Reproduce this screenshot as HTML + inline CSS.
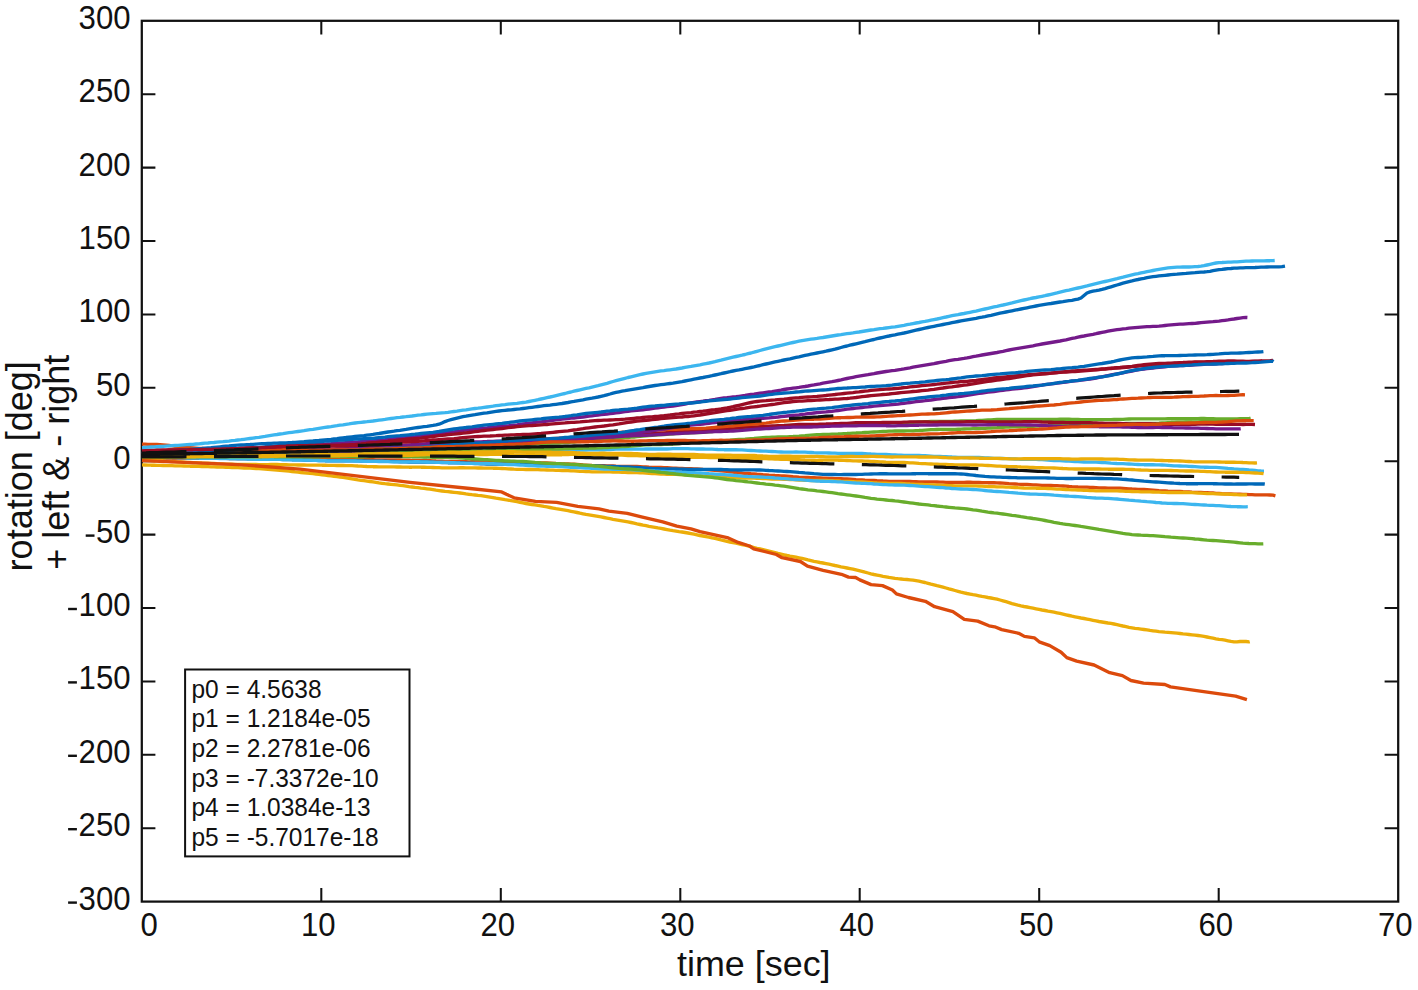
<!DOCTYPE html>
<html><head><meta charset="utf-8"><title>rotation vs time</title>
<style>
html,body{margin:0;padding:0;background:#fff;}
body{width:1418px;height:990px;overflow:hidden;font-family:"Liberation Sans",sans-serif;}
svg{display:block;}
svg text{font-family:"Liberation Sans",sans-serif;fill:#111;}
</style></head>
<body>
<svg width="1418" height="990" viewBox="0 0 1418 990">
<rect width="1418" height="990" fill="#ffffff"/>
<g fill="none" stroke="#111" stroke-width="2.05"><path d="M321.3 901.6 v-13.6 M321.3 20.8 v13.6"/><path d="M500.8 901.6 v-13.6 M500.8 20.8 v13.6"/><path d="M680.3 901.6 v-13.6 M680.3 20.8 v13.6"/><path d="M859.7 901.6 v-13.6 M859.7 20.8 v13.6"/><path d="M1039.2 901.6 v-13.6 M1039.2 20.8 v13.6"/><path d="M1218.7 901.6 v-13.6 M1218.7 20.8 v13.6"/><path d="M141.8 94.2 h13.6 M1398.2 94.2 h-13.6"/><path d="M141.8 167.6 h13.6 M1398.2 167.6 h-13.6"/><path d="M141.8 241.0 h13.6 M1398.2 241.0 h-13.6"/><path d="M141.8 314.4 h13.6 M1398.2 314.4 h-13.6"/><path d="M141.8 387.8 h13.6 M1398.2 387.8 h-13.6"/><path d="M141.8 461.2 h13.6 M1398.2 461.2 h-13.6"/><path d="M141.8 534.6 h13.6 M1398.2 534.6 h-13.6"/><path d="M141.8 608.0 h13.6 M1398.2 608.0 h-13.6"/><path d="M141.8 681.4 h13.6 M1398.2 681.4 h-13.6"/><path d="M141.8 754.8 h13.6 M1398.2 754.8 h-13.6"/><path d="M141.8 828.2 h13.6 M1398.2 828.2 h-13.6"/></g>
<rect x="141.8" y="20.8" width="1256.4" height="880.8" fill="none" stroke="#111" stroke-width="2.25"/>
<g fill="none" stroke-width="3.35" stroke-linejoin="round" stroke-linecap="butt">
<path d="M142.0 454.0 L145.0 453.8 L148.0 453.7 L151.0 453.5 L154.0 453.4 L157.0 453.2 L160.0 453.1 L163.0 453.0 L166.0 452.8 L169.0 452.7 L172.0 452.5 L175.0 452.4 L178.0 452.2 L181.0 452.1 L184.0 451.9 L187.0 451.8 L190.0 451.7 L193.0 451.6 L196.0 451.4 L199.0 451.3 L202.0 451.1 L205.0 451.0 L208.0 450.8 L211.0 450.7 L214.0 450.5 L217.0 450.4 L220.0 450.3 L223.0 450.2 L226.0 450.0 L229.0 449.9 L232.0 449.7 L235.0 449.6 L238.0 449.4 L241.0 449.3 L244.0 449.1 L247.0 449.0 L250.0 448.9 L253.0 448.8 L256.0 448.7 L259.0 448.6 L262.0 448.4 L265.0 448.2 L268.0 448.0 L271.0 447.8 L274.0 447.6 L277.0 447.5 L280.0 447.3 L283.0 447.1 L286.0 447.0 L289.0 446.8 L292.0 446.5 L295.0 446.3 L298.0 446.0 L301.0 445.7 L304.0 445.5 L307.0 445.2 L310.0 445.0 L313.0 444.9 L316.0 444.7 L319.0 444.5 L322.0 444.3 L325.0 444.1 L328.0 443.9 L331.0 443.7 L334.0 443.4 L337.0 443.2 L340.0 443.0 L343.0 442.9 L346.0 442.7 L349.0 442.6 L352.0 442.4 L355.0 442.2 L358.0 442.0 L361.0 441.7 L364.0 441.4 L367.0 441.1 L370.0 440.8 L373.0 440.5 L376.0 440.3 L379.0 440.1 L382.0 439.8 L385.0 439.6 L388.0 439.3 L391.0 439.0 L394.0 438.6 L397.0 438.3 L400.0 437.9 L403.0 437.6 L406.0 437.4 L409.0 437.2 L412.0 436.9 L415.0 436.7 L418.0 436.4 L421.0 436.1 L424.0 435.7 L427.0 435.3 L430.0 434.9 L433.0 434.5 L436.0 434.1 L439.0 433.7 L442.0 433.3 L445.0 433.0 L448.0 432.6 L451.0 432.2 L454.0 431.8 L457.0 431.3 L460.0 430.9 L463.0 430.4 L466.0 430.0 L469.0 429.6 L472.0 429.3 L475.0 429.0 L478.0 428.8 L481.0 428.5 L484.0 428.2 L487.0 427.9 L490.0 427.5 L493.0 427.2 L496.0 426.8 L499.0 426.5 L502.0 426.2 L505.0 426.0 L508.0 425.8 L511.0 425.5 L514.0 425.2 L517.0 424.9 L520.0 424.5 L523.0 424.0 L526.0 423.6 L529.0 423.2 L532.0 422.8 L535.0 422.4 L538.0 422.1 L541.0 421.8 L544.0 421.5 L547.0 421.1 L550.0 420.7 L553.0 420.3 L556.0 419.9 L559.0 419.5 L562.0 419.1 L565.0 418.8 L568.0 418.5 L571.0 418.2 L574.0 418.0 L577.0 417.7 L580.0 417.4 L583.0 417.0 L586.0 416.6 L589.0 416.2 L592.0 415.8 L595.0 415.4 L598.0 415.0 L601.0 414.7 L604.0 414.4 L607.0 414.1 L610.0 413.7 L613.0 413.3 L616.0 412.9 L619.0 412.5 L622.0 412.0 L625.0 411.6 L628.0 411.3 L631.0 410.9 L634.0 410.6 L637.0 410.4 L640.0 410.1 L643.0 409.8 L646.0 409.4 L649.0 409.0 L652.0 408.6 L655.0 408.2 L658.0 407.8 L661.0 407.4 L664.0 407.1 L667.0 406.7 L670.0 406.4 L673.0 406.0 L676.0 405.5 L679.0 405.0 L682.0 404.5 L685.0 404.0 L688.0 403.4 L691.0 402.9 L694.0 402.4 L697.0 402.0 L700.0 401.6 L703.0 401.2 L706.0 400.7 L709.0 400.3 L712.0 399.8 L715.0 399.4 L718.0 398.9 L721.0 398.4 L724.0 398.0 L727.0 397.7 L730.0 397.3 L733.0 397.0 L736.0 396.7 L739.0 396.3 L742.0 395.9 L745.0 395.5 L748.0 395.0 L751.0 394.5 L754.0 394.1 L757.0 393.6 L760.0 393.2 L763.0 392.8 L766.0 392.4 L769.0 392.0 L772.0 391.6 L775.0 391.1 L778.0 390.6 L781.0 390.1 L784.0 389.5 L787.0 389.0 L790.0 388.6 L793.0 388.2 L796.0 387.8 L799.0 387.4 L802.0 386.9 L805.0 386.5 L808.0 386.0 L811.0 385.4 L814.0 384.9 L817.0 384.3 L820.0 383.8 L823.0 383.2 L826.0 382.7 L829.0 382.2 L832.0 381.7 L835.0 381.1 L838.0 380.5 L841.0 379.9 L844.0 379.2 L847.0 378.5 L850.0 377.9 L853.0 377.3 L856.0 376.7 L859.0 376.2 L862.0 375.7 L865.0 375.2 L868.0 374.7 L871.0 374.1 L874.0 373.6 L877.0 373.0 L880.0 372.5 L883.0 372.0 L886.0 371.5 L889.0 371.1 L892.0 370.7 L895.0 370.3 L898.0 369.8 L901.0 369.4 L904.0 368.9 L907.0 368.3 L910.0 367.8 L913.0 367.2 L916.0 366.6 L919.0 366.1 L922.0 365.6 L925.0 365.1 L928.0 364.6 L931.0 364.1 L934.0 363.6 L937.0 363.0 L940.0 362.4 L943.0 361.8 L946.0 361.3 L949.0 360.7 L952.0 360.2 L955.0 359.7 L958.0 359.3 L961.0 358.8 L964.0 358.4 L967.0 357.9 L970.0 357.3 L973.0 356.7 L976.0 356.2 L979.0 355.6 L982.0 355.0 L985.0 354.5 L988.0 354.0 L991.0 353.5 L994.0 353.0 L997.0 352.5 L1000.0 351.9 L1003.0 351.3 L1006.0 350.6 L1009.0 350.0 L1012.0 349.4 L1015.0 348.8 L1018.0 348.3 L1021.0 347.8 L1024.0 347.3 L1027.0 346.8 L1030.0 346.3 L1033.0 345.8 L1036.0 345.2 L1039.0 344.6 L1042.0 344.0 L1045.0 343.5 L1048.0 343.0 L1051.0 342.5 L1054.0 342.0 L1057.0 341.5 L1060.0 341.0 L1063.0 340.4 L1066.0 339.8 L1069.0 339.1 L1072.0 338.4 L1075.0 337.8 L1078.0 337.1 L1081.0 336.5 L1084.0 336.0 L1087.0 335.4 L1090.0 334.8 L1093.0 334.3 L1096.0 333.7 L1099.0 333.0 L1102.0 332.4 L1105.0 331.8 L1108.0 331.2 L1111.0 330.6 L1114.0 330.1 L1117.0 329.7 L1120.0 329.3 L1123.0 328.9 L1126.0 328.6 L1129.0 328.2 L1132.0 327.9 L1135.0 327.6 L1138.0 327.3 L1141.0 327.1 L1144.0 326.9 L1147.0 326.7 L1150.0 326.6 L1153.0 326.4 L1156.0 326.3 L1159.0 326.1 L1162.0 325.8 L1165.0 325.5 L1168.0 325.2 L1171.0 324.9 L1174.0 324.6 L1177.0 324.4 L1180.0 324.2 L1183.0 324.1 L1186.0 323.9 L1189.0 323.7 L1192.0 323.5 L1195.0 323.3 L1198.0 323.0 L1201.0 322.7 L1204.0 322.4 L1207.0 322.1 L1210.0 321.8 L1213.0 321.6 L1216.0 321.3 L1219.0 321.1 L1222.0 320.7 L1225.0 320.3 L1228.0 319.9 L1231.0 319.4 L1234.0 319.0 L1237.0 318.5 L1240.0 318.1 L1243.0 317.7 L1246.0 317.4 L1247.4 317.5" stroke="#741A8A"/>
<path d="M142.0 458.0 L145.0 458.0 L148.0 458.0 L151.0 458.1 L154.0 458.1 L157.0 458.1 L160.0 458.1 L163.0 458.2 L166.0 458.2 L169.0 458.2 L172.0 458.2 L175.0 458.2 L178.0 458.3 L181.0 458.3 L184.0 458.3 L187.0 458.3 L190.0 458.3 L193.0 458.3 L196.0 458.3 L199.0 458.3 L202.0 458.3 L205.0 458.3 L208.0 458.3 L211.0 458.3 L214.0 458.3 L217.0 458.3 L220.0 458.4 L223.0 458.4 L226.0 458.4 L229.0 458.5 L232.0 458.5 L235.0 458.5 L238.0 458.5 L241.0 458.5 L244.0 458.5 L247.0 458.6 L250.0 458.6 L253.0 458.6 L256.0 458.7 L259.0 458.7 L262.0 458.7 L265.0 458.7 L268.0 458.7 L271.0 458.7 L274.0 458.7 L277.0 458.7 L280.0 458.8 L283.0 458.9 L286.0 458.9 L289.0 459.0 L292.0 459.1 L295.0 459.1 L298.0 459.1 L301.0 459.1 L304.0 459.2 L307.0 459.3 L310.0 459.3 L313.0 459.4 L316.0 459.5 L319.0 459.5 L322.0 459.5 L325.0 459.5 L328.0 459.4 L331.0 459.4 L334.0 459.3 L337.0 459.3 L340.0 459.3 L343.0 459.4 L346.0 459.4 L349.0 459.4 L352.0 459.4 L355.0 459.4 L358.0 459.4 L361.0 459.4 L364.0 459.4 L367.0 459.5 L370.0 459.6 L373.0 459.7 L376.0 459.8 L379.0 459.9 L382.0 459.9 L385.0 459.9 L388.0 459.9 L391.0 459.9 L394.0 459.9 L397.0 459.9 L400.0 460.0 L403.0 460.1 L406.0 460.2 L409.0 460.2 L412.0 460.3 L415.0 460.3 L418.0 460.3 L421.0 460.3 L424.0 460.3 L427.0 460.5 L430.0 460.6 L433.0 460.8 L436.0 461.0 L439.0 461.1 L442.0 461.2 L445.0 461.3 L448.0 461.3 L451.0 461.3 L454.0 461.4 L457.0 461.5 L460.0 461.5 L463.0 461.6 L466.0 461.7 L469.0 461.8 L472.0 461.7 L475.0 461.7 L478.0 461.6 L481.0 461.6 L484.0 461.5 L487.0 461.5 L490.0 461.6 L493.0 461.7 L496.0 461.8 L499.0 461.9 L502.0 462.0 L505.0 462.0 L508.0 462.0 L511.0 462.0 L514.0 462.1 L517.0 462.2 L520.0 462.4 L523.0 462.5 L526.0 462.7 L529.0 462.8 L532.0 462.9 L535.0 462.9 L538.0 462.9 L541.0 462.9 L544.0 462.9 L547.0 463.0 L550.0 463.1 L553.0 463.3 L556.0 463.5 L559.0 463.6 L562.0 463.8 L565.0 463.9 L568.0 464.0 L571.0 464.1 L574.0 464.2 L577.0 464.4 L580.0 464.6 L583.0 464.9 L586.0 465.1 L589.0 465.3 L592.0 465.5 L595.0 465.6 L598.0 465.6 L601.0 465.7 L604.0 465.7 L607.0 465.8 L610.0 465.9 L613.0 466.0 L616.0 466.2 L619.0 466.3 L622.0 466.3 L625.0 466.3 L628.0 466.3 L631.0 466.3 L634.0 466.4 L637.0 466.5 L640.0 466.6 L643.0 466.8 L646.0 467.0 L649.0 467.2 L652.0 467.3 L655.0 467.4 L658.0 467.5 L661.0 467.5 L664.0 467.6 L667.0 467.7 L670.0 467.9 L673.0 468.1 L676.0 468.2 L679.0 468.4 L682.0 468.5 L685.0 468.6 L688.0 468.6 L691.0 468.7 L694.0 468.8 L697.0 468.9 L700.0 469.1 L703.0 469.4 L706.0 469.6 L709.0 469.9 L712.0 470.2 L715.0 470.4 L718.0 470.6 L721.0 470.9 L724.0 471.1 L727.0 471.4 L730.0 471.8 L733.0 472.1 L736.0 472.5 L739.0 472.8 L742.0 473.1 L745.0 473.3 L748.0 473.5 L751.0 473.7 L754.0 473.8 L757.0 474.1 L760.0 474.3 L763.0 474.6 L766.0 474.8 L769.0 475.1 L772.0 475.3 L775.0 475.5 L778.0 475.6 L781.0 475.8 L784.0 476.0 L787.0 476.2 L790.0 476.4 L793.0 476.7 L796.0 476.9 L799.0 477.2 L802.0 477.3 L805.0 477.5 L808.0 477.5 L811.0 477.6 L814.0 477.7 L817.0 477.8 L820.0 477.9 L823.0 478.1 L826.0 478.2 L829.0 478.4 L832.0 478.5 L835.0 478.6 L838.0 478.6 L841.0 478.7 L844.0 478.8 L847.0 478.9 L850.0 479.1 L853.0 479.3 L856.0 479.6 L859.0 479.8 L862.0 480.0 L865.0 480.2 L868.0 480.3 L871.0 480.4 L874.0 480.5 L877.0 480.7 L880.0 480.8 L883.0 481.0 L886.0 481.1 L889.0 481.3 L892.0 481.4 L895.0 481.4 L898.0 481.4 L901.0 481.4 L904.0 481.4 L907.0 481.4 L910.0 481.5 L913.0 481.6 L916.0 481.7 L919.0 481.8 L922.0 481.9 L925.0 481.9 L928.0 481.9 L931.0 481.9 L934.0 481.9 L937.0 482.0 L940.0 482.1 L943.0 482.2 L946.0 482.3 L949.0 482.4 L952.0 482.4 L955.0 482.4 L958.0 482.4 L961.0 482.3 L964.0 482.3 L967.0 482.2 L970.0 482.2 L973.0 482.3 L976.0 482.4 L979.0 482.5 L982.0 482.6 L985.0 482.6 L988.0 482.7 L991.0 482.7 L994.0 482.7 L997.0 482.8 L1000.0 483.0 L1003.0 483.2 L1006.0 483.4 L1009.0 483.7 L1012.0 483.9 L1015.0 484.0 L1018.0 484.2 L1021.0 484.3 L1024.0 484.3 L1027.0 484.4 L1030.0 484.6 L1033.0 484.8 L1036.0 484.9 L1039.0 485.1 L1042.0 485.3 L1045.0 485.4 L1048.0 485.4 L1051.0 485.5 L1054.0 485.6 L1057.0 485.7 L1060.0 485.8 L1063.0 486.0 L1066.0 486.2 L1069.0 486.5 L1072.0 486.7 L1075.0 486.8 L1078.0 487.0 L1081.0 487.1 L1084.0 487.1 L1087.0 487.2 L1090.0 487.4 L1093.0 487.5 L1096.0 487.7 L1099.0 487.9 L1102.0 488.0 L1105.0 488.0 L1108.0 488.1 L1111.0 488.1 L1114.0 488.1 L1117.0 488.1 L1120.0 488.2 L1123.0 488.4 L1126.0 488.6 L1129.0 488.8 L1132.0 489.0 L1135.0 489.1 L1138.0 489.3 L1141.0 489.4 L1144.0 489.5 L1147.0 489.7 L1150.0 489.9 L1153.0 490.1 L1156.0 490.4 L1159.0 490.7 L1162.0 490.9 L1165.0 491.0 L1168.0 491.2 L1171.0 491.3 L1174.0 491.3 L1177.0 491.4 L1180.0 491.5 L1183.0 491.7 L1186.0 491.8 L1189.0 492.0 L1192.0 492.2 L1195.0 492.3 L1198.0 492.4 L1201.0 492.5 L1204.0 492.6 L1207.0 492.7 L1210.0 492.8 L1213.0 493.0 L1216.0 493.3 L1219.0 493.5 L1222.0 493.7 L1225.0 493.8 L1228.0 493.9 L1231.0 494.0 L1234.0 494.1 L1237.0 494.1 L1240.0 494.2 L1243.0 494.3 L1246.0 494.4 L1249.0 494.6 L1252.0 494.7 L1255.0 494.8 L1258.0 494.8 L1261.0 494.8 L1264.0 494.9 L1267.0 494.9 L1270.0 495.0 L1273.0 495.2 L1275.4 495.8" stroke="#DC4A0C"/>
<path d="M142.0 460.0 L145.0 460.1 L148.0 460.3 L151.0 460.4 L154.0 460.6 L157.0 460.7 L160.0 460.9 L163.0 461.0 L166.0 461.2 L169.0 461.3 L172.0 461.5 L175.0 461.6 L178.0 461.8 L181.0 461.9 L184.0 462.1 L187.0 462.3 L190.0 462.4 L193.0 462.6 L196.0 462.7 L199.0 462.8 L202.0 463.0 L205.0 463.1 L208.0 463.2 L211.0 463.4 L214.0 463.5 L217.0 463.7 L220.0 463.8 L223.0 463.9 L226.0 464.1 L229.0 464.1 L232.0 464.2 L235.0 464.3 L238.0 464.3 L241.0 464.3 L244.0 464.4 L247.0 464.4 L250.0 464.5 L253.0 464.5 L256.0 464.5 L259.0 464.6 L262.0 464.6 L265.0 464.6 L268.0 464.6 L271.0 464.5 L274.0 464.5 L277.0 464.5 L280.0 464.6 L283.0 464.6 L286.0 464.7 L289.0 464.8 L292.0 464.8 L295.0 464.9 L298.0 465.0 L301.0 465.0 L304.0 465.0 L307.0 465.1 L310.0 465.1 L313.0 465.1 L316.0 465.1 L319.0 465.1 L322.0 465.2 L325.0 465.2 L328.0 465.3 L331.0 465.4 L334.0 465.4 L337.0 465.5 L340.0 465.5 L343.0 465.5 L346.0 465.6 L349.0 465.6 L352.0 465.7 L355.0 465.8 L358.0 466.0 L361.0 466.1 L364.0 466.3 L367.0 466.5 L370.0 466.6 L373.0 466.7 L376.0 466.7 L379.0 466.8 L382.0 466.8 L385.0 466.8 L388.0 466.8 L391.0 466.8 L394.0 466.9 L397.0 467.0 L400.0 467.0 L403.0 467.1 L406.0 467.1 L409.0 467.2 L412.0 467.2 L415.0 467.1 L418.0 467.1 L421.0 467.2 L424.0 467.2 L427.0 467.3 L430.0 467.4 L433.0 467.5 L436.0 467.6 L439.0 467.7 L442.0 467.8 L445.0 467.9 L448.0 467.9 L451.0 467.9 L454.0 467.8 L457.0 467.8 L460.0 467.7 L463.0 467.7 L466.0 467.8 L469.0 467.8 L472.0 467.9 L475.0 467.9 L478.0 468.0 L481.0 468.0 L484.0 468.1 L487.0 468.1 L490.0 468.1 L493.0 468.2 L496.0 468.2 L499.0 468.4 L502.0 468.5 L505.0 468.7 L508.0 468.9 L511.0 469.0 L514.0 469.2 L517.0 469.3 L520.0 469.4 L523.0 469.4 L526.0 469.5 L529.0 469.5 L532.0 469.5 L535.0 469.6 L538.0 469.6 L541.0 469.8 L544.0 469.9 L547.0 470.0 L550.0 470.1 L553.0 470.2 L556.0 470.3 L559.0 470.4 L562.0 470.5 L565.0 470.5 L568.0 470.6 L571.0 470.8 L574.0 470.9 L577.0 471.1 L580.0 471.3 L583.0 471.4 L586.0 471.6 L589.0 471.7 L592.0 471.8 L595.0 471.8 L598.0 471.8 L601.0 471.8 L604.0 471.8 L607.0 471.8 L610.0 471.9 L613.0 472.0 L616.0 472.1 L619.0 472.2 L622.0 472.3 L625.0 472.4 L628.0 472.5 L631.0 472.5 L634.0 472.6 L637.0 472.7 L640.0 472.8 L643.0 472.9 L646.0 473.1 L649.0 473.3 L652.0 473.5 L655.0 473.7 L658.0 473.9 L661.0 474.1 L664.0 474.2 L667.0 474.3 L670.0 474.3 L673.0 474.4 L676.0 474.4 L679.0 474.5 L682.0 474.6 L685.0 474.8 L688.0 474.9 L691.0 475.1 L694.0 475.3 L697.0 475.5 L700.0 475.6 L703.0 475.8 L706.0 475.9 L709.0 476.0 L712.0 476.2 L715.0 476.4 L718.0 476.6 L721.0 476.8 L724.0 477.0 L727.0 477.2 L730.0 477.5 L733.0 477.6 L736.0 477.8 L739.0 477.9 L742.0 477.9 L745.0 478.0 L748.0 478.0 L751.0 478.1 L754.0 478.1 L757.0 478.3 L760.0 478.4 L763.0 478.5 L766.0 478.7 L769.0 478.8 L772.0 479.0 L775.0 479.1 L778.0 479.1 L781.0 479.2 L784.0 479.3 L787.0 479.4 L790.0 479.6 L793.0 479.7 L796.0 479.9 L799.0 480.1 L802.0 480.2 L805.0 480.3 L808.0 480.4 L811.0 480.5 L814.0 480.5 L817.0 480.5 L820.0 480.5 L823.0 480.5 L826.0 480.5 L829.0 480.6 L832.0 480.7 L835.0 480.9 L838.0 481.0 L841.0 481.2 L844.0 481.3 L847.0 481.4 L850.0 481.5 L853.0 481.6 L856.0 481.8 L859.0 481.9 L862.0 482.0 L865.0 482.2 L868.0 482.4 L871.0 482.6 L874.0 482.8 L877.0 483.0 L880.0 483.1 L883.0 483.2 L886.0 483.2 L889.0 483.3 L892.0 483.3 L895.0 483.3 L898.0 483.4 L901.0 483.5 L904.0 483.6 L907.0 483.8 L910.0 484.0 L913.0 484.1 L916.0 484.3 L919.0 484.4 L922.0 484.5 L925.0 484.6 L928.0 484.7 L931.0 484.8 L934.0 484.9 L937.0 485.1 L940.0 485.2 L943.0 485.4 L946.0 485.5 L949.0 485.6 L952.0 485.7 L955.0 485.8 L958.0 485.8 L961.0 485.8 L964.0 485.8 L967.0 485.8 L970.0 485.8 L973.0 485.8 L976.0 485.9 L979.0 486.1 L982.0 486.2 L985.0 486.3 L988.0 486.5 L991.0 486.6 L994.0 486.7 L997.0 486.8 L1000.0 486.9 L1003.0 486.9 L1006.0 487.1 L1009.0 487.2 L1012.0 487.4 L1015.0 487.5 L1018.0 487.7 L1021.0 487.8 L1024.0 488.0 L1027.0 488.1 L1030.0 488.1 L1033.0 488.1 L1036.0 488.2 L1039.0 488.2 L1042.0 488.3 L1045.0 488.4 L1048.0 488.5 L1051.0 488.7 L1054.0 488.9 L1057.0 489.1 L1060.0 489.2 L1063.0 489.4 L1066.0 489.5 L1069.0 489.7 L1072.0 489.8 L1075.0 489.9 L1078.0 490.0 L1081.0 490.1 L1084.0 490.3 L1087.0 490.4 L1090.0 490.6 L1093.0 490.7 L1096.0 490.8 L1099.0 490.9 L1102.0 490.9 L1105.0 490.9 L1108.0 490.9 L1111.0 490.9 L1114.0 490.9 L1117.0 490.9 L1120.0 491.0 L1123.0 491.1 L1126.0 491.3 L1129.0 491.4 L1132.0 491.5 L1135.0 491.6 L1138.0 491.7 L1141.0 491.8 L1144.0 491.8 L1147.0 491.9 L1150.0 491.9 L1153.0 492.0 L1156.0 492.1 L1159.0 492.2 L1162.0 492.3 L1165.0 492.4 L1168.0 492.5 L1171.0 492.5 L1174.0 492.5 L1177.0 492.5 L1180.0 492.5 L1183.0 492.5 L1186.0 492.5 L1189.0 492.6 L1192.0 492.7 L1195.0 492.8 L1198.0 493.0 L1201.0 493.1 L1204.0 493.3 L1207.0 493.5 L1210.0 493.6 L1213.0 493.7 L1216.0 493.8 L1219.0 493.9 L1222.0 494.0 L1225.0 494.1 L1228.0 494.2 L1231.0 494.4 L1234.0 494.5 L1237.0 494.7 L1240.0 494.8 L1243.0 494.9 L1246.0 494.9 L1247.0 494.7" stroke="#ECAD08"/>
<path d="M142.0 464.9 L145.0 465.0 L148.0 465.1 L151.0 465.2 L154.0 465.2 L157.0 465.3 L160.0 465.4 L163.0 465.5 L166.0 465.6 L169.0 465.6 L172.0 465.7 L175.0 465.8 L178.0 465.9 L181.0 465.9 L184.0 466.0 L187.0 466.1 L190.0 466.2 L193.0 466.2 L196.0 466.3 L199.0 466.4 L202.0 466.5 L205.0 466.6 L208.0 466.7 L211.0 466.8 L214.0 466.9 L217.0 467.0 L220.0 467.1 L223.0 467.2 L226.0 467.3 L229.0 467.4 L232.0 467.5 L235.0 467.6 L238.0 467.7 L241.0 467.9 L244.0 468.0 L247.0 468.1 L250.0 468.2 L253.0 468.3 L256.0 468.5 L259.0 468.7 L262.0 468.9 L265.0 469.1 L268.0 469.4 L271.0 469.6 L274.0 469.9 L277.0 470.1 L280.0 470.3 L283.0 470.6 L286.0 470.9 L289.0 471.2 L292.0 471.5 L295.0 471.9 L298.0 472.2 L301.0 472.5 L304.0 472.8 L307.0 473.1 L310.0 473.3 L313.0 473.6 L316.0 474.0 L319.0 474.4 L322.0 474.8 L325.0 475.2 L328.0 475.5 L331.0 475.9 L334.0 476.3 L337.0 476.6 L340.0 477.0 L343.0 477.4 L346.0 477.9 L349.0 478.4 L352.0 478.9 L355.0 479.4 L358.0 479.9 L361.0 480.3 L364.0 480.7 L367.0 481.1 L370.0 481.5 L373.0 481.9 L376.0 482.4 L379.0 482.9 L382.0 483.3 L385.0 483.7 L388.0 484.0 L391.0 484.3 L394.0 484.6 L397.0 484.9 L400.0 485.3 L403.0 485.7 L406.0 486.1 L409.0 486.6 L412.0 487.0 L415.0 487.4 L418.0 487.7 L421.0 488.1 L424.0 488.4 L427.0 488.8 L430.0 489.2 L433.0 489.7 L436.0 490.2 L439.0 490.6 L442.0 491.0 L445.0 491.4 L448.0 491.7 L451.0 492.0 L454.0 492.3 L457.0 492.6 L460.0 493.0 L463.0 493.4 L466.0 493.9 L469.0 494.3 L472.0 494.7 L475.0 495.0 L478.0 495.4 L481.0 495.7 L484.0 496.1 L487.0 496.6 L490.0 497.1 L493.0 497.6 L496.0 498.2 L499.0 498.7 L502.0 499.2 L505.0 499.7 L508.0 500.1 L511.0 500.6 L514.0 501.1 L517.0 501.7 L520.0 502.3 L523.0 502.9 L526.0 503.5 L529.0 504.0 L532.0 504.5 L535.0 504.9 L538.0 505.4 L541.0 505.8 L544.0 506.4 L547.0 506.9 L550.0 507.5 L553.0 508.1 L556.0 508.7 L559.0 509.2 L562.0 509.7 L565.0 510.2 L568.0 510.7 L571.0 511.3 L574.0 511.9 L577.0 512.5 L580.0 513.2 L583.0 513.8 L586.0 514.4 L589.0 514.9 L592.0 515.4 L595.0 515.9 L598.0 516.4 L601.0 516.9 L604.0 517.5 L607.0 518.1 L610.0 518.7 L613.0 519.3 L616.0 519.8 L619.0 520.3 L622.0 520.8 L625.0 521.3 L628.0 521.9 L631.0 522.5 L634.0 523.2 L637.0 523.9 L640.0 524.5 L643.0 525.2 L646.0 525.7 L649.0 526.3 L652.0 526.8 L655.0 527.3 L658.0 527.9 L661.0 528.4 L664.0 529.0 L667.0 529.6 L670.0 530.2 L673.0 530.7 L676.0 531.1 L679.0 531.6 L682.0 532.0 L685.0 532.5 L688.0 533.0 L691.0 533.6 L694.0 534.2 L697.0 534.8 L700.0 535.5 L703.0 536.0 L706.0 536.6 L709.0 537.2 L712.0 537.8 L715.0 538.4 L718.0 539.1 L721.0 539.9 L724.0 540.6 L727.0 541.3 L730.0 542.0 L733.0 542.6 L736.0 543.2 L739.0 543.8 L742.0 544.5 L745.0 545.2 L748.0 545.9 L751.0 546.7 L754.0 547.5 L757.0 548.3 L760.0 549.0 L763.0 549.7 L766.0 550.4 L769.0 551.1 L772.0 551.8 L775.0 552.6 L778.0 553.4 L781.0 554.1 L784.0 554.8 L787.0 555.5 L790.0 556.1 L793.0 556.6 L796.0 557.2 L799.0 557.8 L802.0 558.4 L805.0 559.1 L808.0 559.9 L811.0 560.6 L814.0 561.3 L817.0 561.9 L820.0 562.5 L823.0 563.0 L826.0 563.6 L829.0 564.2 L832.0 564.8 L835.0 565.5 L838.0 566.1 L841.0 566.8 L844.0 567.4 L847.0 568.0 L850.0 568.6 L853.0 569.2 L856.0 569.9 L859.0 570.6 L862.0 571.3 L865.0 572.2 L868.0 573.0 L871.0 573.8 L874.0 574.5 L877.0 575.1 L880.0 575.7 L883.0 576.3 L886.0 576.8 L889.0 577.4 L892.0 577.8 L895.0 578.3 L898.0 578.7 L901.0 579.0 L904.0 579.3 L907.0 579.5 L910.0 579.8 L913.0 580.1 L916.0 580.6 L919.0 581.1 L922.0 581.8 L925.0 582.5 L928.0 583.3 L931.0 584.1 L934.0 584.8 L937.0 585.6 L940.0 586.3 L943.0 587.1 L946.0 588.0 L949.0 588.9 L952.0 589.7 L955.0 590.5 L958.0 591.3 L961.0 592.1 L964.0 592.8 L967.0 593.5 L970.0 594.1 L973.0 594.7 L976.0 595.2 L979.0 595.8 L982.0 596.4 L985.0 596.9 L988.0 597.5 L991.0 598.0 L994.0 598.6 L997.0 599.2 L1000.0 600.0 L1003.0 600.8 L1006.0 601.7 L1009.0 602.6 L1012.0 603.6 L1015.0 604.4 L1018.0 605.2 L1021.0 605.9 L1024.0 606.5 L1027.0 607.0 L1030.0 607.6 L1033.0 608.2 L1036.0 608.8 L1039.0 609.4 L1042.0 610.0 L1045.0 610.5 L1048.0 611.1 L1051.0 611.6 L1054.0 612.2 L1057.0 612.8 L1060.0 613.4 L1063.0 614.1 L1066.0 614.8 L1069.0 615.5 L1072.0 616.2 L1075.0 616.8 L1078.0 617.4 L1081.0 618.0 L1084.0 618.5 L1087.0 619.1 L1090.0 619.7 L1093.0 620.3 L1096.0 620.9 L1099.0 621.5 L1102.0 622.0 L1105.0 622.5 L1108.0 623.0 L1111.0 623.4 L1114.0 624.0 L1117.0 624.6 L1120.0 625.3 L1123.0 626.0 L1126.0 626.6 L1129.0 627.3 L1132.0 627.8 L1135.0 628.3 L1138.0 628.7 L1141.0 629.1 L1144.0 629.5 L1147.0 629.9 L1150.0 630.4 L1153.0 630.8 L1156.0 631.2 L1159.0 631.6 L1162.0 631.8 L1165.0 632.1 L1168.0 632.3 L1171.0 632.6 L1174.0 632.9 L1177.0 633.2 L1180.0 633.5 L1183.0 633.9 L1186.0 634.2 L1189.0 634.5 L1192.0 634.8 L1195.0 635.1 L1198.0 635.5 L1201.0 635.9 L1204.0 636.4 L1207.0 637.0 L1210.0 637.6 L1213.0 638.2 L1216.0 638.8 L1219.0 639.3 L1222.0 639.7 L1225.0 640.2 L1228.0 640.8 L1231.0 641.4 L1234.0 641.8 L1237.0 641.8 L1240.0 641.5 L1243.0 641.3 L1246.0 641.5 L1249.0 641.8 L1249.7 641.6" stroke="#ECAD08"/>
<path d="M142.0 460.7 L238.0 464.6 L300.0 469.2 L410.0 482.4 L470.0 488.5 L501.7 491.9 L506.4 494.3 L514.1 497.8 L535.4 501.3 L556.6 502.3 L577.8 506.3 L599.0 508.8 L608.9 511.2 L627.3 513.4 L641.4 516.9 L662.7 521.8 L676.8 526.1 L691.0 528.9 L700.0 531.7 L728.3 537.9 L738.2 542.4 L749.5 546.0 L753.7 548.8 L776.4 554.5 L782.0 557.7 L800.4 561.5 L807.5 566.2 L823.1 570.4 L841.4 574.3 L848.5 577.1 L855.6 577.5 L859.8 579.9 L871.1 584.6 L882.5 585.6 L892.4 590.0 L896.4 593.9 L908.4 597.5 L925.4 601.3 L934.6 606.7 L952.9 611.6 L964.3 619.4 L977.7 621.1 L989.0 625.8 L994.7 626.8 L1001.7 629.6 L1018.7 633.3 L1024.4 636.4 L1034.3 637.8 L1039.2 641.8 L1049.8 645.6 L1061.1 652.2 L1066.8 657.6 L1076.7 661.1 L1094.1 665.0 L1109.7 672.7 L1122.4 675.6 L1130.9 680.5 L1143.6 683.1 L1164.9 684.5 L1170.5 686.9 L1200.2 691.1 L1235.6 696.1 L1246.9 699.6" stroke="#DC4A0C"/>
<path d="M142.0 456.5 L145.0 456.6 L148.0 456.6 L151.0 456.7 L154.0 456.8 L157.0 456.8 L160.0 456.9 L163.0 457.0 L166.0 457.0 L169.0 457.1 L172.0 457.1 L175.0 457.2 L178.0 457.2 L181.0 457.3 L184.0 457.4 L187.0 457.4 L190.0 457.5 L193.0 457.5 L196.0 457.6 L199.0 457.7 L202.0 457.7 L205.0 457.8 L208.0 457.8 L211.0 457.9 L214.0 457.9 L217.0 458.0 L220.0 458.0 L223.0 458.1 L226.0 458.2 L229.0 458.3 L232.0 458.3 L235.0 458.4 L238.0 458.5 L241.0 458.6 L244.0 458.6 L247.0 458.7 L250.0 458.7 L253.0 458.8 L256.0 458.8 L259.0 458.8 L262.0 458.9 L265.0 458.9 L268.0 459.0 L271.0 459.1 L274.0 459.2 L277.0 459.3 L280.0 459.4 L283.0 459.5 L286.0 459.5 L289.0 459.6 L292.0 459.7 L295.0 459.7 L298.0 459.8 L301.0 459.9 L304.0 460.0 L307.0 460.1 L310.0 460.2 L313.0 460.3 L316.0 460.4 L319.0 460.5 L322.0 460.6 L325.0 460.7 L328.0 460.7 L331.0 460.7 L334.0 460.7 L337.0 460.7 L340.0 460.7 L343.0 460.7 L346.0 460.7 L349.0 460.8 L352.0 460.8 L355.0 460.9 L358.0 460.9 L361.0 461.0 L364.0 461.0 L367.0 461.1 L370.0 461.1 L373.0 461.1 L376.0 461.1 L379.0 461.1 L382.0 461.1 L385.0 461.2 L388.0 461.3 L391.0 461.4 L394.0 461.5 L397.0 461.7 L400.0 461.8 L403.0 461.9 L406.0 461.9 L409.0 462.0 L412.0 462.0 L415.0 462.0 L418.0 462.0 L421.0 462.0 L424.0 462.0 L427.0 462.1 L430.0 462.1 L433.0 462.2 L436.0 462.3 L439.0 462.4 L442.0 462.5 L445.0 462.6 L448.0 462.7 L451.0 462.7 L454.0 462.8 L457.0 462.8 L460.0 462.9 L463.0 463.0 L466.0 463.1 L469.0 463.2 L472.0 463.3 L475.0 463.5 L478.0 463.6 L481.0 463.8 L484.0 463.9 L487.0 464.0 L490.0 464.1 L493.0 464.1 L496.0 464.2 L499.0 464.1 L502.0 464.1 L505.0 464.1 L508.0 464.1 L511.0 464.2 L514.0 464.2 L517.0 464.3 L520.0 464.3 L523.0 464.4 L526.0 464.5 L529.0 464.5 L532.0 464.5 L535.0 464.5 L538.0 464.5 L541.0 464.6 L544.0 464.6 L547.0 464.6 L550.0 464.7 L553.0 464.8 L556.0 464.9 L559.0 465.1 L562.0 465.2 L565.0 465.3 L568.0 465.5 L571.0 465.5 L574.0 465.6 L577.0 465.7 L580.0 465.7 L583.0 465.7 L586.0 465.7 L589.0 465.8 L592.0 465.8 L595.0 465.9 L598.0 466.0 L601.0 466.1 L604.0 466.2 L607.0 466.3 L610.0 466.4 L613.0 466.5 L616.0 466.6 L619.0 466.7 L622.0 466.8 L625.0 466.9 L628.0 467.0 L631.0 467.1 L634.0 467.3 L637.0 467.5 L640.0 467.7 L643.0 467.9 L646.0 468.1 L649.0 468.3 L652.0 468.5 L655.0 468.6 L658.0 468.7 L661.0 468.8 L664.0 468.8 L667.0 468.8 L670.0 468.9 L673.0 468.9 L676.0 469.0 L679.0 469.1 L682.0 469.2 L685.0 469.2 L688.0 469.3 L691.0 469.4 L694.0 469.4 L697.0 469.4 L700.0 469.4 L703.0 469.4 L706.0 469.4 L709.0 469.3 L712.0 469.4 L715.0 469.4 L718.0 469.5 L721.0 469.5 L724.0 469.6 L727.0 469.7 L730.0 469.8 L733.0 469.9 L736.0 469.9 L739.0 470.0 L742.0 470.0 L745.0 469.9 L748.0 469.9 L751.0 469.9 L754.0 469.9 L757.0 470.0 L760.0 470.0 L763.0 470.1 L766.0 470.3 L769.0 470.5 L772.0 470.6 L775.0 470.8 L778.0 471.0 L781.0 471.2 L784.0 471.4 L787.0 471.5 L790.0 471.7 L793.0 471.9 L796.0 472.1 L799.0 472.4 L802.0 472.6 L805.0 472.9 L808.0 473.1 L811.0 473.4 L814.0 473.7 L817.0 473.9 L820.0 474.1 L823.0 474.3 L826.0 474.4 L829.0 474.5 L832.0 474.5 L835.0 474.5 L838.0 474.6 L841.0 474.6 L844.0 474.5 L847.0 474.5 L850.0 474.5 L853.0 474.5 L856.0 474.5 L859.0 474.4 L862.0 474.3 L865.0 474.2 L868.0 474.1 L871.0 474.0 L874.0 473.9 L877.0 473.8 L880.0 473.7 L883.0 473.7 L886.0 473.7 L889.0 473.8 L892.0 473.8 L895.0 473.8 L898.0 473.9 L901.0 473.9 L904.0 473.9 L907.0 473.8 L910.0 473.8 L913.0 473.7 L916.0 473.7 L919.0 473.6 L922.0 473.6 L925.0 473.6 L928.0 473.7 L931.0 473.7 L934.0 473.7 L937.0 473.7 L940.0 473.7 L943.0 473.7 L946.0 473.7 L949.0 473.7 L952.0 473.7 L955.0 473.7 L958.0 473.8 L961.0 474.0 L964.0 474.2 L967.0 474.5 L970.0 474.8 L973.0 475.1 L976.0 475.5 L979.0 475.8 L982.0 476.1 L985.0 476.4 L988.0 476.6 L991.0 476.8 L994.0 476.9 L997.0 477.1 L1000.0 477.2 L1003.0 477.3 L1006.0 477.4 L1009.0 477.5 L1012.0 477.6 L1015.0 477.7 L1018.0 477.8 L1021.0 477.9 L1024.0 477.9 L1027.0 477.9 L1030.0 477.9 L1033.0 477.9 L1036.0 477.9 L1039.0 477.9 L1042.0 477.9 L1045.0 477.9 L1048.0 478.0 L1051.0 478.1 L1054.0 478.2 L1057.0 478.3 L1060.0 478.4 L1063.0 478.4 L1066.0 478.5 L1069.0 478.5 L1072.0 478.5 L1075.0 478.4 L1078.0 478.4 L1081.0 478.3 L1084.0 478.3 L1087.0 478.3 L1090.0 478.3 L1093.0 478.4 L1096.0 478.4 L1099.0 478.5 L1102.0 478.5 L1105.0 478.6 L1108.0 478.6 L1111.0 478.7 L1114.0 478.8 L1117.0 478.9 L1120.0 479.1 L1123.0 479.3 L1126.0 479.5 L1129.0 479.8 L1132.0 480.0 L1135.0 480.3 L1138.0 480.6 L1141.0 480.9 L1144.0 481.2 L1147.0 481.4 L1150.0 481.6 L1153.0 481.8 L1156.0 482.0 L1159.0 482.2 L1162.0 482.4 L1165.0 482.6 L1168.0 482.8 L1171.0 483.0 L1174.0 483.2 L1177.0 483.3 L1180.0 483.5 L1183.0 483.6 L1186.0 483.7 L1189.0 483.7 L1192.0 483.7 L1195.0 483.7 L1198.0 483.7 L1201.0 483.6 L1204.0 483.6 L1207.0 483.6 L1210.0 483.6 L1213.0 483.7 L1216.0 483.7 L1219.0 483.8 L1222.0 483.9 L1225.0 484.0 L1228.0 484.0 L1231.0 484.0 L1234.0 484.1 L1237.0 484.0 L1240.0 484.0 L1243.0 484.0 L1246.0 484.0 L1249.0 483.9 L1252.0 483.9 L1255.0 484.0 L1258.0 484.0 L1261.0 484.0 L1264.0 484.0 L1264.8 484.1" stroke="#0068B8"/>
<path d="M142.0 456.0 L145.0 456.0 L148.0 455.9 L151.0 455.9 L154.0 455.9 L157.0 455.8 L160.0 455.8 L163.0 455.8 L166.0 455.7 L169.0 455.7 L172.0 455.7 L175.0 455.6 L178.0 455.6 L181.0 455.6 L184.0 455.5 L187.0 455.5 L190.0 455.5 L193.0 455.4 L196.0 455.3 L199.0 455.3 L202.0 455.2 L205.0 455.2 L208.0 455.1 L211.0 455.1 L214.0 455.1 L217.0 455.1 L220.0 455.0 L223.0 455.0 L226.0 454.9 L229.0 454.9 L232.0 454.8 L235.0 454.8 L238.0 454.8 L241.0 454.8 L244.0 454.7 L247.0 454.7 L250.0 454.6 L253.0 454.5 L256.0 454.4 L259.0 454.3 L262.0 454.3 L265.0 454.2 L268.0 454.2 L271.0 454.2 L274.0 454.2 L277.0 454.2 L280.0 454.2 L283.0 454.2 L286.0 454.1 L289.0 454.1 L292.0 454.1 L295.0 454.1 L298.0 454.1 L301.0 454.1 L304.0 454.0 L307.0 454.0 L310.0 453.9 L313.0 453.8 L316.0 453.7 L319.0 453.6 L322.0 453.6 L325.0 453.6 L328.0 453.6 L331.0 453.6 L334.0 453.7 L337.0 453.7 L340.0 453.7 L343.0 453.6 L346.0 453.6 L349.0 453.5 L352.0 453.5 L355.0 453.5 L358.0 453.5 L361.0 453.5 L364.0 453.4 L367.0 453.4 L370.0 453.3 L373.0 453.1 L376.0 452.9 L379.0 452.8 L382.0 452.7 L385.0 452.6 L388.0 452.6 L391.0 452.7 L394.0 452.7 L397.0 452.7 L400.0 452.6 L403.0 452.5 L406.0 452.5 L409.0 452.4 L412.0 452.3 L415.0 452.3 L418.0 452.2 L421.0 452.2 L424.0 452.2 L427.0 452.1 L430.0 451.9 L433.0 451.8 L436.0 451.6 L439.0 451.4 L442.0 451.4 L445.0 451.3 L448.0 451.3 L451.0 451.4 L454.0 451.4 L457.0 451.4 L460.0 451.4 L463.0 451.4 L466.0 451.3 L469.0 451.3 L472.0 451.2 L475.0 451.3 L478.0 451.3 L481.0 451.3 L484.0 451.3 L487.0 451.2 L490.0 451.1 L493.0 451.0 L496.0 450.9 L499.0 450.8 L502.0 450.7 L505.0 450.7 L508.0 450.8 L511.0 450.9 L514.0 450.9 L517.0 450.9 L520.0 450.9 L523.0 450.9 L526.0 450.9 L529.0 450.8 L532.0 450.8 L535.0 450.8 L538.0 450.8 L541.0 450.8 L544.0 450.8 L547.0 450.7 L550.0 450.6 L553.0 450.5 L556.0 450.3 L559.0 450.2 L562.0 450.1 L565.0 450.1 L568.0 450.1 L571.0 450.2 L574.0 450.2 L577.0 450.2 L580.0 450.1 L583.0 450.1 L586.0 450.0 L589.0 449.9 L592.0 449.9 L595.0 449.9 L598.0 449.9 L601.0 449.9 L604.0 449.8 L607.0 449.7 L610.0 449.6 L613.0 449.4 L616.0 449.2 L619.0 449.1 L622.0 449.0 L625.0 449.0 L628.0 449.1 L631.0 449.1 L634.0 449.1 L637.0 449.1 L640.0 449.1 L643.0 449.1 L646.0 449.0 L649.0 449.0 L652.0 449.0 L655.0 449.0 L658.0 449.0 L661.0 449.0 L664.0 449.0 L667.0 449.0 L670.0 448.9 L673.0 448.7 L676.0 448.6 L679.0 448.6 L682.0 448.6 L685.0 448.6 L688.0 448.7 L691.0 448.8 L694.0 448.9 L697.0 449.0 L700.0 449.0 L703.0 449.0 L706.0 449.1 L709.0 449.1 L712.0 449.2 L715.0 449.3 L718.0 449.5 L721.0 449.6 L724.0 449.7 L727.0 449.7 L730.0 449.7 L733.0 449.7 L736.0 449.7 L739.0 449.8 L742.0 449.9 L745.0 450.1 L748.0 450.3 L751.0 450.5 L754.0 450.7 L757.0 450.9 L760.0 451.0 L763.0 451.1 L766.0 451.2 L769.0 451.4 L772.0 451.5 L775.0 451.7 L778.0 451.9 L781.0 452.0 L784.0 452.1 L787.0 452.1 L790.0 452.1 L793.0 452.1 L796.0 452.0 L799.0 452.1 L802.0 452.1 L805.0 452.2 L808.0 452.4 L811.0 452.5 L814.0 452.7 L817.0 452.8 L820.0 452.8 L823.0 452.9 L826.0 452.9 L829.0 453.0 L832.0 453.1 L835.0 453.2 L838.0 453.3 L841.0 453.4 L844.0 453.4 L847.0 453.4 L850.0 453.4 L853.0 453.4 L856.0 453.4 L859.0 453.4 L862.0 453.5 L865.0 453.6 L868.0 453.8 L871.0 454.0 L874.0 454.1 L877.0 454.3 L880.0 454.3 L883.0 454.4 L886.0 454.5 L889.0 454.6 L892.0 454.8 L895.0 454.9 L898.0 455.1 L901.0 455.2 L904.0 455.3 L907.0 455.4 L910.0 455.4 L913.0 455.4 L916.0 455.4 L919.0 455.4 L922.0 455.6 L925.0 455.7 L928.0 455.9 L931.0 456.1 L934.0 456.3 L937.0 456.4 L940.0 456.5 L943.0 456.6 L946.0 456.7 L949.0 456.8 L952.0 457.0 L955.0 457.1 L958.0 457.3 L961.0 457.4 L964.0 457.5 L967.0 457.5 L970.0 457.5 L973.0 457.4 L976.0 457.4 L979.0 457.5 L982.0 457.6 L985.0 457.8 L988.0 457.9 L991.0 458.1 L994.0 458.3 L997.0 458.4 L1000.0 458.4 L1003.0 458.5 L1006.0 458.6 L1009.0 458.7 L1012.0 458.9 L1015.0 459.0 L1018.0 459.2 L1021.0 459.3 L1024.0 459.4 L1027.0 459.4 L1030.0 459.4 L1033.0 459.4 L1036.0 459.4 L1039.0 459.5 L1042.0 459.7 L1045.0 459.8 L1048.0 460.1 L1051.0 460.3 L1054.0 460.5 L1057.0 460.6 L1060.0 460.7 L1063.0 460.9 L1066.0 461.0 L1069.0 461.2 L1072.0 461.3 L1075.0 461.6 L1078.0 461.7 L1081.0 461.9 L1084.0 462.0 L1087.0 462.1 L1090.0 462.1 L1093.0 462.1 L1096.0 462.2 L1099.0 462.3 L1102.0 462.5 L1105.0 462.7 L1108.0 462.9 L1111.0 463.2 L1114.0 463.3 L1117.0 463.5 L1120.0 463.6 L1123.0 463.7 L1126.0 463.8 L1129.0 464.0 L1132.0 464.2 L1135.0 464.4 L1138.0 464.5 L1141.0 464.6 L1144.0 464.7 L1147.0 464.7 L1150.0 464.7 L1153.0 464.7 L1156.0 464.8 L1159.0 464.9 L1162.0 465.0 L1165.0 465.2 L1168.0 465.4 L1171.0 465.6 L1174.0 465.8 L1177.0 465.9 L1180.0 466.0 L1183.0 466.1 L1186.0 466.2 L1189.0 466.4 L1192.0 466.5 L1195.0 466.7 L1198.0 466.9 L1201.0 467.1 L1204.0 467.2 L1207.0 467.2 L1210.0 467.3 L1213.0 467.3 L1216.0 467.4 L1219.0 467.6 L1222.0 467.8 L1225.0 468.1 L1228.0 468.4 L1231.0 468.6 L1234.0 468.9 L1237.0 469.1 L1240.0 469.3 L1243.0 469.5 L1246.0 469.7 L1249.0 470.0 L1252.0 470.2 L1255.0 470.5 L1258.0 470.8 L1261.0 471.0 L1264.0 471.1" stroke="#3CB6EF"/>
<path d="M142.0 457.0 L145.0 457.1 L148.0 457.1 L151.0 457.2 L154.0 457.2 L157.0 457.3 L160.0 457.4 L163.0 457.4 L166.0 457.5 L169.0 457.6 L172.0 457.6 L175.0 457.7 L178.0 457.8 L181.0 457.8 L184.0 457.9 L187.0 458.0 L190.0 458.0 L193.0 458.1 L196.0 458.1 L199.0 458.2 L202.0 458.2 L205.0 458.2 L208.0 458.3 L211.0 458.3 L214.0 458.4 L217.0 458.4 L220.0 458.5 L223.0 458.6 L226.0 458.6 L229.0 458.7 L232.0 458.7 L235.0 458.8 L238.0 458.8 L241.0 458.9 L244.0 458.9 L247.0 459.0 L250.0 459.1 L253.0 459.2 L256.0 459.2 L259.0 459.3 L262.0 459.3 L265.0 459.3 L268.0 459.3 L271.0 459.3 L274.0 459.4 L277.0 459.4 L280.0 459.4 L283.0 459.5 L286.0 459.6 L289.0 459.7 L292.0 459.8 L295.0 459.9 L298.0 459.9 L301.0 460.0 L304.0 460.1 L307.0 460.1 L310.0 460.2 L313.0 460.3 L316.0 460.4 L319.0 460.5 L322.0 460.6 L325.0 460.7 L328.0 460.8 L331.0 460.9 L334.0 460.9 L337.0 460.9 L340.0 460.9 L343.0 460.8 L346.0 460.8 L349.0 460.9 L352.0 460.9 L355.0 461.0 L358.0 461.1 L361.0 461.2 L364.0 461.3 L367.0 461.4 L370.0 461.4 L373.0 461.4 L376.0 461.4 L379.0 461.5 L382.0 461.5 L385.0 461.6 L388.0 461.7 L391.0 461.8 L394.0 461.9 L397.0 461.9 L400.0 461.9 L403.0 461.9 L406.0 461.9 L409.0 461.8 L412.0 461.8 L415.0 461.7 L418.0 461.7 L421.0 461.8 L424.0 461.9 L427.0 462.0 L430.0 462.1 L433.0 462.2 L436.0 462.3 L439.0 462.3 L442.0 462.4 L445.0 462.4 L448.0 462.5 L451.0 462.6 L454.0 462.7 L457.0 462.8 L460.0 463.0 L463.0 463.1 L466.0 463.3 L469.0 463.3 L472.0 463.4 L475.0 463.4 L478.0 463.4 L481.0 463.4 L484.0 463.4 L487.0 463.5 L490.0 463.6 L493.0 463.7 L496.0 463.9 L499.0 464.0 L502.0 464.2 L505.0 464.4 L508.0 464.5 L511.0 464.6 L514.0 464.7 L517.0 464.8 L520.0 465.0 L523.0 465.1 L526.0 465.3 L529.0 465.5 L532.0 465.7 L535.0 465.9 L538.0 466.0 L541.0 466.1 L544.0 466.2 L547.0 466.3 L550.0 466.3 L553.0 466.3 L556.0 466.4 L559.0 466.5 L562.0 466.7 L565.0 466.9 L568.0 467.1 L571.0 467.3 L574.0 467.4 L577.0 467.6 L580.0 467.7 L583.0 467.8 L586.0 468.0 L589.0 468.1 L592.0 468.3 L595.0 468.4 L598.0 468.6 L601.0 468.8 L604.0 469.0 L607.0 469.1 L610.0 469.2 L613.0 469.3 L616.0 469.3 L619.0 469.3 L622.0 469.3 L625.0 469.4 L628.0 469.5 L631.0 469.7 L634.0 469.8 L637.0 470.0 L640.0 470.2 L643.0 470.4 L646.0 470.6 L649.0 470.7 L652.0 470.8 L655.0 471.0 L658.0 471.1 L661.0 471.3 L664.0 471.5 L667.0 471.7 L670.0 471.9 L673.0 472.1 L676.0 472.3 L679.0 472.4 L682.0 472.5 L685.0 472.5 L688.0 472.6 L691.0 472.6 L694.0 472.7 L697.0 472.9 L700.0 473.0 L703.0 473.2 L706.0 473.4 L709.0 473.7 L712.0 473.9 L715.0 474.1 L718.0 474.3 L721.0 474.5 L724.0 474.6 L727.0 474.8 L730.0 475.0 L733.0 475.3 L736.0 475.5 L739.0 475.8 L742.0 476.1 L745.0 476.3 L748.0 476.5 L751.0 476.6 L754.0 476.8 L757.0 476.9 L760.0 477.0 L763.0 477.1 L766.0 477.3 L769.0 477.5 L772.0 477.7 L775.0 478.0 L778.0 478.2 L781.0 478.5 L784.0 478.7 L787.0 478.9 L790.0 479.1 L793.0 479.3 L796.0 479.5 L799.0 479.7 L802.0 479.9 L805.0 480.2 L808.0 480.4 L811.0 480.6 L814.0 480.9 L817.0 481.0 L820.0 481.2 L823.0 481.2 L826.0 481.3 L829.0 481.4 L832.0 481.5 L835.0 481.6 L838.0 481.8 L841.0 481.9 L844.0 482.2 L847.0 482.4 L850.0 482.6 L853.0 482.8 L856.0 483.0 L859.0 483.1 L862.0 483.3 L865.0 483.4 L868.0 483.6 L871.0 483.7 L874.0 484.0 L877.0 484.2 L880.0 484.4 L883.0 484.6 L886.0 484.7 L889.0 484.8 L892.0 484.9 L895.0 485.0 L898.0 485.0 L901.0 485.1 L904.0 485.2 L907.0 485.3 L910.0 485.5 L913.0 485.7 L916.0 485.9 L919.0 486.2 L922.0 486.4 L925.0 486.6 L928.0 486.7 L931.0 486.9 L934.0 487.1 L937.0 487.3 L940.0 487.5 L943.0 487.7 L946.0 488.0 L949.0 488.2 L952.0 488.5 L955.0 488.7 L958.0 488.9 L961.0 489.0 L964.0 489.1 L967.0 489.2 L970.0 489.4 L973.0 489.5 L976.0 489.7 L979.0 489.9 L982.0 490.2 L985.0 490.5 L988.0 490.8 L991.0 491.0 L994.0 491.3 L997.0 491.5 L1000.0 491.7 L1003.0 491.9 L1006.0 492.1 L1009.0 492.4 L1012.0 492.6 L1015.0 492.9 L1018.0 493.2 L1021.0 493.4 L1024.0 493.6 L1027.0 493.8 L1030.0 494.0 L1033.0 494.1 L1036.0 494.2 L1039.0 494.3 L1042.0 494.4 L1045.0 494.5 L1048.0 494.7 L1051.0 494.9 L1054.0 495.2 L1057.0 495.4 L1060.0 495.6 L1063.0 495.8 L1066.0 496.0 L1069.0 496.2 L1072.0 496.3 L1075.0 496.5 L1078.0 496.7 L1081.0 496.9 L1084.0 497.1 L1087.0 497.4 L1090.0 497.6 L1093.0 497.8 L1096.0 498.0 L1099.0 498.1 L1102.0 498.2 L1105.0 498.3 L1108.0 498.4 L1111.0 498.6 L1114.0 498.8 L1117.0 499.0 L1120.0 499.3 L1123.0 499.6 L1126.0 499.9 L1129.0 500.2 L1132.0 500.4 L1135.0 500.7 L1138.0 500.9 L1141.0 501.2 L1144.0 501.4 L1147.0 501.7 L1150.0 501.9 L1153.0 502.2 L1156.0 502.5 L1159.0 502.7 L1162.0 503.0 L1165.0 503.1 L1168.0 503.3 L1171.0 503.4 L1174.0 503.5 L1177.0 503.5 L1180.0 503.6 L1183.0 503.7 L1186.0 503.9 L1189.0 504.1 L1192.0 504.3 L1195.0 504.5 L1198.0 504.7 L1201.0 504.9 L1204.0 505.0 L1207.0 505.2 L1210.0 505.3 L1213.0 505.4 L1216.0 505.6 L1219.0 505.7 L1222.0 505.9 L1225.0 506.1 L1228.0 506.3 L1231.0 506.5 L1234.0 506.6 L1237.0 506.7 L1240.0 506.7 L1243.0 506.8 L1246.0 506.8 L1247.8 506.7" stroke="#3CB6EF"/>
<path d="M142.0 455.0 L145.0 455.0 L148.0 454.9 L151.0 454.9 L154.0 454.9 L157.0 454.8 L160.0 454.8 L163.0 454.8 L166.0 454.7 L169.0 454.7 L172.0 454.7 L175.0 454.7 L178.0 454.6 L181.0 454.6 L184.0 454.6 L187.0 454.6 L190.0 454.6 L193.0 454.6 L196.0 454.5 L199.0 454.5 L202.0 454.4 L205.0 454.4 L208.0 454.4 L211.0 454.3 L214.0 454.3 L217.0 454.3 L220.0 454.3 L223.0 454.3 L226.0 454.3 L229.0 454.3 L232.0 454.3 L235.0 454.2 L238.0 454.2 L241.0 454.2 L244.0 454.2 L247.0 454.2 L250.0 454.2 L253.0 454.1 L256.0 454.1 L259.0 454.1 L262.0 454.1 L265.0 454.0 L268.0 454.0 L271.0 453.9 L274.0 453.9 L277.0 453.8 L280.0 453.7 L283.0 453.7 L286.0 453.6 L289.0 453.6 L292.0 453.6 L295.0 453.6 L298.0 453.6 L301.0 453.6 L304.0 453.6 L307.0 453.6 L310.0 453.5 L313.0 453.5 L316.0 453.4 L319.0 453.3 L322.0 453.1 L325.0 453.0 L328.0 452.9 L331.0 452.8 L334.0 452.8 L337.0 452.7 L340.0 452.7 L343.0 452.7 L346.0 452.7 L349.0 452.7 L352.0 452.7 L355.0 452.7 L358.0 452.6 L361.0 452.6 L364.0 452.5 L367.0 452.5 L370.0 452.5 L373.0 452.5 L376.0 452.5 L379.0 452.4 L382.0 452.4 L385.0 452.4 L388.0 452.4 L391.0 452.3 L394.0 452.2 L397.0 452.1 L400.0 452.0 L403.0 452.0 L406.0 451.9 L409.0 451.9 L412.0 452.0 L415.0 452.0 L418.0 452.1 L421.0 452.1 L424.0 452.2 L427.0 452.2 L430.0 452.2 L433.0 452.1 L436.0 452.0 L439.0 451.9 L442.0 451.8 L445.0 451.6 L448.0 451.5 L451.0 451.4 L454.0 451.3 L457.0 451.2 L460.0 451.2 L463.0 451.2 L466.0 451.2 L469.0 451.2 L472.0 451.1 L475.0 451.1 L478.0 451.0 L481.0 450.9 L484.0 450.8 L487.0 450.7 L490.0 450.6 L493.0 450.5 L496.0 450.5 L499.0 450.4 L502.0 450.3 L505.0 450.2 L508.0 450.1 L511.0 450.0 L514.0 449.9 L517.0 449.7 L520.0 449.6 L523.0 449.5 L526.0 449.4 L529.0 449.3 L532.0 449.3 L535.0 449.3 L538.0 449.3 L541.0 449.3 L544.0 449.4 L547.0 449.4 L550.0 449.3 L553.0 449.2 L556.0 449.1 L559.0 449.0 L562.0 448.8 L565.0 448.7 L568.0 448.5 L571.0 448.4 L574.0 448.3 L577.0 448.2 L580.0 448.2 L583.0 448.2 L586.0 448.1 L589.0 448.1 L592.0 448.1 L595.0 448.0 L598.0 447.9 L601.0 447.8 L604.0 447.7 L607.0 447.6 L610.0 447.4 L613.0 447.2 L616.0 447.1 L619.0 446.9 L622.0 446.7 L625.0 446.5 L628.0 446.3 L631.0 446.1 L634.0 445.8 L637.0 445.6 L640.0 445.4 L643.0 445.1 L646.0 444.9 L649.0 444.8 L652.0 444.7 L655.0 444.6 L658.0 444.5 L661.0 444.5 L664.0 444.4 L667.0 444.3 L670.0 444.2 L673.0 444.0 L676.0 443.8 L679.0 443.6 L682.0 443.3 L685.0 443.1 L688.0 442.8 L691.0 442.6 L694.0 442.4 L697.0 442.2 L700.0 442.1 L703.0 442.0 L706.0 441.8 L709.0 441.7 L712.0 441.5 L715.0 441.3 L718.0 441.1 L721.0 440.9 L724.0 440.7 L727.0 440.4 L730.0 440.2 L733.0 439.9 L736.0 439.7 L739.0 439.5 L742.0 439.3 L745.0 439.1 L748.0 438.8 L751.0 438.6 L754.0 438.4 L757.0 438.1 L760.0 437.9 L763.0 437.7 L766.0 437.5 L769.0 437.3 L772.0 437.2 L775.0 437.1 L778.0 437.0 L781.0 436.9 L784.0 436.8 L787.0 436.8 L790.0 436.6 L793.0 436.5 L796.0 436.3 L799.0 436.1 L802.0 435.8 L805.0 435.6 L808.0 435.3 L811.0 435.1 L814.0 434.9 L817.0 434.7 L820.0 434.6 L823.0 434.5 L826.0 434.4 L829.0 434.3 L832.0 434.2 L835.0 434.1 L838.0 434.0 L841.0 433.8 L844.0 433.6 L847.0 433.5 L850.0 433.3 L853.0 433.1 L856.0 433.0 L859.0 432.8 L862.0 432.7 L865.0 432.5 L868.0 432.4 L871.0 432.2 L874.0 432.0 L877.0 431.9 L880.0 431.7 L883.0 431.5 L886.0 431.3 L889.0 431.2 L892.0 431.1 L895.0 431.0 L898.0 431.0 L901.0 431.0 L904.0 431.0 L907.0 430.9 L910.0 430.9 L913.0 430.8 L916.0 430.6 L919.0 430.5 L922.0 430.3 L925.0 430.1 L928.0 429.9 L931.0 429.7 L934.0 429.6 L937.0 429.5 L940.0 429.4 L943.0 429.4 L946.0 429.4 L949.0 429.4 L952.0 429.4 L955.0 429.3 L958.0 429.2 L961.0 429.2 L964.0 429.0 L967.0 428.9 L970.0 428.8 L973.0 428.7 L976.0 428.6 L979.0 428.5 L982.0 428.4 L985.0 428.3 L988.0 428.1 L991.0 428.0 L994.0 427.8 L997.0 427.7 L1000.0 427.5 L1003.0 427.3 L1006.0 427.2 L1009.0 427.0 L1012.0 426.9 L1015.0 426.8 L1018.0 426.7 L1021.0 426.7 L1024.0 426.6 L1027.0 426.6 L1030.0 426.5 L1033.0 426.3 L1036.0 426.2 L1039.0 426.0 L1042.0 425.7 L1045.0 425.5 L1048.0 425.3 L1051.0 425.1 L1054.0 425.0 L1057.0 424.8 L1060.0 424.8 L1063.0 424.7 L1066.0 424.7 L1069.0 424.7 L1072.0 424.7 L1075.0 424.6 L1078.0 424.6 L1081.0 424.5 L1084.0 424.5 L1087.0 424.4 L1090.0 424.3 L1093.0 424.2 L1096.0 424.2 L1099.0 424.1 L1102.0 424.1 L1105.0 424.0 L1108.0 424.0 L1111.0 423.9 L1114.0 423.8 L1117.0 423.7 L1120.0 423.7 L1123.0 423.6 L1126.0 423.5 L1129.0 423.4 L1132.0 423.4 L1135.0 423.4 L1138.0 423.4 L1141.0 423.4 L1144.0 423.5 L1147.0 423.5 L1150.0 423.5 L1153.0 423.4 L1156.0 423.3 L1159.0 423.2 L1162.0 423.0 L1165.0 422.8 L1168.0 422.6 L1171.0 422.5 L1174.0 422.3 L1177.0 422.2 L1180.0 422.1 L1183.0 422.1 L1186.0 422.0 L1189.0 422.0 L1192.0 422.0 L1195.0 421.9 L1198.0 421.8 L1201.0 421.7 L1204.0 421.6 L1207.0 421.4 L1210.0 421.3 L1213.0 421.2 L1216.0 421.0 L1219.0 420.9 L1222.0 420.8 L1225.0 420.7 L1228.0 420.5 L1231.0 420.4 L1234.0 420.3 L1237.0 420.1 L1240.0 420.0 L1243.0 419.9 L1246.0 419.7 L1249.0 419.6 L1250.0 420.0" stroke="#68AD2C"/>
<path d="M142.0 455.0 L145.0 454.9 L148.0 454.9 L151.0 454.8 L154.0 454.8 L157.0 454.7 L160.0 454.7 L163.0 454.6 L166.0 454.6 L169.0 454.5 L172.0 454.5 L175.0 454.5 L178.0 454.4 L181.0 454.4 L184.0 454.3 L187.0 454.2 L190.0 454.2 L193.0 454.1 L196.0 454.0 L199.0 454.0 L202.0 453.9 L205.0 453.9 L208.0 453.8 L211.0 453.8 L214.0 453.7 L217.0 453.6 L220.0 453.6 L223.0 453.5 L226.0 453.4 L229.0 453.4 L232.0 453.3 L235.0 453.3 L238.0 453.2 L241.0 453.2 L244.0 453.2 L247.0 453.1 L250.0 453.0 L253.0 453.0 L256.0 452.9 L259.0 452.7 L262.0 452.7 L265.0 452.6 L268.0 452.5 L271.0 452.5 L274.0 452.4 L277.0 452.4 L280.0 452.4 L283.0 452.4 L286.0 452.3 L289.0 452.3 L292.0 452.2 L295.0 452.2 L298.0 452.1 L301.0 452.1 L304.0 452.1 L307.0 452.1 L310.0 452.1 L313.0 452.0 L316.0 452.0 L319.0 451.9 L322.0 451.8 L325.0 451.6 L328.0 451.4 L331.0 451.3 L334.0 451.2 L337.0 451.0 L340.0 451.0 L343.0 450.9 L346.0 450.8 L349.0 450.8 L352.0 450.7 L355.0 450.6 L358.0 450.5 L361.0 450.4 L364.0 450.3 L367.0 450.2 L370.0 450.1 L373.0 450.1 L376.0 450.0 L379.0 450.0 L382.0 449.9 L385.0 449.9 L388.0 449.8 L391.0 449.6 L394.0 449.4 L397.0 449.3 L400.0 449.1 L403.0 449.0 L406.0 448.9 L409.0 448.9 L412.0 448.9 L415.0 449.0 L418.0 449.0 L421.0 449.0 L424.0 449.0 L427.0 448.9 L430.0 448.8 L433.0 448.7 L436.0 448.6 L439.0 448.6 L442.0 448.5 L445.0 448.4 L448.0 448.4 L451.0 448.3 L454.0 448.2 L457.0 448.0 L460.0 447.8 L463.0 447.6 L466.0 447.3 L469.0 447.1 L472.0 446.9 L475.0 446.8 L478.0 446.7 L481.0 446.6 L484.0 446.5 L487.0 446.5 L490.0 446.4 L493.0 446.3 L496.0 446.1 L499.0 446.0 L502.0 445.8 L505.0 445.6 L508.0 445.5 L511.0 445.3 L514.0 445.2 L517.0 445.1 L520.0 444.9 L523.0 444.8 L526.0 444.6 L529.0 444.4 L532.0 444.2 L535.0 444.0 L538.0 443.7 L541.0 443.5 L544.0 443.4 L547.0 443.3 L550.0 443.2 L553.0 443.1 L556.0 443.1 L559.0 443.0 L562.0 442.8 L565.0 442.7 L568.0 442.5 L571.0 442.2 L574.0 442.0 L577.0 441.7 L580.0 441.5 L583.0 441.2 L586.0 441.0 L589.0 440.8 L592.0 440.5 L595.0 440.2 L598.0 439.9 L601.0 439.6 L604.0 439.3 L607.0 438.9 L610.0 438.6 L613.0 438.4 L616.0 438.1 L619.0 438.0 L622.0 437.8 L625.0 437.6 L628.0 437.5 L631.0 437.2 L634.0 437.0 L637.0 436.7 L640.0 436.4 L643.0 436.1 L646.0 435.8 L649.0 435.6 L652.0 435.3 L655.0 435.1 L658.0 434.9 L661.0 434.7 L664.0 434.5 L667.0 434.3 L670.0 434.0 L673.0 433.8 L676.0 433.6 L679.0 433.3 L682.0 433.2 L685.0 433.0 L688.0 432.9 L691.0 432.8 L694.0 432.7 L697.0 432.6 L700.0 432.5 L703.0 432.3 L706.0 432.0 L709.0 431.8 L712.0 431.5 L715.0 431.1 L718.0 430.8 L721.0 430.6 L724.0 430.3 L727.0 430.0 L730.0 429.8 L733.0 429.5 L736.0 429.3 L739.0 429.0 L742.0 428.7 L745.0 428.3 L748.0 428.1 L751.0 427.8 L754.0 427.6 L757.0 427.4 L760.0 427.3 L763.0 427.2 L766.0 427.0 L769.0 426.8 L772.0 426.6 L775.0 426.4 L778.0 426.2 L781.0 425.9 L784.0 425.7 L787.0 425.5 L790.0 425.3 L793.0 425.2 L796.0 425.1 L799.0 425.1 L802.0 425.0 L805.0 425.0 L808.0 424.9 L811.0 424.8 L814.0 424.8 L817.0 424.7 L820.0 424.6 L823.0 424.6 L826.0 424.6 L829.0 424.7 L832.0 424.7 L835.0 424.7 L838.0 424.7 L841.0 424.6 L844.0 424.5 L847.0 424.3 L850.0 424.1 L853.0 424.0 L856.0 423.8 L859.0 423.7 L862.0 423.6 L865.0 423.5 L868.0 423.5 L871.0 423.4 L874.0 423.3 L877.0 423.2 L880.0 423.1 L883.0 423.0 L886.0 422.9 L889.0 422.8 L892.0 422.8 L895.0 422.7 L898.0 422.7 L901.0 422.7 L904.0 422.7 L907.0 422.6 L910.0 422.5 L913.0 422.4 L916.0 422.2 L919.0 422.0 L922.0 421.8 L925.0 421.7 L928.0 421.6 L931.0 421.5 L934.0 421.5 L937.0 421.5 L940.0 421.5 L943.0 421.5 L946.0 421.4 L949.0 421.4 L952.0 421.3 L955.0 421.2 L958.0 421.1 L961.0 421.0 L964.0 420.9 L967.0 420.9 L970.0 420.8 L973.0 420.8 L976.0 420.7 L979.0 420.5 L982.0 420.4 L985.0 420.2 L988.0 420.0 L991.0 419.8 L994.0 419.6 L997.0 419.5 L1000.0 419.4 L1003.0 419.4 L1006.0 419.5 L1009.0 419.5 L1012.0 419.5 L1015.0 419.5 L1018.0 419.5 L1021.0 419.4 L1024.0 419.4 L1027.0 419.4 L1030.0 419.3 L1033.0 419.3 L1036.0 419.4 L1039.0 419.4 L1042.0 419.4 L1045.0 419.5 L1048.0 419.4 L1051.0 419.4 L1054.0 419.3 L1057.0 419.3 L1060.0 419.2 L1063.0 419.2 L1066.0 419.2 L1069.0 419.2 L1072.0 419.3 L1075.0 419.4 L1078.0 419.5 L1081.0 419.6 L1084.0 419.7 L1087.0 419.7 L1090.0 419.7 L1093.0 419.7 L1096.0 419.6 L1099.0 419.6 L1102.0 419.6 L1105.0 419.6 L1108.0 419.6 L1111.0 419.6 L1114.0 419.5 L1117.0 419.5 L1120.0 419.4 L1123.0 419.3 L1126.0 419.1 L1129.0 419.0 L1132.0 418.9 L1135.0 418.8 L1138.0 418.8 L1141.0 418.8 L1144.0 418.8 L1147.0 418.9 L1150.0 418.9 L1153.0 418.9 L1156.0 418.9 L1159.0 418.9 L1162.0 418.9 L1165.0 418.8 L1168.0 418.7 L1171.0 418.7 L1174.0 418.7 L1177.0 418.7 L1180.0 418.7 L1183.0 418.7 L1186.0 418.7 L1189.0 418.7 L1192.0 418.7 L1195.0 418.6 L1198.0 418.6 L1201.0 418.5 L1204.0 418.5 L1207.0 418.6 L1210.0 418.6 L1213.0 418.7 L1216.0 418.9 L1219.0 419.0 L1222.0 419.0 L1225.0 419.0 L1228.0 419.0 L1231.0 418.9 L1234.0 418.9 L1237.0 418.8 L1240.0 418.7 L1243.0 418.6 L1246.0 418.6 L1249.0 418.5 L1250.6 418.4" stroke="#68AD2C"/>
<path d="M142.0 454.0 L145.0 453.9 L148.0 453.9 L151.0 453.8 L154.0 453.8 L157.0 453.7 L160.0 453.7 L163.0 453.6 L166.0 453.5 L169.0 453.5 L172.0 453.4 L175.0 453.4 L178.0 453.4 L181.0 453.3 L184.0 453.3 L187.0 453.3 L190.0 453.2 L193.0 453.2 L196.0 453.1 L199.0 453.0 L202.0 453.0 L205.0 453.0 L208.0 452.9 L211.0 452.9 L214.0 452.8 L217.0 452.7 L220.0 452.7 L223.0 452.6 L226.0 452.5 L229.0 452.5 L232.0 452.5 L235.0 452.5 L238.0 452.5 L241.0 452.4 L244.0 452.4 L247.0 452.3 L250.0 452.2 L253.0 452.1 L256.0 452.0 L259.0 452.0 L262.0 451.9 L265.0 451.8 L268.0 451.8 L271.0 451.7 L274.0 451.5 L277.0 451.4 L280.0 451.3 L283.0 451.2 L286.0 451.1 L289.0 451.1 L292.0 451.1 L295.0 451.1 L298.0 451.0 L301.0 451.0 L304.0 450.9 L307.0 450.8 L310.0 450.6 L313.0 450.5 L316.0 450.4 L319.0 450.3 L322.0 450.2 L325.0 450.2 L328.0 450.1 L331.0 449.9 L334.0 449.8 L337.0 449.6 L340.0 449.5 L343.0 449.4 L346.0 449.4 L349.0 449.4 L352.0 449.4 L355.0 449.4 L358.0 449.4 L361.0 449.3 L364.0 449.1 L367.0 449.0 L370.0 448.9 L373.0 448.8 L376.0 448.7 L379.0 448.6 L382.0 448.5 L385.0 448.4 L388.0 448.2 L391.0 448.0 L394.0 447.8 L397.0 447.7 L400.0 447.6 L403.0 447.5 L406.0 447.5 L409.0 447.5 L412.0 447.5 L415.0 447.4 L418.0 447.3 L421.0 447.1 L424.0 446.9 L427.0 446.7 L430.0 446.5 L433.0 446.4 L436.0 446.3 L439.0 446.1 L442.0 445.9 L445.0 445.7 L448.0 445.5 L451.0 445.2 L454.0 445.0 L457.0 444.8 L460.0 444.7 L463.0 444.7 L466.0 444.6 L469.0 444.5 L472.0 444.4 L475.0 444.3 L478.0 444.1 L481.0 443.9 L484.0 443.7 L487.0 443.5 L490.0 443.3 L493.0 443.2 L496.0 443.0 L499.0 442.9 L502.0 442.7 L505.0 442.4 L508.0 442.2 L511.0 441.9 L514.0 441.8 L517.0 441.7 L520.0 441.6 L523.0 441.6 L526.0 441.5 L529.0 441.4 L532.0 441.3 L535.0 441.1 L538.0 440.9 L541.0 440.7 L544.0 440.5 L547.0 440.3 L550.0 440.2 L553.0 440.1 L556.0 439.9 L559.0 439.7 L562.0 439.4 L565.0 439.1 L568.0 438.9 L571.0 438.7 L574.0 438.6 L577.0 438.5 L580.0 438.4 L583.0 438.4 L586.0 438.3 L589.0 438.1 L592.0 437.9 L595.0 437.7 L598.0 437.4 L601.0 437.2 L604.0 437.0 L607.0 436.9 L610.0 436.7 L613.0 436.5 L616.0 436.2 L619.0 436.0 L622.0 435.6 L625.0 435.4 L628.0 435.1 L631.0 434.9 L634.0 434.8 L637.0 434.7 L640.0 434.5 L643.0 434.4 L646.0 434.2 L649.0 434.0 L652.0 433.7 L655.0 433.5 L658.0 433.2 L661.0 433.0 L664.0 432.8 L667.0 432.6 L670.0 432.4 L673.0 432.1 L676.0 431.8 L679.0 431.5 L682.0 431.2 L685.0 431.0 L688.0 430.8 L691.0 430.6 L694.0 430.5 L697.0 430.5 L700.0 430.4 L703.0 430.2 L706.0 430.0 L709.0 429.8 L712.0 429.6 L715.0 429.4 L718.0 429.2 L721.0 429.0 L724.0 428.8 L727.0 428.7 L730.0 428.4 L733.0 428.2 L736.0 427.9 L739.0 427.6 L742.0 427.4 L745.0 427.2 L748.0 427.1 L751.0 427.0 L754.0 426.9 L757.0 426.8 L760.0 426.7 L763.0 426.6 L766.0 426.4 L769.0 426.2 L772.0 426.0 L775.0 425.8 L778.0 425.7 L781.0 425.6 L784.0 425.5 L787.0 425.3 L790.0 425.1 L793.0 424.9 L796.0 424.7 L799.0 424.5 L802.0 424.4 L805.0 424.3 L808.0 424.3 L811.0 424.4 L814.0 424.4 L817.0 424.3 L820.0 424.2 L823.0 424.1 L826.0 424.0 L829.0 423.8 L832.0 423.8 L835.0 423.7 L838.0 423.6 L841.0 423.5 L844.0 423.4 L847.0 423.3 L850.0 423.1 L853.0 422.9 L856.0 422.7 L859.0 422.6 L862.0 422.6 L865.0 422.6 L868.0 422.6 L871.0 422.7 L874.0 422.7 L877.0 422.6 L880.0 422.6 L883.0 422.5 L886.0 422.4 L889.0 422.4 L892.0 422.3 L895.0 422.3 L898.0 422.3 L901.0 422.3 L904.0 422.2 L907.0 422.1 L910.0 421.9 L913.0 421.8 L916.0 421.8 L919.0 421.8 L922.0 421.8 L925.0 421.9 L928.0 422.0 L931.0 422.1 L934.0 422.1 L937.0 422.1 L940.0 422.0 L943.0 422.0 L946.0 422.0 L949.0 422.0 L952.0 422.0 L955.0 422.0 L958.0 422.0 L961.0 422.0 L964.0 421.9 L967.0 421.7 L970.0 421.6 L973.0 421.6 L976.0 421.6 L979.0 421.6 L982.0 421.7 L985.0 421.8 L988.0 421.9 L991.0 421.9 L994.0 421.9 L997.0 421.8 L1000.0 421.8 L1003.0 421.8 L1006.0 421.8 L1009.0 421.8 L1012.0 421.9 L1015.0 421.9 L1018.0 421.8 L1021.0 421.8 L1024.0 421.7 L1027.0 421.6 L1030.0 421.6 L1033.0 421.6 L1036.0 421.7 L1039.0 421.8 L1042.0 422.0 L1045.0 422.1 L1048.0 422.2 L1051.0 422.2 L1054.0 422.3 L1057.0 422.3 L1060.0 422.4 L1063.0 422.4 L1066.0 422.6 L1069.0 422.7 L1072.0 422.7 L1075.0 422.7 L1078.0 422.7 L1081.0 422.7 L1084.0 422.6 L1087.0 422.6 L1090.0 422.7 L1093.0 422.8 L1096.0 422.9 L1099.0 423.1 L1102.0 423.2 L1105.0 423.3 L1108.0 423.3 L1111.0 423.4 L1114.0 423.4 L1117.0 423.4 L1120.0 423.5 L1123.0 423.6 L1126.0 423.7 L1129.0 423.8 L1132.0 423.8 L1135.0 423.8 L1138.0 423.7 L1141.0 423.6 L1144.0 423.6 L1147.0 423.6 L1150.0 423.7 L1153.0 423.8 L1156.0 424.0 L1159.0 424.1 L1162.0 424.2 L1165.0 424.2 L1168.0 424.2 L1171.0 424.2 L1174.0 424.2 L1177.0 424.3 L1180.0 424.3 L1183.0 424.4 L1186.0 424.4 L1189.0 424.4 L1192.0 424.4 L1195.0 424.3 L1198.0 424.2 L1201.0 424.1 L1204.0 424.0 L1207.0 424.0 L1210.0 424.1 L1213.0 424.2 L1216.0 424.3 L1219.0 424.3 L1222.0 424.4 L1225.0 424.3 L1228.0 424.3 L1231.0 424.3 L1234.0 424.3 L1237.0 424.4 L1240.0 424.4 L1243.0 424.5 L1246.0 424.4 L1249.0 424.4 L1252.0 424.3 L1255.0 424.5" stroke="#9A0C24"/>
<path d="M142.0 444.1 L145.0 444.2 L148.0 444.3 L151.0 444.3 L154.0 444.4 L157.0 444.5 L160.0 444.6 L163.0 444.8 L166.0 445.1 L169.0 445.5 L172.0 445.9 L175.0 446.3 L178.0 446.7 L181.0 447.1 L184.0 447.3 L187.0 447.5 L190.0 447.7 L193.0 447.9 L196.0 448.1 L199.0 448.3 L202.0 448.5 L205.0 448.7 L208.0 448.9 L211.0 449.0 L214.0 449.2 L217.0 449.3 L220.0 449.4 L223.0 449.5 L226.0 449.6 L229.0 449.6 L232.0 449.7 L235.0 449.7 L238.0 449.8 L241.0 449.7 L244.0 449.7 L247.0 449.6 L250.0 449.6 L253.0 449.6 L256.0 449.6 L259.0 449.6 L262.0 449.7 L265.0 449.7 L268.0 449.7 L271.0 449.8 L274.0 449.7 L277.0 449.7 L280.0 449.7 L283.0 449.7 L286.0 449.7 L289.0 449.7 L292.0 449.7 L295.0 449.7 L298.0 449.6 L301.0 449.6 L304.0 449.5 L307.0 449.3 L310.0 449.3 L313.0 449.2 L316.0 449.2 L319.0 449.2 L322.0 449.2 L325.0 449.1 L328.0 449.1 L331.0 449.0 L334.0 448.9 L337.0 448.7 L340.0 448.6 L343.0 448.5 L346.0 448.4 L349.0 448.4 L352.0 448.3 L355.0 448.1 L358.0 447.9 L361.0 447.7 L364.0 447.5 L367.0 447.3 L370.0 447.1 L373.0 447.0 L376.0 447.0 L379.0 447.0 L382.0 446.9 L385.0 446.9 L388.0 446.8 L391.0 446.7 L394.0 446.6 L397.0 446.5 L400.0 446.4 L403.0 446.4 L406.0 446.3 L409.0 446.3 L412.0 446.2 L415.0 446.1 L418.0 445.9 L421.0 445.7 L424.0 445.5 L427.0 445.3 L430.0 445.2 L433.0 445.2 L436.0 445.2 L439.0 445.1 L442.0 445.1 L445.0 445.0 L448.0 444.9 L451.0 444.7 L454.0 444.6 L457.0 444.5 L460.0 444.3 L463.0 444.3 L466.0 444.1 L469.0 444.0 L472.0 443.8 L475.0 443.6 L478.0 443.3 L481.0 443.0 L484.0 442.7 L487.0 442.5 L490.0 442.3 L493.0 442.2 L496.0 442.1 L499.0 441.9 L502.0 441.8 L505.0 441.6 L508.0 441.4 L511.0 441.2 L514.0 441.0 L517.0 440.9 L520.0 440.8 L523.0 440.6 L526.0 440.5 L529.0 440.3 L532.0 440.1 L535.0 439.8 L538.0 439.5 L541.0 439.2 L544.0 439.0 L547.0 438.8 L550.0 438.7 L553.0 438.6 L556.0 438.5 L559.0 438.4 L562.0 438.2 L565.0 438.0 L568.0 437.8 L571.0 437.6 L574.0 437.4 L577.0 437.3 L580.0 437.1 L583.0 436.9 L586.0 436.7 L589.0 436.5 L592.0 436.1 L595.0 435.7 L598.0 435.3 L601.0 434.9 L604.0 434.5 L607.0 434.1 L610.0 433.7 L613.0 433.3 L616.0 432.9 L619.0 432.6 L622.0 432.2 L625.0 432.0 L628.0 431.7 L631.0 431.5 L634.0 431.4 L637.0 431.3 L640.0 431.2 L643.0 431.0 L646.0 430.8 L649.0 430.6 L652.0 430.4 L655.0 430.1 L658.0 429.9 L661.0 429.7 L664.0 429.5 L667.0 429.5 L670.0 429.4 L673.0 429.3 L676.0 429.3 L679.0 429.2 L682.0 429.0 L685.0 428.9 L688.0 428.8 L691.0 428.7 L694.0 428.6 L697.0 428.6 L700.0 428.5 L703.0 428.4 L706.0 428.2 L709.0 427.9 L712.0 427.6 L715.0 427.3 L718.0 427.0 L721.0 426.8 L724.0 426.5 L727.0 426.4 L730.0 426.2 L733.0 426.0 L736.0 425.7 L739.0 425.4 L742.0 425.1 L745.0 424.8 L748.0 424.6 L751.0 424.4 L754.0 424.2 L757.0 424.0 L760.0 423.7 L763.0 423.4 L766.0 423.1 L769.0 422.7 L772.0 422.2 L775.0 421.9 L778.0 421.5 L781.0 421.2 L784.0 421.0 L787.0 420.8 L790.0 420.6 L793.0 420.3 L796.0 420.1 L799.0 419.8 L802.0 419.6 L805.0 419.4 L808.0 419.3 L811.0 419.2 L814.0 419.2 L817.0 419.1 L820.0 419.0 L823.0 418.8 L826.0 418.6 L829.0 418.3 L832.0 418.1 L835.0 417.9 L838.0 417.7 L841.0 417.7 L844.0 417.6 L847.0 417.5 L850.0 417.5 L853.0 417.4 L856.0 417.2 L859.0 417.1 L862.0 417.0 L865.0 417.0 L868.0 417.0 L871.0 417.0 L874.0 417.0 L877.0 416.9 L880.0 416.8 L883.0 416.6 L886.0 416.4 L889.0 416.2 L892.0 416.0 L895.0 415.8 L898.0 415.6 L901.0 415.5 L904.0 415.4 L907.0 415.2 L910.0 415.0 L913.0 414.8 L916.0 414.6 L919.0 414.4 L922.0 414.2 L925.0 414.1 L928.0 414.0 L931.0 413.9 L934.0 413.8 L937.0 413.6 L940.0 413.4 L943.0 413.1 L946.0 412.8 L949.0 412.5 L952.0 412.2 L955.0 412.0 L958.0 411.8 L961.0 411.6 L964.0 411.4 L967.0 411.2 L970.0 411.0 L973.0 410.8 L976.0 410.5 L979.0 410.4 L982.0 410.2 L985.0 410.1 L988.0 410.1 L991.0 410.0 L994.0 409.8 L997.0 409.7 L1000.0 409.4 L1003.0 409.1 L1006.0 408.8 L1009.0 408.6 L1012.0 408.3 L1015.0 408.1 L1018.0 407.9 L1021.0 407.7 L1024.0 407.4 L1027.0 407.1 L1030.0 406.8 L1033.0 406.5 L1036.0 406.2 L1039.0 406.0 L1042.0 405.8 L1045.0 405.6 L1048.0 405.4 L1051.0 405.2 L1054.0 405.0 L1057.0 404.6 L1060.0 404.3 L1063.0 403.9 L1066.0 403.5 L1069.0 403.1 L1072.0 402.8 L1075.0 402.6 L1078.0 402.3 L1081.0 402.0 L1084.0 401.7 L1087.0 401.4 L1090.0 401.1 L1093.0 400.8 L1096.0 400.5 L1099.0 400.4 L1102.0 400.3 L1105.0 400.2 L1108.0 400.1 L1111.0 399.9 L1114.0 399.7 L1117.0 399.5 L1120.0 399.2 L1123.0 399.0 L1126.0 398.8 L1129.0 398.6 L1132.0 398.4 L1135.0 398.3 L1138.0 398.2 L1141.0 398.0 L1144.0 397.8 L1147.0 397.7 L1150.0 397.5 L1153.0 397.4 L1156.0 397.3 L1159.0 397.3 L1162.0 397.3 L1165.0 397.3 L1168.0 397.3 L1171.0 397.3 L1174.0 397.2 L1177.0 397.0 L1180.0 396.9 L1183.0 396.7 L1186.0 396.6 L1189.0 396.5 L1192.0 396.4 L1195.0 396.4 L1198.0 396.3 L1201.0 396.1 L1204.0 396.0 L1207.0 395.8 L1210.0 395.7 L1213.0 395.6 L1216.0 395.5 L1219.0 395.6 L1222.0 395.6 L1225.0 395.6 L1228.0 395.5 L1231.0 395.4 L1234.0 395.3 L1237.0 395.1 L1240.0 394.9 L1243.0 394.7 L1245.0 394.8" stroke="#DC4A0C"/>
<path d="M142.0 455.0 L145.0 454.9 L148.0 454.9 L151.0 454.9 L154.0 454.8 L157.0 454.8 L160.0 454.7 L163.0 454.7 L166.0 454.7 L169.0 454.6 L172.0 454.6 L175.0 454.6 L178.0 454.5 L181.0 454.5 L184.0 454.4 L187.0 454.4 L190.0 454.4 L193.0 454.3 L196.0 454.3 L199.0 454.3 L202.0 454.2 L205.0 454.2 L208.0 454.1 L211.0 454.0 L214.0 454.0 L217.0 453.9 L220.0 453.9 L223.0 453.8 L226.0 453.8 L229.0 453.8 L232.0 453.7 L235.0 453.7 L238.0 453.7 L241.0 453.7 L244.0 453.6 L247.0 453.6 L250.0 453.5 L253.0 453.4 L256.0 453.3 L259.0 453.3 L262.0 453.2 L265.0 453.1 L268.0 453.0 L271.0 453.0 L274.0 452.9 L277.0 452.9 L280.0 452.8 L283.0 452.7 L286.0 452.6 L289.0 452.5 L292.0 452.4 L295.0 452.4 L298.0 452.3 L301.0 452.2 L304.0 452.1 L307.0 452.1 L310.0 452.1 L313.0 452.1 L316.0 452.1 L319.0 452.1 L322.0 452.0 L325.0 452.0 L328.0 451.9 L331.0 451.8 L334.0 451.7 L337.0 451.6 L340.0 451.5 L343.0 451.4 L346.0 451.3 L349.0 451.2 L352.0 451.1 L355.0 451.0 L358.0 450.9 L361.0 450.8 L364.0 450.7 L367.0 450.6 L370.0 450.4 L373.0 450.2 L376.0 450.1 L379.0 449.9 L382.0 449.7 L385.0 449.6 L388.0 449.5 L391.0 449.4 L394.0 449.4 L397.0 449.3 L400.0 449.2 L403.0 449.1 L406.0 449.0 L409.0 448.8 L412.0 448.6 L415.0 448.4 L418.0 448.2 L421.0 448.0 L424.0 447.8 L427.0 447.6 L430.0 447.4 L433.0 447.2 L436.0 447.1 L439.0 446.9 L442.0 446.7 L445.0 446.6 L448.0 446.4 L451.0 446.2 L454.0 446.0 L457.0 445.8 L460.0 445.6 L463.0 445.4 L466.0 445.3 L469.0 445.2 L472.0 445.1 L475.0 445.0 L478.0 445.0 L481.0 444.9 L484.0 444.9 L487.0 444.8 L490.0 444.6 L493.0 444.5 L496.0 444.3 L499.0 444.1 L502.0 444.0 L505.0 443.8 L508.0 443.6 L511.0 443.4 L514.0 443.3 L517.0 443.2 L520.0 443.0 L523.0 442.9 L526.0 442.7 L529.0 442.5 L532.0 442.3 L535.0 442.1 L538.0 441.9 L541.0 441.7 L544.0 441.5 L547.0 441.3 L550.0 441.2 L553.0 441.0 L556.0 440.9 L559.0 440.8 L562.0 440.7 L565.0 440.6 L568.0 440.4 L571.0 440.2 L574.0 440.0 L577.0 439.7 L580.0 439.4 L583.0 439.2 L586.0 438.9 L589.0 438.6 L592.0 438.4 L595.0 438.2 L598.0 438.0 L601.0 437.8 L604.0 437.6 L607.0 437.4 L610.0 437.2 L613.0 437.0 L616.0 436.8 L619.0 436.5 L622.0 436.3 L625.0 436.1 L628.0 436.0 L631.0 435.8 L634.0 435.7 L637.0 435.6 L640.0 435.5 L643.0 435.4 L646.0 435.4 L649.0 435.2 L652.0 435.1 L655.0 434.9 L658.0 434.7 L661.0 434.5 L664.0 434.3 L667.0 434.1 L670.0 433.9 L673.0 433.8 L676.0 433.6 L679.0 433.5 L682.0 433.4 L685.0 433.2 L688.0 433.1 L691.0 432.9 L694.0 432.8 L697.0 432.6 L700.0 432.4 L703.0 432.3 L706.0 432.1 L709.0 431.9 L712.0 431.8 L715.0 431.7 L718.0 431.6 L721.0 431.5 L724.0 431.4 L727.0 431.3 L730.0 431.2 L733.0 431.0 L736.0 430.8 L739.0 430.6 L742.0 430.3 L745.0 430.1 L748.0 429.8 L751.0 429.6 L754.0 429.4 L757.0 429.2 L760.0 429.0 L763.0 428.8 L766.0 428.6 L769.0 428.5 L772.0 428.3 L775.0 428.1 L778.0 427.9 L781.0 427.7 L784.0 427.6 L787.0 427.4 L790.0 427.3 L793.0 427.2 L796.0 427.1 L799.0 427.1 L802.0 427.1 L805.0 427.1 L808.0 427.0 L811.0 427.0 L814.0 426.9 L817.0 426.8 L820.0 426.7 L823.0 426.6 L826.0 426.4 L829.0 426.3 L832.0 426.2 L835.0 426.1 L838.0 426.0 L841.0 426.0 L844.0 425.9 L847.0 425.9 L850.0 425.9 L853.0 425.8 L856.0 425.8 L859.0 425.7 L862.0 425.6 L865.0 425.6 L868.0 425.5 L871.0 425.5 L874.0 425.5 L877.0 425.5 L880.0 425.6 L883.0 425.6 L886.0 425.7 L889.0 425.7 L892.0 425.8 L895.0 425.8 L898.0 425.7 L901.0 425.6 L904.0 425.6 L907.0 425.5 L910.0 425.4 L913.0 425.3 L916.0 425.2 L919.0 425.2 L922.0 425.1 L925.0 425.1 L928.0 425.1 L931.0 425.1 L934.0 425.0 L937.0 425.0 L940.0 424.9 L943.0 424.9 L946.0 424.8 L949.0 424.8 L952.0 424.7 L955.0 424.7 L958.0 424.7 L961.0 424.8 L964.0 424.8 L967.0 424.9 L970.0 424.9 L973.0 425.0 L976.0 425.0 L979.0 424.9 L982.0 424.9 L985.0 424.8 L988.0 424.7 L991.0 424.7 L994.0 424.6 L997.0 424.6 L1000.0 424.6 L1003.0 424.6 L1006.0 424.6 L1009.0 424.7 L1012.0 424.7 L1015.0 424.8 L1018.0 424.9 L1021.0 424.9 L1024.0 424.9 L1027.0 425.0 L1030.0 425.0 L1033.0 425.1 L1036.0 425.2 L1039.0 425.3 L1042.0 425.5 L1045.0 425.6 L1048.0 425.8 L1051.0 425.9 L1054.0 426.1 L1057.0 426.2 L1060.0 426.2 L1063.0 426.3 L1066.0 426.3 L1069.0 426.3 L1072.0 426.2 L1075.0 426.2 L1078.0 426.3 L1081.0 426.3 L1084.0 426.4 L1087.0 426.4 L1090.0 426.5 L1093.0 426.6 L1096.0 426.6 L1099.0 426.7 L1102.0 426.7 L1105.0 426.7 L1108.0 426.7 L1111.0 426.7 L1114.0 426.8 L1117.0 426.8 L1120.0 426.9 L1123.0 427.0 L1126.0 427.1 L1129.0 427.2 L1132.0 427.4 L1135.0 427.4 L1138.0 427.5 L1141.0 427.5 L1144.0 427.5 L1147.0 427.5 L1150.0 427.5 L1153.0 427.5 L1156.0 427.4 L1159.0 427.4 L1162.0 427.5 L1165.0 427.5 L1168.0 427.6 L1171.0 427.7 L1174.0 427.8 L1177.0 427.8 L1180.0 427.9 L1183.0 427.9 L1186.0 428.0 L1189.0 428.0 L1192.0 428.1 L1195.0 428.1 L1198.0 428.2 L1201.0 428.3 L1204.0 428.4 L1207.0 428.5 L1210.0 428.6 L1213.0 428.7 L1216.0 428.8 L1219.0 428.9 L1222.0 428.9 L1225.0 428.9 L1228.0 428.9 L1231.0 428.9 L1234.0 428.8 L1237.0 428.8 L1240.0 428.8 L1240.7 428.7" stroke="#741A8A"/>
<path d="M142.0 455.0 L145.0 454.9 L148.0 454.8 L151.0 454.8 L154.0 454.7 L157.0 454.6 L160.0 454.5 L163.0 454.4 L166.0 454.3 L169.0 454.2 L172.0 454.1 L175.0 454.1 L178.0 454.0 L181.0 453.9 L184.0 453.9 L187.0 453.8 L190.0 453.7 L193.0 453.6 L196.0 453.5 L199.0 453.5 L202.0 453.4 L205.0 453.3 L208.0 453.3 L211.0 453.2 L214.0 453.1 L217.0 453.1 L220.0 453.0 L223.0 452.9 L226.0 452.8 L229.0 452.7 L232.0 452.6 L235.0 452.5 L238.0 452.4 L241.0 452.4 L244.0 452.4 L247.0 452.3 L250.0 452.3 L253.0 452.2 L256.0 452.2 L259.0 452.1 L262.0 452.0 L265.0 451.9 L268.0 451.8 L271.0 451.7 L274.0 451.6 L277.0 451.5 L280.0 451.4 L283.0 451.3 L286.0 451.1 L289.0 451.0 L292.0 450.8 L295.0 450.6 L298.0 450.5 L301.0 450.3 L304.0 450.2 L307.0 450.2 L310.0 450.1 L313.0 450.0 L316.0 449.9 L319.0 449.8 L322.0 449.7 L325.0 449.5 L328.0 449.4 L331.0 449.2 L334.0 449.1 L337.0 449.0 L340.0 448.9 L343.0 448.8 L346.0 448.6 L349.0 448.5 L352.0 448.3 L355.0 448.0 L358.0 447.8 L361.0 447.6 L364.0 447.4 L367.0 447.3 L370.0 447.2 L373.0 447.1 L376.0 447.0 L379.0 446.9 L382.0 446.8 L385.0 446.6 L388.0 446.4 L391.0 446.1 L394.0 445.9 L397.0 445.7 L400.0 445.5 L403.0 445.3 L406.0 445.1 L409.0 444.9 L412.0 444.7 L415.0 444.5 L418.0 444.3 L421.0 444.0 L424.0 443.8 L427.0 443.6 L430.0 443.4 L433.0 443.3 L436.0 443.3 L439.0 443.3 L442.0 443.2 L445.0 443.2 L448.0 443.1 L451.0 442.9 L454.0 442.8 L457.0 442.6 L460.0 442.5 L463.0 442.3 L466.0 442.3 L469.0 442.2 L472.0 442.1 L475.0 442.0 L478.0 441.9 L481.0 441.8 L484.0 441.6 L487.0 441.5 L490.0 441.3 L493.0 441.3 L496.0 441.2 L499.0 441.2 L502.0 441.2 L505.0 441.2 L508.0 441.2 L511.0 441.2 L514.0 441.1 L517.0 440.9 L520.0 440.7 L523.0 440.6 L526.0 440.4 L529.0 440.3 L532.0 440.1 L535.0 440.0 L538.0 439.9 L541.0 439.7 L544.0 439.5 L547.0 439.3 L550.0 439.1 L553.0 438.8 L556.0 438.6 L559.0 438.5 L562.0 438.4 L565.0 438.3 L568.0 438.2 L571.0 438.1 L574.0 438.0 L577.0 437.9 L580.0 437.6 L583.0 437.4 L586.0 437.1 L589.0 436.9 L592.0 436.7 L595.0 436.5 L598.0 436.3 L601.0 436.1 L604.0 435.9 L607.0 435.7 L610.0 435.4 L613.0 435.1 L616.0 434.7 L619.0 434.4 L622.0 434.1 L625.0 433.9 L628.0 433.6 L631.0 433.4 L634.0 433.2 L637.0 432.9 L640.0 432.6 L643.0 432.2 L646.0 431.7 L649.0 431.3 L652.0 430.8 L655.0 430.3 L658.0 429.9 L661.0 429.4 L664.0 429.0 L667.0 428.6 L670.0 428.2 L673.0 427.7 L676.0 427.2 L679.0 426.7 L682.0 426.3 L685.0 425.8 L688.0 425.5 L691.0 425.1 L694.0 424.8 L697.0 424.6 L700.0 424.3 L703.0 424.0 L706.0 423.7 L709.0 423.3 L712.0 422.9 L715.0 422.5 L718.0 422.1 L721.0 421.7 L724.0 421.4 L727.0 421.1 L730.0 420.9 L733.0 420.6 L736.0 420.3 L739.0 420.1 L742.0 419.8 L745.0 419.5 L748.0 419.2 L751.0 418.9 L754.0 418.8 L757.0 418.6 L760.0 418.5 L763.0 418.3 L766.0 418.1 L769.0 417.9 L772.0 417.6 L775.0 417.3 L778.0 417.0 L781.0 416.6 L784.0 416.3 L787.0 416.0 L790.0 415.7 L793.0 415.4 L796.0 415.1 L799.0 414.8 L802.0 414.4 L805.0 414.1 L808.0 413.7 L811.0 413.3 L814.0 413.0 L817.0 412.7 L820.0 412.4 L823.0 412.1 L826.0 411.9 L829.0 411.6 L832.0 411.3 L835.0 410.9 L838.0 410.5 L841.0 410.1 L844.0 409.7 L847.0 409.2 L850.0 408.8 L853.0 408.5 L856.0 408.1 L859.0 407.8 L862.0 407.5 L865.0 407.2 L868.0 406.9 L871.0 406.5 L874.0 406.2 L877.0 405.9 L880.0 405.6 L883.0 405.3 L886.0 405.1 L889.0 404.9 L892.0 404.6 L895.0 404.4 L898.0 404.1 L901.0 403.7 L904.0 403.3 L907.0 402.9 L910.0 402.5 L913.0 402.1 L916.0 401.7 L919.0 401.3 L922.0 401.0 L925.0 400.7 L928.0 400.3 L931.0 400.0 L934.0 399.6 L937.0 399.2 L940.0 398.8 L943.0 398.4 L946.0 398.0 L949.0 397.6 L952.0 397.3 L955.0 397.0 L958.0 396.7 L961.0 396.3 L964.0 395.9 L967.0 395.4 L970.0 394.9 L973.0 394.3 L976.0 393.8 L979.0 393.4 L982.0 393.0 L985.0 392.6 L988.0 392.2 L991.0 391.9 L994.0 391.5 L997.0 391.1 L1000.0 390.7 L1003.0 390.3 L1006.0 389.9 L1009.0 389.5 L1012.0 389.2 L1015.0 388.9 L1018.0 388.6 L1021.0 388.3 L1024.0 387.9 L1027.0 387.6 L1030.0 387.1 L1033.0 386.6 L1036.0 386.1 L1039.0 385.6 L1042.0 385.1 L1045.0 384.7 L1048.0 384.3 L1051.0 383.9 L1054.0 383.6 L1057.0 383.2 L1060.0 382.8 L1063.0 382.4 L1066.0 382.0 L1069.0 381.6 L1072.0 381.2 L1075.0 380.8 L1078.0 380.5 L1081.0 380.1 L1084.0 379.8 L1087.0 379.4 L1090.0 379.0 L1093.0 378.5 L1096.0 378.0 L1099.0 377.4 L1102.0 376.8 L1105.0 376.2 L1108.0 375.6 L1111.0 375.0 L1114.0 374.4 L1117.0 373.9 L1120.0 373.3 L1123.0 372.8 L1126.0 372.2 L1129.0 371.6 L1132.0 371.0 L1135.0 370.4 L1138.0 369.9 L1141.0 369.4 L1144.0 369.0 L1147.0 368.7 L1150.0 368.3 L1153.0 368.0 L1156.0 367.7 L1159.0 367.4 L1162.0 367.1 L1165.0 366.8 L1168.0 366.4 L1171.0 366.2 L1174.0 365.9 L1177.0 365.8 L1180.0 365.6 L1183.0 365.5 L1186.0 365.4 L1189.0 365.3 L1192.0 365.1 L1195.0 364.9 L1198.0 364.7 L1201.0 364.5 L1204.0 364.4 L1207.0 364.2 L1210.0 364.1 L1213.0 364.0 L1216.0 363.9 L1219.0 363.7 L1222.0 363.5 L1225.0 363.3 L1228.0 363.0 L1231.0 362.7 L1234.0 362.5 L1237.0 362.3 L1240.0 362.1 L1243.0 362.0 L1245.0 362.3" stroke="#741A8A"/>
<path d="M142.0 450.5 L145.0 450.4 L148.0 450.4 L151.0 450.3 L154.0 450.3 L157.0 450.2 L160.0 450.2 L163.0 450.1 L166.0 450.1 L169.0 450.0 L172.0 450.0 L175.0 449.9 L178.0 449.9 L181.0 449.9 L184.0 449.8 L187.0 449.8 L190.0 449.7 L193.0 449.7 L196.0 449.6 L199.0 449.6 L202.0 449.5 L205.0 449.4 L208.0 449.3 L211.0 449.3 L214.0 449.2 L217.0 449.1 L220.0 449.1 L223.0 449.0 L226.0 448.9 L229.0 448.8 L232.0 448.7 L235.0 448.7 L238.0 448.6 L241.0 448.4 L244.0 448.3 L247.0 448.2 L250.0 448.1 L253.0 448.0 L256.0 447.9 L259.0 447.8 L262.0 447.6 L265.0 447.5 L268.0 447.3 L271.0 447.1 L274.0 446.9 L277.0 446.7 L280.0 446.5 L283.0 446.3 L286.0 446.2 L289.0 446.0 L292.0 445.9 L295.0 445.8 L298.0 445.7 L301.0 445.7 L304.0 445.6 L307.0 445.6 L310.0 445.5 L313.0 445.5 L316.0 445.4 L319.0 445.4 L322.0 445.3 L325.0 445.3 L328.0 445.3 L331.0 445.3 L334.0 445.3 L337.0 445.3 L340.0 445.3 L343.0 445.2 L346.0 445.1 L349.0 445.0 L352.0 444.8 L355.0 444.6 L358.0 444.3 L361.0 444.1 L364.0 443.8 L367.0 443.5 L370.0 443.2 L373.0 442.9 L376.0 442.7 L379.0 442.4 L382.0 442.1 L385.0 441.8 L388.0 441.5 L391.0 441.1 L394.0 440.8 L397.0 440.4 L400.0 440.1 L403.0 439.8 L406.0 439.5 L409.0 439.2 L412.0 439.0 L415.0 438.7 L418.0 438.4 L421.0 438.1 L424.0 437.7 L427.0 437.3 L430.0 436.9 L433.0 436.5 L436.0 436.1 L439.0 435.7 L442.0 435.3 L445.0 435.0 L448.0 434.6 L451.0 434.3 L454.0 434.1 L457.0 433.8 L460.0 433.5 L463.0 433.2 L466.0 432.8 L469.0 432.5 L472.0 432.1 L475.0 431.7 L478.0 431.3 L481.0 430.9 L484.0 430.5 L487.0 430.1 L490.0 429.8 L493.0 429.5 L496.0 429.1 L499.0 428.8 L502.0 428.5 L505.0 428.1 L508.0 427.7 L511.0 427.3 L514.0 427.0 L517.0 426.6 L520.0 426.3 L523.0 426.1 L526.0 425.8 L529.0 425.6 L532.0 425.5 L535.0 425.3 L538.0 425.1 L541.0 424.9 L544.0 424.7 L547.0 424.5 L550.0 424.2 L553.0 423.9 L556.0 423.6 L559.0 423.3 L562.0 423.1 L565.0 422.9 L568.0 422.6 L571.0 422.4 L574.0 422.3 L577.0 422.1 L580.0 421.9 L583.0 421.6 L586.0 421.4 L589.0 421.2 L592.0 420.9 L595.0 420.7 L598.0 420.5 L601.0 420.3 L604.0 420.2 L607.0 420.1 L610.0 420.0 L613.0 419.9 L616.0 419.7 L619.0 419.6 L622.0 419.4 L625.0 419.2 L628.0 418.9 L631.0 418.6 L634.0 418.3 L637.0 418.0 L640.0 417.8 L643.0 417.5 L646.0 417.2 L649.0 417.0 L652.0 416.8 L655.0 416.5 L658.0 416.3 L661.0 416.0 L664.0 415.7 L667.0 415.3 L670.0 415.0 L673.0 414.6 L676.0 414.2 L679.0 413.9 L682.0 413.5 L685.0 413.2 L688.0 412.9 L691.0 412.6 L694.0 412.2 L697.0 411.9 L700.0 411.5 L703.0 411.2 L706.0 410.8 L709.0 410.4 L712.0 410.0 L715.0 409.7 L718.0 409.3 L721.0 408.9 L724.0 408.4 L727.0 407.9 L730.0 407.3 L733.0 406.7 L736.0 406.0 L739.0 405.3 L742.0 404.6 L745.0 403.9 L748.0 403.2 L751.0 402.5 L754.0 401.9 L757.0 401.5 L760.0 401.1 L763.0 400.8 L766.0 400.6 L769.0 400.3 L772.0 400.1 L775.0 399.9 L778.0 399.6 L781.0 399.3 L784.0 399.1 L787.0 398.8 L790.0 398.5 L793.0 398.2 L796.0 397.9 L799.0 397.7 L802.0 397.4 L805.0 397.2 L808.0 397.0 L811.0 396.8 L814.0 396.6 L817.0 396.4 L820.0 396.1 L823.0 395.8 L826.0 395.5 L829.0 395.1 L832.0 394.8 L835.0 394.5 L838.0 394.1 L841.0 393.8 L844.0 393.5 L847.0 393.2 L850.0 392.9 L853.0 392.6 L856.0 392.2 L859.0 391.9 L862.0 391.5 L865.0 391.1 L868.0 390.8 L871.0 390.4 L874.0 390.1 L877.0 389.8 L880.0 389.6 L883.0 389.4 L886.0 389.2 L889.0 389.0 L892.0 388.8 L895.0 388.5 L898.0 388.3 L901.0 388.0 L904.0 387.6 L907.0 387.3 L910.0 386.9 L913.0 386.6 L916.0 386.3 L919.0 386.0 L922.0 385.7 L925.0 385.4 L928.0 385.1 L931.0 384.8 L934.0 384.5 L937.0 384.2 L940.0 383.8 L943.0 383.5 L946.0 383.1 L949.0 382.8 L952.0 382.5 L955.0 382.2 L958.0 382.0 L961.0 381.7 L964.0 381.5 L967.0 381.3 L970.0 381.0 L973.0 380.7 L976.0 380.4 L979.0 380.0 L982.0 379.6 L985.0 379.2 L988.0 378.8 L991.0 378.4 L994.0 378.0 L997.0 377.7 L1000.0 377.4 L1003.0 377.1 L1006.0 376.8 L1009.0 376.5 L1012.0 376.3 L1015.0 376.0 L1018.0 375.7 L1021.0 375.4 L1024.0 375.1 L1027.0 374.8 L1030.0 374.5 L1033.0 374.3 L1036.0 374.1 L1039.0 373.9 L1042.0 373.7 L1045.0 373.5 L1048.0 373.3 L1051.0 373.1 L1054.0 372.8 L1057.0 372.5 L1060.0 372.2 L1063.0 371.9 L1066.0 371.6 L1069.0 371.3 L1072.0 371.0 L1075.0 370.8 L1078.0 370.6 L1081.0 370.4 L1084.0 370.2 L1087.0 370.1 L1090.0 369.9 L1093.0 369.7 L1096.0 369.5 L1099.0 369.3 L1102.0 369.0 L1105.0 368.8 L1108.0 368.5 L1111.0 368.2 L1114.0 368.0 L1117.0 367.7 L1120.0 367.5 L1123.0 367.2 L1126.0 366.9 L1129.0 366.6 L1132.0 366.3 L1135.0 365.9 L1138.0 365.5 L1141.0 365.1 L1144.0 364.7 L1147.0 364.4 L1150.0 364.1 L1153.0 363.9 L1156.0 363.7 L1159.0 363.5 L1162.0 363.4 L1165.0 363.3 L1168.0 363.2 L1171.0 363.1 L1174.0 362.9 L1177.0 362.8 L1180.0 362.6 L1183.0 362.5 L1186.0 362.3 L1189.0 362.2 L1192.0 362.1 L1195.0 362.0 L1198.0 361.9 L1201.0 361.8 L1204.0 361.8 L1207.0 361.7 L1210.0 361.6 L1213.0 361.5 L1216.0 361.3 L1219.0 361.2 L1222.0 361.1 L1225.0 361.1 L1228.0 361.0 L1231.0 361.0 L1234.0 361.0 L1237.0 361.1 L1240.0 361.2 L1243.0 361.2 L1246.0 361.3 L1249.0 361.3 L1252.0 361.2 L1255.0 361.2 L1258.0 361.1 L1261.0 361.0 L1264.0 360.9 L1267.0 360.8 L1270.0 360.7 L1273.0 360.5" stroke="#9A0C24"/>
<path d="M142.0 453.0 L145.0 452.9 L148.0 452.7 L151.0 452.6 L154.0 452.5 L157.0 452.3 L160.0 452.2 L163.0 452.0 L166.0 451.9 L169.0 451.8 L172.0 451.6 L175.0 451.5 L178.0 451.4 L181.0 451.2 L184.0 451.1 L187.0 451.0 L190.0 450.8 L193.0 450.7 L196.0 450.5 L199.0 450.4 L202.0 450.3 L205.0 450.1 L208.0 450.0 L211.0 449.9 L214.0 449.7 L217.0 449.6 L220.0 449.4 L223.0 449.3 L226.0 449.1 L229.0 448.9 L232.0 448.8 L235.0 448.6 L238.0 448.5 L241.0 448.3 L244.0 448.2 L247.0 448.1 L250.0 448.0 L253.0 447.9 L256.0 447.8 L259.0 447.6 L262.0 447.5 L265.0 447.4 L268.0 447.3 L271.0 447.1 L274.0 447.0 L277.0 446.9 L280.0 446.8 L283.0 446.7 L286.0 446.6 L289.0 446.5 L292.0 446.4 L295.0 446.4 L298.0 446.3 L301.0 446.2 L304.0 446.1 L307.0 446.0 L310.0 445.9 L313.0 445.8 L316.0 445.7 L319.0 445.7 L322.0 445.7 L325.0 445.7 L328.0 445.7 L331.0 445.8 L334.0 445.8 L337.0 445.8 L340.0 445.8 L343.0 445.8 L346.0 445.7 L349.0 445.7 L352.0 445.6 L355.0 445.5 L358.0 445.4 L361.0 445.3 L364.0 445.2 L367.0 445.0 L370.0 444.9 L373.0 444.7 L376.0 444.5 L379.0 444.3 L382.0 444.0 L385.0 443.7 L388.0 443.4 L391.0 443.1 L394.0 442.8 L397.0 442.6 L400.0 442.4 L403.0 442.2 L406.0 442.0 L409.0 441.9 L412.0 441.7 L415.0 441.5 L418.0 441.3 L421.0 441.1 L424.0 440.8 L427.0 440.5 L430.0 440.3 L433.0 440.0 L436.0 439.8 L439.0 439.6 L442.0 439.4 L445.0 439.2 L448.0 439.0 L451.0 438.8 L454.0 438.6 L457.0 438.3 L460.0 438.0 L463.0 437.7 L466.0 437.4 L469.0 437.1 L472.0 436.9 L475.0 436.7 L478.0 436.5 L481.0 436.3 L484.0 436.2 L487.0 436.1 L490.0 436.0 L493.0 435.8 L496.0 435.7 L499.0 435.5 L502.0 435.4 L505.0 435.2 L508.0 435.1 L511.0 434.9 L514.0 434.8 L517.0 434.7 L520.0 434.6 L523.0 434.5 L526.0 434.4 L529.0 434.3 L532.0 434.1 L535.0 433.9 L538.0 433.7 L541.0 433.5 L544.0 433.2 L547.0 432.9 L550.0 432.6 L553.0 432.3 L556.0 432.0 L559.0 431.7 L562.0 431.4 L565.0 431.1 L568.0 430.8 L571.0 430.4 L574.0 430.0 L577.0 429.6 L580.0 429.1 L583.0 428.7 L586.0 428.2 L589.0 427.8 L592.0 427.4 L595.0 427.0 L598.0 426.6 L601.0 426.3 L604.0 426.0 L607.0 425.6 L610.0 425.2 L613.0 424.8 L616.0 424.3 L619.0 423.9 L622.0 423.4 L625.0 422.9 L628.0 422.4 L631.0 422.0 L634.0 421.6 L637.0 421.2 L640.0 420.9 L643.0 420.6 L646.0 420.3 L649.0 420.0 L652.0 419.7 L655.0 419.3 L658.0 419.0 L661.0 418.7 L664.0 418.4 L667.0 418.1 L670.0 417.8 L673.0 417.6 L676.0 417.4 L679.0 417.2 L682.0 417.0 L685.0 416.7 L688.0 416.5 L691.0 416.2 L694.0 415.8 L697.0 415.4 L700.0 415.0 L703.0 414.5 L706.0 414.0 L709.0 413.5 L712.0 413.0 L715.0 412.6 L718.0 412.1 L721.0 411.6 L724.0 411.2 L727.0 410.7 L730.0 410.3 L733.0 409.8 L736.0 409.4 L739.0 408.9 L742.0 408.5 L745.0 408.1 L748.0 407.6 L751.0 407.2 L754.0 406.8 L757.0 406.5 L760.0 406.1 L763.0 405.7 L766.0 405.3 L769.0 404.9 L772.0 404.5 L775.0 404.1 L778.0 403.6 L781.0 403.1 L784.0 402.7 L787.0 402.3 L790.0 402.0 L793.0 401.7 L796.0 401.4 L799.0 401.2 L802.0 401.1 L805.0 400.9 L808.0 400.7 L811.0 400.6 L814.0 400.4 L817.0 400.2 L820.0 400.0 L823.0 399.8 L826.0 399.6 L829.0 399.5 L832.0 399.3 L835.0 399.2 L838.0 399.1 L841.0 398.9 L844.0 398.7 L847.0 398.5 L850.0 398.2 L853.0 397.8 L856.0 397.5 L859.0 397.1 L862.0 396.7 L865.0 396.3 L868.0 396.0 L871.0 395.7 L874.0 395.4 L877.0 395.1 L880.0 394.8 L883.0 394.5 L886.0 394.3 L889.0 394.0 L892.0 393.6 L895.0 393.3 L898.0 393.0 L901.0 392.7 L904.0 392.4 L907.0 392.1 L910.0 391.8 L913.0 391.5 L916.0 391.3 L919.0 391.0 L922.0 390.7 L925.0 390.4 L928.0 390.1 L931.0 389.7 L934.0 389.3 L937.0 388.8 L940.0 388.4 L943.0 388.0 L946.0 387.5 L949.0 387.1 L952.0 386.8 L955.0 386.4 L958.0 386.0 L961.0 385.6 L964.0 385.2 L967.0 384.8 L970.0 384.3 L973.0 383.8 L976.0 383.3 L979.0 382.8 L982.0 382.3 L985.0 381.9 L988.0 381.4 L991.0 381.0 L994.0 380.6 L997.0 380.2 L1000.0 379.8 L1003.0 379.4 L1006.0 378.9 L1009.0 378.5 L1012.0 378.0 L1015.0 377.5 L1018.0 377.0 L1021.0 376.5 L1024.0 376.0 L1027.0 375.6 L1030.0 375.3 L1033.0 374.9 L1036.0 374.6 L1039.0 374.3 L1042.0 374.0 L1045.0 373.8 L1048.0 373.5 L1051.0 373.2 L1054.0 372.9 L1057.0 372.6 L1060.0 372.4 L1063.0 372.2 L1066.0 372.0 L1069.0 371.8 L1072.0 371.6 L1075.0 371.5 L1078.0 371.3 L1081.0 371.2 L1084.0 370.9 L1087.0 370.7 L1090.0 370.4 L1093.0 370.1 L1096.0 369.8 L1099.0 369.5 L1102.0 369.2 L1105.0 369.0 L1108.0 368.7 L1111.0 368.5 L1114.0 368.2 L1117.0 368.0 L1120.0 367.8 L1123.0 367.5 L1126.0 367.3 L1129.0 367.0 L1132.0 366.7 L1135.0 366.4 L1138.0 366.1 L1141.0 365.9 L1144.0 365.6 L1147.0 365.4 L1150.0 365.2 L1153.0 365.0 L1156.0 364.9 L1159.0 364.7 L1162.0 364.5 L1165.0 364.2 L1168.0 364.0 L1171.0 363.7 L1174.0 363.5 L1177.0 363.2 L1180.0 363.0 L1183.0 362.9 L1186.0 362.7 L1189.0 362.6 L1192.0 362.6 L1195.0 362.5 L1198.0 362.5 L1201.0 362.4 L1204.0 362.4 L1207.0 362.3 L1210.0 362.2 L1213.0 362.1 L1216.0 362.1 L1219.0 362.0 L1222.0 362.0 L1225.0 362.0 L1228.0 362.0 L1231.0 362.1 L1234.0 362.1 L1237.0 362.1 L1240.0 362.1 L1243.0 362.0 L1246.0 361.9 L1249.0 361.7 L1252.0 361.6 L1255.0 361.4 L1258.0 361.3 L1261.0 361.1 L1262.0 361.0" stroke="#9A0C24"/>
<path d="M142.0 455.0 L145.0 454.9 L148.0 454.9 L151.0 454.8 L154.0 454.8 L157.0 454.7 L160.0 454.7 L163.0 454.6 L166.0 454.6 L169.0 454.5 L172.0 454.4 L175.0 454.4 L178.0 454.3 L181.0 454.3 L184.0 454.2 L187.0 454.2 L190.0 454.1 L193.0 454.1 L196.0 454.1 L199.0 454.1 L202.0 454.0 L205.0 454.0 L208.0 453.9 L211.0 453.9 L214.0 453.8 L217.0 453.8 L220.0 453.8 L223.0 453.7 L226.0 453.7 L229.0 453.6 L232.0 453.6 L235.0 453.5 L238.0 453.4 L241.0 453.3 L244.0 453.3 L247.0 453.2 L250.0 453.1 L253.0 453.0 L256.0 453.0 L259.0 453.0 L262.0 452.9 L265.0 452.9 L268.0 452.9 L271.0 452.8 L274.0 452.7 L277.0 452.6 L280.0 452.5 L283.0 452.4 L286.0 452.3 L289.0 452.3 L292.0 452.2 L295.0 452.1 L298.0 452.0 L301.0 451.9 L304.0 451.8 L307.0 451.7 L310.0 451.5 L313.0 451.3 L316.0 451.2 L319.0 451.1 L322.0 451.0 L325.0 450.9 L328.0 450.9 L331.0 450.8 L334.0 450.8 L337.0 450.8 L340.0 450.7 L343.0 450.6 L346.0 450.5 L349.0 450.4 L352.0 450.2 L355.0 450.1 L358.0 450.0 L361.0 449.9 L364.0 449.8 L367.0 449.7 L370.0 449.6 L373.0 449.5 L376.0 449.3 L379.0 449.1 L382.0 448.9 L385.0 448.7 L388.0 448.6 L391.0 448.4 L394.0 448.3 L397.0 448.3 L400.0 448.2 L403.0 448.2 L406.0 448.1 L409.0 448.0 L412.0 447.8 L415.0 447.6 L418.0 447.4 L421.0 447.2 L424.0 446.9 L427.0 446.7 L430.0 446.5 L433.0 446.3 L436.0 446.1 L439.0 445.9 L442.0 445.6 L445.0 445.4 L448.0 445.1 L451.0 444.8 L454.0 444.5 L457.0 444.2 L460.0 443.9 L463.0 443.7 L466.0 443.6 L469.0 443.4 L472.0 443.3 L475.0 443.2 L478.0 443.0 L481.0 442.8 L484.0 442.6 L487.0 442.3 L490.0 442.1 L493.0 441.8 L496.0 441.6 L499.0 441.4 L502.0 441.2 L505.0 441.0 L508.0 440.8 L511.0 440.7 L514.0 440.5 L517.0 440.3 L520.0 440.0 L523.0 439.8 L526.0 439.6 L529.0 439.4 L532.0 439.3 L535.0 439.2 L538.0 439.1 L541.0 439.0 L544.0 439.0 L547.0 438.9 L550.0 438.7 L553.0 438.5 L556.0 438.3 L559.0 438.1 L562.0 437.8 L565.0 437.5 L568.0 437.3 L571.0 437.0 L574.0 436.8 L577.0 436.6 L580.0 436.4 L583.0 436.1 L586.0 435.8 L589.0 435.5 L592.0 435.2 L595.0 434.9 L598.0 434.5 L601.0 434.3 L604.0 434.0 L607.0 433.7 L610.0 433.5 L613.0 433.3 L616.0 433.0 L619.0 432.6 L622.0 432.3 L625.0 431.9 L628.0 431.4 L631.0 430.9 L634.0 430.5 L637.0 430.0 L640.0 429.6 L643.0 429.1 L646.0 428.7 L649.0 428.3 L652.0 427.9 L655.0 427.5 L658.0 427.1 L661.0 426.6 L664.0 426.2 L667.0 425.7 L670.0 425.3 L673.0 425.0 L676.0 424.7 L679.0 424.4 L682.0 424.1 L685.0 423.8 L688.0 423.5 L691.0 423.2 L694.0 422.8 L697.0 422.4 L700.0 422.0 L703.0 421.6 L706.0 421.2 L709.0 420.9 L712.0 420.5 L715.0 420.2 L718.0 419.9 L721.0 419.6 L724.0 419.3 L727.0 418.9 L730.0 418.6 L733.0 418.2 L736.0 417.9 L739.0 417.5 L742.0 417.2 L745.0 416.9 L748.0 416.7 L751.0 416.5 L754.0 416.2 L757.0 415.9 L760.0 415.6 L763.0 415.3 L766.0 414.9 L769.0 414.5 L772.0 414.0 L775.0 413.6 L778.0 413.2 L781.0 412.8 L784.0 412.5 L787.0 412.2 L790.0 411.8 L793.0 411.5 L796.0 411.2 L799.0 410.8 L802.0 410.5 L805.0 410.1 L808.0 409.7 L811.0 409.4 L814.0 409.1 L817.0 408.9 L820.0 408.6 L823.0 408.4 L826.0 408.2 L829.0 407.9 L832.0 407.6 L835.0 407.2 L838.0 406.8 L841.0 406.4 L844.0 406.0 L847.0 405.6 L850.0 405.3 L853.0 405.0 L856.0 404.7 L859.0 404.4 L862.0 404.2 L865.0 403.9 L868.0 403.6 L871.0 403.2 L874.0 402.9 L877.0 402.6 L880.0 402.3 L883.0 402.0 L886.0 401.7 L889.0 401.5 L892.0 401.2 L895.0 401.0 L898.0 400.7 L901.0 400.4 L904.0 400.0 L907.0 399.6 L910.0 399.2 L913.0 398.8 L916.0 398.4 L919.0 398.0 L922.0 397.6 L925.0 397.3 L928.0 397.0 L931.0 396.7 L934.0 396.4 L937.0 396.1 L940.0 395.8 L943.0 395.4 L946.0 395.1 L949.0 394.7 L952.0 394.4 L955.0 394.1 L958.0 393.9 L961.0 393.6 L964.0 393.4 L967.0 393.1 L970.0 392.8 L973.0 392.5 L976.0 392.1 L979.0 391.7 L982.0 391.2 L985.0 390.8 L988.0 390.4 L991.0 390.1 L994.0 389.8 L997.0 389.5 L1000.0 389.2 L1003.0 388.9 L1006.0 388.7 L1009.0 388.4 L1012.0 388.0 L1015.0 387.7 L1018.0 387.4 L1021.0 387.1 L1024.0 386.8 L1027.0 386.5 L1030.0 386.2 L1033.0 386.0 L1036.0 385.7 L1039.0 385.4 L1042.0 385.1 L1045.0 384.7 L1048.0 384.2 L1051.0 383.8 L1054.0 383.3 L1057.0 382.9 L1060.0 382.4 L1063.0 382.1 L1066.0 381.7 L1069.0 381.4 L1072.0 381.0 L1075.0 380.7 L1078.0 380.3 L1081.0 379.8 L1084.0 379.4 L1087.0 379.0 L1090.0 378.5 L1093.0 378.1 L1096.0 377.7 L1099.0 377.2 L1102.0 376.8 L1105.0 376.4 L1108.0 375.9 L1111.0 375.3 L1114.0 374.7 L1117.0 374.0 L1120.0 373.3 L1123.0 372.6 L1126.0 371.9 L1129.0 371.2 L1132.0 370.6 L1135.0 370.0 L1138.0 369.5 L1141.0 369.1 L1144.0 368.6 L1147.0 368.2 L1150.0 367.8 L1153.0 367.5 L1156.0 367.2 L1159.0 366.9 L1162.0 366.6 L1165.0 366.4 L1168.0 366.3 L1171.0 366.1 L1174.0 366.0 L1177.0 365.9 L1180.0 365.7 L1183.0 365.5 L1186.0 365.3 L1189.0 365.1 L1192.0 364.9 L1195.0 364.6 L1198.0 364.5 L1201.0 364.3 L1204.0 364.2 L1207.0 364.1 L1210.0 364.1 L1213.0 364.0 L1216.0 364.0 L1219.0 363.9 L1222.0 363.8 L1225.0 363.7 L1228.0 363.5 L1231.0 363.4 L1234.0 363.3 L1237.0 363.2 L1240.0 363.1 L1243.0 363.0 L1246.0 363.0 L1249.0 362.8 L1252.0 362.7 L1255.0 362.5 L1258.0 362.3 L1261.0 362.1 L1264.0 361.8 L1267.0 361.6 L1270.0 361.4 L1273.0 361.3 L1273.5 361.6" stroke="#0068B8"/>
<path d="M142.0 452.0 L145.0 452.0 L148.0 451.9 L151.0 451.9 L154.0 451.9 L157.0 451.9 L160.0 451.8 L163.0 451.8 L166.0 451.8 L169.0 451.8 L172.0 451.8 L175.0 451.8 L178.0 451.7 L181.0 451.7 L184.0 451.7 L187.0 451.7 L190.0 451.6 L193.0 451.6 L196.0 451.5 L199.0 451.5 L202.0 451.4 L205.0 451.4 L208.0 451.4 L211.0 451.4 L214.0 451.4 L217.0 451.3 L220.0 451.3 L223.0 451.3 L226.0 451.2 L229.0 451.2 L232.0 451.2 L235.0 451.2 L238.0 451.1 L241.0 451.1 L244.0 451.1 L247.0 451.1 L250.0 451.0 L253.0 451.0 L256.0 450.9 L259.0 450.8 L262.0 450.7 L265.0 450.7 L268.0 450.6 L271.0 450.6 L274.0 450.6 L277.0 450.7 L280.0 450.7 L283.0 450.7 L286.0 450.7 L289.0 450.7 L292.0 450.7 L295.0 450.6 L298.0 450.5 L301.0 450.5 L304.0 450.4 L307.0 450.4 L310.0 450.4 L313.0 450.3 L316.0 450.3 L319.0 450.3 L322.0 450.2 L325.0 450.1 L328.0 450.1 L331.0 450.0 L334.0 450.0 L337.0 449.9 L340.0 449.9 L343.0 450.0 L346.0 450.0 L349.0 450.0 L352.0 450.0 L355.0 449.9 L358.0 449.8 L361.0 449.7 L364.0 449.5 L367.0 449.4 L370.0 449.2 L373.0 449.1 L376.0 449.0 L379.0 448.9 L382.0 448.9 L385.0 448.9 L388.0 448.8 L391.0 448.8 L394.0 448.7 L397.0 448.6 L400.0 448.5 L403.0 448.4 L406.0 448.3 L409.0 448.2 L412.0 448.1 L415.0 448.0 L418.0 447.9 L421.0 447.8 L424.0 447.7 L427.0 447.5 L430.0 447.3 L433.0 447.1 L436.0 446.9 L439.0 446.7 L442.0 446.6 L445.0 446.6 L448.0 446.6 L451.0 446.6 L454.0 446.6 L457.0 446.5 L460.0 446.5 L463.0 446.4 L466.0 446.2 L469.0 446.0 L472.0 445.9 L475.0 445.7 L478.0 445.6 L481.0 445.5 L484.0 445.4 L487.0 445.3 L490.0 445.2 L493.0 445.1 L496.0 445.0 L499.0 444.8 L502.0 444.7 L505.0 444.6 L508.0 444.5 L511.0 444.3 L514.0 444.3 L517.0 444.2 L520.0 444.1 L523.0 444.0 L526.0 443.8 L529.0 443.6 L532.0 443.4 L535.0 443.1 L538.0 442.8 L541.0 442.5 L544.0 442.3 L547.0 442.1 L550.0 442.0 L553.0 441.9 L556.0 441.9 L559.0 441.9 L562.0 441.9 L565.0 441.9 L568.0 441.9 L571.0 441.9 L574.0 441.8 L577.0 441.8 L580.0 441.7 L583.0 441.7 L586.0 441.7 L589.0 441.7 L592.0 441.6 L595.0 441.6 L598.0 441.5 L601.0 441.4 L604.0 441.2 L607.0 441.1 L610.0 441.0 L613.0 440.9 L616.0 440.9 L619.0 441.0 L622.0 441.0 L625.0 441.1 L628.0 441.1 L631.0 441.2 L634.0 441.2 L637.0 441.1 L640.0 441.0 L643.0 440.9 L646.0 440.8 L649.0 440.7 L652.0 440.6 L655.0 440.6 L658.0 440.6 L661.0 440.6 L664.0 440.6 L667.0 440.5 L670.0 440.5 L673.0 440.5 L676.0 440.4 L679.0 440.4 L682.0 440.4 L685.0 440.5 L688.0 440.6 L691.0 440.6 L694.0 440.7 L697.0 440.8 L700.0 440.8 L703.0 440.7 L706.0 440.7 L709.0 440.6 L712.0 440.4 L715.0 440.3 L718.0 440.3 L721.0 440.2 L724.0 440.3 L727.0 440.3 L730.0 440.3 L733.0 440.4 L736.0 440.4 L739.0 440.4 L742.0 440.3 L745.0 440.3 L748.0 440.2 L751.0 440.1 L754.0 440.0 L757.0 439.9 L760.0 439.9 L763.0 439.8 L766.0 439.7 L769.0 439.6 L772.0 439.4 L775.0 439.2 L778.0 439.0 L781.0 438.9 L784.0 438.7 L787.0 438.6 L790.0 438.5 L793.0 438.5 L796.0 438.5 L799.0 438.5 L802.0 438.5 L805.0 438.4 L808.0 438.3 L811.0 438.2 L814.0 438.0 L817.0 437.8 L820.0 437.6 L823.0 437.4 L826.0 437.3 L829.0 437.2 L832.0 437.1 L835.0 437.0 L838.0 436.9 L841.0 436.8 L844.0 436.7 L847.0 436.5 L850.0 436.4 L853.0 436.3 L856.0 436.2 L859.0 436.2 L862.0 436.1 L865.0 436.1 L868.0 436.1 L871.0 436.0 L874.0 435.9 L877.0 435.7 L880.0 435.5 L883.0 435.3 L886.0 435.1 L889.0 434.9 L892.0 434.8 L895.0 434.7 L898.0 434.7 L901.0 434.6 L904.0 434.6 L907.0 434.6 L910.0 434.6 L913.0 434.5 L916.0 434.5 L919.0 434.3 L922.0 434.2 L925.0 434.1 L928.0 434.0 L931.0 433.9 L934.0 433.8 L937.0 433.8 L940.0 433.7 L943.0 433.5 L946.0 433.4 L949.0 433.2 L952.0 433.0 L955.0 432.9 L958.0 432.7 L961.0 432.6 L964.0 432.6 L967.0 432.6 L970.0 432.6 L973.0 432.6 L976.0 432.5 L979.0 432.4 L982.0 432.3 L985.0 432.1 L988.0 431.9 L991.0 431.7 L994.0 431.4 L997.0 431.2 L1000.0 431.1 L1003.0 430.9 L1006.0 430.8 L1009.0 430.7 L1012.0 430.5 L1015.0 430.4 L1018.0 430.2 L1021.0 430.0 L1024.0 429.8 L1027.0 429.7 L1030.0 429.5 L1033.0 429.4 L1036.0 429.3 L1039.0 429.2 L1042.0 429.0 L1045.0 428.9 L1048.0 428.7 L1051.0 428.4 L1054.0 428.1 L1057.0 427.9 L1060.0 427.6 L1063.0 427.3 L1066.0 427.1 L1069.0 427.0 L1072.0 426.9 L1075.0 426.8 L1078.0 426.8 L1081.0 426.7 L1084.0 426.6 L1087.0 426.5 L1090.0 426.3 L1093.0 426.2 L1096.0 426.0 L1099.0 425.9 L1102.0 425.7 L1105.0 425.6 L1108.0 425.5 L1111.0 425.4 L1114.0 425.3 L1117.0 425.2 L1120.0 425.0 L1123.0 424.9 L1126.0 424.7 L1129.0 424.6 L1132.0 424.5 L1135.0 424.4 L1138.0 424.4 L1141.0 424.4 L1144.0 424.5 L1147.0 424.5 L1150.0 424.4 L1153.0 424.4 L1156.0 424.3 L1159.0 424.1 L1162.0 423.9 L1165.0 423.7 L1168.0 423.6 L1171.0 423.4 L1174.0 423.3 L1177.0 423.2 L1180.0 423.2 L1183.0 423.1 L1186.0 423.1 L1189.0 423.0 L1192.0 422.9 L1195.0 422.8 L1198.0 422.7 L1201.0 422.6 L1204.0 422.5 L1207.0 422.4 L1210.0 422.4 L1213.0 422.3 L1216.0 422.3 L1219.0 422.1 L1222.0 422.0 L1225.0 421.8 L1228.0 421.6 L1231.0 421.3 L1234.0 421.1 L1237.0 420.9 L1240.0 420.8 L1243.0 420.7 L1246.0 420.7 L1249.0 420.6 L1252.0 420.6 L1253.7 420.6" stroke="#DC4A0C"/>
<path d="M142.0 454.0 L145.0 453.9 L148.0 453.8 L151.0 453.7 L154.0 453.6 L157.0 453.5 L160.0 453.4 L163.0 453.3 L166.0 453.2 L169.0 453.1 L172.0 453.1 L175.0 453.0 L178.0 452.9 L181.0 452.8 L184.0 452.7 L187.0 452.6 L190.0 452.5 L193.0 452.3 L196.0 452.2 L199.0 452.0 L202.0 451.9 L205.0 451.8 L208.0 451.6 L211.0 451.5 L214.0 451.3 L217.0 451.1 L220.0 450.9 L223.0 450.7 L226.0 450.5 L229.0 450.3 L232.0 450.1 L235.0 449.9 L238.0 449.7 L241.0 449.5 L244.0 449.3 L247.0 449.0 L250.0 448.7 L253.0 448.4 L256.0 448.0 L259.0 447.7 L262.0 447.3 L265.0 447.0 L268.0 446.7 L271.0 446.4 L274.0 446.1 L277.0 445.8 L280.0 445.5 L283.0 445.2 L286.0 444.8 L289.0 444.5 L292.0 444.2 L295.0 443.9 L298.0 443.7 L301.0 443.4 L304.0 443.2 L307.0 443.0 L310.0 442.7 L313.0 442.5 L316.0 442.1 L319.0 441.8 L322.0 441.5 L325.0 441.2 L328.0 441.0 L331.0 440.8 L334.0 440.6 L337.0 440.4 L340.0 440.2 L343.0 440.0 L346.0 439.8 L349.0 439.6 L352.0 439.4 L355.0 439.2 L358.0 439.0 L361.0 438.9 L364.0 438.7 L367.0 438.6 L370.0 438.4 L373.0 438.3 L376.0 438.0 L379.0 437.7 L382.0 437.4 L385.0 437.1 L388.0 436.7 L391.0 436.4 L394.0 436.1 L397.0 435.9 L400.0 435.7 L403.0 435.4 L406.0 435.1 L409.0 434.8 L412.0 434.5 L415.0 434.2 L418.0 433.8 L421.0 433.5 L424.0 433.2 L427.0 432.9 L430.0 432.6 L433.0 432.3 L436.0 431.9 L439.0 431.5 L442.0 431.0 L445.0 430.5 L448.0 430.0 L451.0 429.5 L454.0 429.0 L457.0 428.6 L460.0 428.2 L463.0 427.8 L466.0 427.5 L469.0 427.1 L472.0 426.8 L475.0 426.4 L478.0 426.0 L481.0 425.6 L484.0 425.2 L487.0 424.9 L490.0 424.6 L493.0 424.3 L496.0 424.0 L499.0 423.7 L502.0 423.4 L505.0 423.0 L508.0 422.6 L511.0 422.2 L514.0 421.8 L517.0 421.4 L520.0 421.0 L523.0 420.7 L526.0 420.4 L529.0 420.1 L532.0 419.8 L535.0 419.5 L538.0 419.2 L541.0 418.9 L544.0 418.5 L547.0 418.2 L550.0 417.9 L553.0 417.6 L556.0 417.3 L559.0 417.1 L562.0 416.8 L565.0 416.5 L568.0 416.1 L571.0 415.7 L574.0 415.2 L577.0 414.8 L580.0 414.3 L583.0 413.9 L586.0 413.5 L589.0 413.2 L592.0 412.9 L595.0 412.6 L598.0 412.3 L601.0 412.0 L604.0 411.6 L607.0 411.2 L610.0 410.9 L613.0 410.5 L616.0 410.2 L619.0 410.0 L622.0 409.7 L625.0 409.4 L628.0 409.2 L631.0 408.8 L634.0 408.5 L637.0 408.1 L640.0 407.6 L643.0 407.2 L646.0 406.8 L649.0 406.5 L652.0 406.2 L655.0 406.0 L658.0 405.7 L661.0 405.5 L664.0 405.3 L667.0 405.0 L670.0 404.7 L673.0 404.4 L676.0 404.1 L679.0 403.9 L682.0 403.6 L685.0 403.4 L688.0 403.2 L691.0 403.0 L694.0 402.8 L697.0 402.4 L700.0 402.1 L703.0 401.7 L706.0 401.3 L709.0 400.9 L712.0 400.6 L715.0 400.3 L718.0 400.0 L721.0 399.8 L724.0 399.5 L727.0 399.3 L730.0 399.0 L733.0 398.7 L736.0 398.3 L739.0 398.0 L742.0 397.7 L745.0 397.4 L748.0 397.1 L751.0 396.9 L754.0 396.6 L757.0 396.3 L760.0 396.0 L763.0 395.6 L766.0 395.2 L769.0 394.7 L772.0 394.3 L775.0 393.9 L778.0 393.6 L781.0 393.3 L784.0 393.0 L787.0 392.8 L790.0 392.6 L793.0 392.3 L796.0 392.0 L799.0 391.8 L802.0 391.5 L805.0 391.2 L808.0 391.0 L811.0 390.8 L814.0 390.6 L817.0 390.4 L820.0 390.2 L823.0 390.0 L826.0 389.8 L829.0 389.5 L832.0 389.1 L835.0 388.8 L838.0 388.5 L841.0 388.3 L844.0 388.1 L847.0 388.0 L850.0 387.8 L853.0 387.7 L856.0 387.6 L859.0 387.4 L862.0 387.2 L865.0 387.0 L868.0 386.7 L871.0 386.5 L874.0 386.4 L877.0 386.2 L880.0 386.1 L883.0 385.9 L886.0 385.7 L889.0 385.4 L892.0 385.1 L895.0 384.7 L898.0 384.3 L901.0 384.0 L904.0 383.6 L907.0 383.3 L910.0 383.1 L913.0 382.8 L916.0 382.6 L919.0 382.4 L922.0 382.1 L925.0 381.8 L928.0 381.4 L931.0 381.1 L934.0 380.8 L937.0 380.5 L940.0 380.2 L943.0 379.9 L946.0 379.7 L949.0 379.4 L952.0 379.0 L955.0 378.6 L958.0 378.2 L961.0 377.8 L964.0 377.3 L967.0 376.9 L970.0 376.6 L973.0 376.3 L976.0 376.0 L979.0 375.8 L982.0 375.6 L985.0 375.3 L988.0 375.0 L991.0 374.7 L994.0 374.4 L997.0 374.1 L1000.0 373.9 L1003.0 373.6 L1006.0 373.4 L1009.0 373.2 L1012.0 373.0 L1015.0 372.8 L1018.0 372.5 L1021.0 372.1 L1024.0 371.8 L1027.0 371.4 L1030.0 371.1 L1033.0 370.8 L1036.0 370.6 L1039.0 370.4 L1042.0 370.2 L1045.0 370.0 L1048.0 369.8 L1051.0 369.6 L1054.0 369.3 L1057.0 369.0 L1060.0 368.8 L1063.0 368.5 L1066.0 368.2 L1069.0 367.9 L1072.0 367.7 L1075.0 367.4 L1078.0 367.1 L1081.0 366.7 L1084.0 366.3 L1087.0 365.8 L1090.0 365.3 L1093.0 364.8 L1096.0 364.3 L1099.0 363.9 L1102.0 363.5 L1105.0 363.0 L1108.0 362.5 L1111.0 362.0 L1114.0 361.4 L1117.0 360.7 L1120.0 360.0 L1123.0 359.4 L1126.0 358.8 L1129.0 358.3 L1132.0 357.9 L1135.0 357.7 L1138.0 357.5 L1141.0 357.3 L1144.0 357.1 L1147.0 356.9 L1150.0 356.6 L1153.0 356.4 L1156.0 356.1 L1159.0 355.9 L1162.0 355.7 L1165.0 355.7 L1168.0 355.6 L1171.0 355.6 L1174.0 355.6 L1177.0 355.6 L1180.0 355.5 L1183.0 355.4 L1186.0 355.3 L1189.0 355.2 L1192.0 355.1 L1195.0 355.0 L1198.0 354.9 L1201.0 354.9 L1204.0 354.8 L1207.0 354.7 L1210.0 354.5 L1213.0 354.3 L1216.0 354.1 L1219.0 353.9 L1222.0 353.6 L1225.0 353.4 L1228.0 353.3 L1231.0 353.2 L1234.0 353.1 L1237.0 353.1 L1240.0 353.0 L1243.0 352.9 L1246.0 352.7 L1249.0 352.5 L1252.0 352.4 L1255.0 352.2 L1258.0 352.0 L1261.0 351.9 L1263.4 351.6" stroke="#0068B8"/>
<path d="M142.0 453.5 L145.0 453.2 L148.0 453.0 L151.0 452.7 L154.0 452.5 L157.0 452.2 L160.0 452.0 L163.0 451.7 L166.0 451.5 L169.0 451.3 L172.0 451.0 L175.0 450.8 L178.0 450.5 L181.0 450.2 L184.0 450.0 L187.0 449.7 L190.0 449.5 L193.0 449.2 L196.0 448.9 L199.0 448.7 L202.0 448.5 L205.0 448.2 L208.0 447.9 L211.0 447.7 L214.0 447.4 L217.0 447.1 L220.0 446.8 L223.0 446.5 L226.0 446.2 L229.0 446.0 L232.0 445.7 L235.0 445.4 L238.0 445.2 L241.0 445.0 L244.0 444.8 L247.0 444.6 L250.0 444.5 L253.0 444.3 L256.0 444.1 L259.0 443.9 L262.0 443.7 L265.0 443.6 L268.0 443.4 L271.0 443.3 L274.0 443.2 L277.0 443.1 L280.0 443.0 L283.0 442.9 L286.0 442.8 L289.0 442.6 L292.0 442.5 L295.0 442.3 L298.0 442.1 L301.0 441.9 L304.0 441.7 L307.0 441.4 L310.0 441.2 L313.0 441.0 L316.0 440.7 L319.0 440.5 L322.0 440.2 L325.0 439.9 L328.0 439.6 L331.0 439.3 L334.0 438.9 L337.0 438.6 L340.0 438.2 L343.0 437.8 L346.0 437.5 L349.0 437.1 L352.0 436.8 L355.0 436.5 L358.0 436.2 L361.0 435.9 L364.0 435.6 L367.0 435.2 L370.0 434.8 L373.0 434.4 L376.0 433.9 L379.0 433.5 L382.0 433.0 L385.0 432.5 L388.0 432.0 L391.0 431.6 L394.0 431.2 L397.0 430.7 L400.0 430.3 L403.0 429.8 L406.0 429.4 L409.0 428.9 L412.0 428.4 L415.0 427.9 L418.0 427.5 L421.0 427.1 L424.0 426.7 L427.0 426.3 L430.0 425.8 L433.0 425.4 L436.0 424.9 L439.0 424.2 L442.0 423.0 L445.0 421.6 L448.0 420.5 L451.0 419.7 L454.0 418.9 L457.0 418.1 L460.0 417.4 L463.0 416.7 L466.0 416.2 L469.0 415.6 L472.0 415.1 L475.0 414.7 L478.0 414.2 L481.0 413.7 L484.0 413.2 L487.0 412.8 L490.0 412.3 L493.0 411.8 L496.0 411.4 L499.0 411.0 L502.0 410.6 L505.0 410.3 L508.0 410.0 L511.0 409.8 L514.0 409.5 L517.0 409.2 L520.0 408.9 L523.0 408.5 L526.0 408.1 L529.0 407.7 L532.0 407.3 L535.0 406.9 L538.0 406.5 L541.0 406.1 L544.0 405.7 L547.0 405.4 L550.0 405.1 L553.0 404.7 L556.0 404.3 L559.0 403.9 L562.0 403.5 L565.0 403.0 L568.0 402.5 L571.0 401.9 L574.0 401.4 L577.0 400.8 L580.0 400.3 L583.0 399.8 L586.0 399.2 L589.0 398.7 L592.0 398.2 L595.0 397.6 L598.0 397.0 L601.0 396.3 L604.0 395.6 L607.0 394.8 L610.0 394.0 L613.0 393.1 L616.0 392.4 L619.0 391.8 L622.0 391.2 L625.0 390.7 L628.0 390.1 L631.0 389.6 L634.0 389.1 L637.0 388.6 L640.0 388.1 L643.0 387.6 L646.0 387.0 L649.0 386.5 L652.0 386.0 L655.0 385.5 L658.0 385.1 L661.0 384.7 L664.0 384.3 L667.0 383.9 L670.0 383.5 L673.0 383.1 L676.0 382.6 L679.0 382.1 L682.0 381.6 L685.0 381.0 L688.0 380.4 L691.0 379.8 L694.0 379.2 L697.0 378.6 L700.0 378.0 L703.0 377.5 L706.0 376.9 L709.0 376.3 L712.0 375.7 L715.0 375.0 L718.0 374.3 L721.0 373.7 L724.0 373.0 L727.0 372.3 L730.0 371.7 L733.0 371.0 L736.0 370.4 L739.0 369.9 L742.0 369.3 L745.0 368.7 L748.0 368.1 L751.0 367.5 L754.0 366.9 L757.0 366.2 L760.0 365.5 L763.0 364.7 L766.0 364.0 L769.0 363.3 L772.0 362.6 L775.0 361.9 L778.0 361.3 L781.0 360.7 L784.0 360.0 L787.0 359.4 L790.0 358.8 L793.0 358.1 L796.0 357.4 L799.0 356.8 L802.0 356.1 L805.0 355.4 L808.0 354.8 L811.0 354.2 L814.0 353.6 L817.0 353.0 L820.0 352.4 L823.0 351.8 L826.0 351.2 L829.0 350.5 L832.0 349.8 L835.0 349.1 L838.0 348.3 L841.0 347.5 L844.0 346.7 L847.0 346.0 L850.0 345.2 L853.0 344.5 L856.0 343.8 L859.0 343.1 L862.0 342.4 L865.0 341.7 L868.0 340.9 L871.0 340.2 L874.0 339.5 L877.0 338.7 L880.0 338.0 L883.0 337.3 L886.0 336.6 L889.0 336.0 L892.0 335.3 L895.0 334.8 L898.0 334.2 L901.0 333.6 L904.0 333.0 L907.0 332.3 L910.0 331.6 L913.0 330.9 L916.0 330.2 L919.0 329.5 L922.0 328.8 L925.0 328.1 L928.0 327.5 L931.0 326.9 L934.0 326.3 L937.0 325.7 L940.0 325.1 L943.0 324.5 L946.0 323.9 L949.0 323.3 L952.0 322.7 L955.0 322.1 L958.0 321.5 L961.0 320.9 L964.0 320.3 L967.0 319.8 L970.0 319.3 L973.0 318.8 L976.0 318.3 L979.0 317.7 L982.0 317.2 L985.0 316.6 L988.0 315.9 L991.0 315.3 L994.0 314.6 L997.0 313.9 L1000.0 313.2 L1003.0 312.6 L1006.0 312.0 L1009.0 311.4 L1012.0 310.8 L1015.0 310.2 L1018.0 309.6 L1021.0 309.0 L1024.0 308.4 L1027.0 307.8 L1030.0 307.2 L1033.0 306.6 L1036.0 306.0 L1039.0 305.4 L1042.0 304.9 L1045.0 304.4 L1048.0 303.9 L1051.0 303.5 L1054.0 303.0 L1057.0 302.5 L1060.0 302.0 L1063.0 301.6 L1066.0 301.1 L1069.0 300.7 L1072.0 300.3 L1075.0 299.7 L1078.0 299.1 L1081.0 298.0 L1084.0 295.5 L1087.0 293.0 L1090.0 291.9 L1093.0 291.2 L1096.0 290.7 L1099.0 290.1 L1102.0 289.4 L1105.0 288.6 L1108.0 287.7 L1111.0 286.8 L1114.0 285.9 L1117.0 285.0 L1120.0 284.1 L1123.0 283.2 L1126.0 282.4 L1129.0 281.6 L1132.0 280.9 L1135.0 280.1 L1138.0 279.5 L1141.0 278.8 L1144.0 278.3 L1147.0 277.7 L1150.0 277.2 L1153.0 276.7 L1156.0 276.3 L1159.0 275.9 L1162.0 275.6 L1165.0 275.3 L1168.0 275.0 L1171.0 274.7 L1174.0 274.4 L1177.0 274.2 L1180.0 273.9 L1183.0 273.6 L1186.0 273.4 L1189.0 273.1 L1192.0 272.9 L1195.0 272.7 L1198.0 272.4 L1201.0 272.2 L1204.0 272.0 L1207.0 271.7 L1210.0 271.3 L1213.0 270.7 L1216.0 270.2 L1219.0 269.7 L1222.0 269.4 L1225.0 269.0 L1228.0 268.7 L1231.0 268.5 L1234.0 268.2 L1237.0 268.1 L1240.0 267.9 L1243.0 267.8 L1246.0 267.7 L1249.0 267.6 L1252.0 267.6 L1255.0 267.5 L1258.0 267.3 L1261.0 267.2 L1264.0 267.1 L1267.0 267.0 L1270.0 266.9 L1273.0 266.9 L1276.0 266.8 L1279.0 266.8 L1282.0 266.7 L1285.0 266.2" stroke="#0068B8"/>
<path d="M142.0 450.5 L145.0 450.4 L148.0 450.4 L151.0 450.3 L154.0 450.3 L157.0 450.2 L160.0 450.2 L163.0 450.1 L166.0 450.1 L169.0 450.0 L172.0 450.0 L175.0 449.9 L178.0 449.9 L181.0 449.9 L184.0 449.8 L187.0 449.8 L190.0 449.7 L193.0 449.7 L196.0 449.6 L199.0 449.6 L202.0 449.5 L205.0 449.4 L208.0 449.3 L211.0 449.3 L214.0 449.2 L217.0 449.1 L220.0 449.1 L223.0 449.0 L226.0 448.9 L229.0 448.8 L232.0 448.7 L235.0 448.7 L238.0 448.6 L241.0 448.4 L244.0 448.3 L247.0 448.2 L250.0 448.1 L253.0 448.0 L256.0 447.9 L259.0 447.8 L262.0 447.6 L265.0 447.5 L268.0 447.3 L271.0 447.1 L274.0 446.9 L277.0 446.7 L280.0 446.5 L283.0 446.3 L286.0 446.2 L289.0 446.0 L292.0 445.9 L295.0 445.8 L298.0 445.7 L301.0 445.7 L304.0 445.6 L307.0 445.6 L310.0 445.5 L313.0 445.5 L316.0 445.4 L319.0 445.4 L322.0 445.3 L325.0 445.3 L328.0 445.3 L331.0 445.3 L334.0 445.3 L337.0 445.3 L340.0 445.3 L343.0 445.2 L346.0 445.1 L349.0 445.0 L352.0 444.8 L355.0 444.6 L358.0 444.3 L361.0 444.1 L364.0 443.8 L367.0 443.5 L370.0 443.2 L373.0 442.9 L376.0 442.7 L379.0 442.4 L382.0 442.1 L385.0 441.8 L388.0 441.5 L391.0 441.1 L394.0 440.8 L397.0 440.4 L400.0 440.1 L403.0 439.8 L406.0 439.5 L409.0 439.2 L412.0 439.0" stroke="#9A0C24"/>
<path d="M142.0 447.6 L145.0 447.4 L148.0 447.2 L151.0 447.0 L154.0 446.9 L157.0 446.7 L160.0 446.5 L163.0 446.3 L166.0 446.1 L169.0 445.9 L172.0 445.7 L175.0 445.5 L178.0 445.3 L181.0 445.1 L184.0 444.9 L187.0 444.7 L190.0 444.5 L193.0 444.3 L196.0 444.0 L199.0 443.8 L202.0 443.5 L205.0 443.2 L208.0 443.0 L211.0 442.7 L214.0 442.5 L217.0 442.2 L220.0 441.9 L223.0 441.7 L226.0 441.4 L229.0 441.1 L232.0 440.7 L235.0 440.4 L238.0 440.0 L241.0 439.7 L244.0 439.3 L247.0 438.9 L250.0 438.5 L253.0 438.1 L256.0 437.7 L259.0 437.3 L262.0 436.8 L265.0 436.4 L268.0 435.9 L271.0 435.4 L274.0 434.9 L277.0 434.5 L280.0 434.0 L283.0 433.6 L286.0 433.1 L289.0 432.7 L292.0 432.3 L295.0 431.9 L298.0 431.5 L301.0 431.1 L304.0 430.7 L307.0 430.2 L310.0 429.7 L313.0 429.3 L316.0 428.8 L319.0 428.3 L322.0 427.8 L325.0 427.4 L328.0 427.0 L331.0 426.6 L334.0 426.1 L337.0 425.7 L340.0 425.2 L343.0 424.8 L346.0 424.3 L349.0 423.9 L352.0 423.4 L355.0 423.0 L358.0 422.6 L361.0 422.3 L364.0 422.0 L367.0 421.7 L370.0 421.3 L373.0 421.0 L376.0 420.6 L379.0 420.2 L382.0 419.8 L385.0 419.4 L388.0 418.9 L391.0 418.5 L394.0 418.1 L397.0 417.7 L400.0 417.4 L403.0 417.0 L406.0 416.7 L409.0 416.3 L412.0 416.0 L415.0 415.6 L418.0 415.2 L421.0 414.9 L424.0 414.5 L427.0 414.2 L430.0 413.9 L433.0 413.6 L436.0 413.4 L439.0 413.1 L442.0 412.8 L445.0 412.6 L448.0 412.3 L451.0 411.9 L454.0 411.5 L457.0 411.1 L460.0 410.6 L463.0 410.2 L466.0 409.8 L469.0 409.3 L472.0 408.9 L475.0 408.5 L478.0 408.2 L481.0 407.8 L484.0 407.4 L487.0 407.0 L490.0 406.6 L493.0 406.2 L496.0 405.7 L499.0 405.3 L502.0 404.9 L505.0 404.6 L508.0 404.2 L511.0 403.9 L514.0 403.6 L517.0 403.3 L520.0 402.9 L523.0 402.5 L526.0 402.1 L529.0 401.5 L532.0 400.9 L535.0 400.3 L538.0 399.7 L541.0 399.0 L544.0 398.3 L547.0 397.6 L550.0 397.0 L553.0 396.3 L556.0 395.6 L559.0 394.9 L562.0 394.2 L565.0 393.5 L568.0 392.7 L571.0 392.0 L574.0 391.2 L577.0 390.5 L580.0 389.8 L583.0 389.1 L586.0 388.4 L589.0 387.8 L592.0 387.1 L595.0 386.4 L598.0 385.7 L601.0 384.9 L604.0 384.1 L607.0 383.3 L610.0 382.4 L613.0 381.5 L616.0 380.7 L619.0 379.9 L622.0 379.1 L625.0 378.3 L628.0 377.5 L631.0 376.8 L634.0 376.1 L637.0 375.4 L640.0 374.7 L643.0 374.0 L646.0 373.4 L649.0 372.8 L652.0 372.3 L655.0 371.8 L658.0 371.3 L661.0 370.9 L664.0 370.6 L667.0 370.2 L670.0 369.8 L673.0 369.4 L676.0 369.0 L679.0 368.5 L682.0 368.0 L685.0 367.4 L688.0 366.9 L691.0 366.4 L694.0 365.8 L697.0 365.3 L700.0 364.8 L703.0 364.2 L706.0 363.6 L709.0 363.0 L712.0 362.3 L715.0 361.6 L718.0 360.8 L721.0 360.1 L724.0 359.3 L727.0 358.6 L730.0 357.9 L733.0 357.2 L736.0 356.5 L739.0 355.8 L742.0 355.2 L745.0 354.5 L748.0 353.7 L751.0 353.0 L754.0 352.2 L757.0 351.3 L760.0 350.5 L763.0 349.7 L766.0 348.9 L769.0 348.1 L772.0 347.4 L775.0 346.7 L778.0 346.0 L781.0 345.3 L784.0 344.6 L787.0 343.9 L790.0 343.2 L793.0 342.5 L796.0 341.8 L799.0 341.2 L802.0 340.6 L805.0 340.1 L808.0 339.6 L811.0 339.2 L814.0 338.8 L817.0 338.4 L820.0 337.9 L823.0 337.5 L826.0 337.0 L829.0 336.5 L832.0 336.0 L835.0 335.5 L838.0 335.0 L841.0 334.6 L844.0 334.1 L847.0 333.7 L850.0 333.3 L853.0 332.9 L856.0 332.4 L859.0 332.0 L862.0 331.5 L865.0 331.0 L868.0 330.5 L871.0 330.0 L874.0 329.6 L877.0 329.1 L880.0 328.7 L883.0 328.4 L886.0 328.0 L889.0 327.6 L892.0 327.2 L895.0 326.8 L898.0 326.3 L901.0 325.8 L904.0 325.3 L907.0 324.7 L910.0 324.2 L913.0 323.6 L916.0 323.0 L919.0 322.5 L922.0 321.9 L925.0 321.4 L928.0 320.8 L931.0 320.2 L934.0 319.6 L937.0 319.0 L940.0 318.3 L943.0 317.6 L946.0 317.0 L949.0 316.3 L952.0 315.7 L955.0 315.1 L958.0 314.6 L961.0 314.0 L964.0 313.5 L967.0 312.9 L970.0 312.3 L973.0 311.7 L976.0 311.1 L979.0 310.4 L982.0 309.7 L985.0 309.0 L988.0 308.3 L991.0 307.6 L994.0 306.9 L997.0 306.3 L1000.0 305.6 L1003.0 305.0 L1006.0 304.3 L1009.0 303.6 L1012.0 302.9 L1015.0 302.1 L1018.0 301.4 L1021.0 300.7 L1024.0 300.0 L1027.0 299.3 L1030.0 298.7 L1033.0 298.0 L1036.0 297.5 L1039.0 296.9 L1042.0 296.3 L1045.0 295.7 L1048.0 295.0 L1051.0 294.3 L1054.0 293.6 L1057.0 292.9 L1060.0 292.1 L1063.0 291.4 L1066.0 290.7 L1069.0 290.1 L1072.0 289.4 L1075.0 288.7 L1078.0 288.0 L1081.0 287.3 L1084.0 286.6 L1087.0 285.9 L1090.0 285.1 L1093.0 284.3 L1096.0 283.6 L1099.0 282.9 L1102.0 282.2 L1105.0 281.5 L1108.0 280.8 L1111.0 280.1 L1114.0 279.4 L1117.0 278.7 L1120.0 277.9 L1123.0 277.2 L1126.0 276.4 L1129.0 275.6 L1132.0 274.9 L1135.0 274.2 L1138.0 273.6 L1141.0 272.9 L1144.0 272.3 L1147.0 271.7 L1150.0 271.1 L1153.0 270.5 L1156.0 269.9 L1159.0 269.3 L1162.0 268.8 L1165.0 268.3 L1168.0 267.9 L1171.0 267.6 L1174.0 267.3 L1177.0 267.2 L1180.0 267.1 L1183.0 267.0 L1186.0 267.0 L1189.0 267.0 L1192.0 266.9 L1195.0 266.7 L1198.0 266.5 L1201.0 266.2 L1204.0 265.7 L1207.0 265.0 L1210.0 264.3 L1213.0 263.6 L1216.0 263.0 L1219.0 262.6 L1222.0 262.5 L1225.0 262.3 L1228.0 262.2 L1231.0 262.1 L1234.0 261.9 L1237.0 261.8 L1240.0 261.6 L1243.0 261.4 L1246.0 261.2 L1249.0 261.1 L1252.0 261.0 L1255.0 260.9 L1258.0 260.9 L1261.0 260.8 L1264.0 260.8 L1267.0 260.7 L1270.0 260.7 L1273.0 260.6 L1274.7 260.5" stroke="#3CB6EF"/>
<path d="M142.0 457.3 L145.0 457.3 L148.0 457.3 L151.0 457.3 L154.0 457.2 L157.0 457.2 L160.0 457.2 L163.0 457.2 L166.0 457.2 L169.0 457.2 L172.0 457.1 L175.0 457.1 L178.0 457.1 L181.0 457.1 L184.0 457.0 L187.0 457.0 L190.0 457.0 L193.0 456.9 L196.0 456.9 L199.0 456.9 L202.0 456.9 L205.0 456.9 L208.0 456.9 L211.0 456.9 L214.0 456.9 L217.0 456.9 L220.0 456.9 L223.0 456.9 L226.0 456.8 L229.0 456.8 L232.0 456.8 L235.0 456.8 L238.0 456.8 L241.0 456.8 L244.0 456.8 L247.0 456.8 L250.0 456.8 L253.0 456.8 L256.0 456.7 L259.0 456.7 L262.0 456.7 L265.0 456.6 L268.0 456.6 L271.0 456.6 L274.0 456.7 L277.0 456.7 L280.0 456.8 L283.0 456.8 L286.0 456.9 L289.0 456.9 L292.0 456.9 L295.0 456.9 L298.0 456.8 L301.0 456.8 L304.0 456.7 L307.0 456.7 L310.0 456.7 L313.0 456.7 L316.0 456.7 L319.0 456.7 L322.0 456.6 L325.0 456.6 L328.0 456.6 L331.0 456.5 L334.0 456.5 L337.0 456.5 L340.0 456.5 L343.0 456.5 L346.0 456.5 L349.0 456.6 L352.0 456.6 L355.0 456.7 L358.0 456.7 L361.0 456.7 L364.0 456.7 L367.0 456.6 L370.0 456.5 L373.0 456.4 L376.0 456.4 L379.0 456.3 L382.0 456.3 L385.0 456.3 L388.0 456.3 L391.0 456.4 L394.0 456.4 L397.0 456.5 L400.0 456.5 L403.0 456.6 L406.0 456.6 L409.0 456.6 L412.0 456.7 L415.0 456.7 L418.0 456.8 L421.0 456.9 L424.0 457.0 L427.0 457.1 L430.0 457.2 L433.0 457.3 L436.0 457.4 L439.0 457.4 L442.0 457.4 L445.0 457.4 L448.0 457.4 L451.0 457.5 L454.0 457.6 L457.0 457.7 L460.0 457.9 L463.0 458.1 L466.0 458.4 L469.0 458.6 L472.0 458.8 L475.0 459.0 L478.0 459.2 L481.0 459.4 L484.0 459.6 L487.0 459.7 L490.0 459.9 L493.0 460.1 L496.0 460.3 L499.0 460.5 L502.0 460.7 L505.0 460.9 L508.0 461.0 L511.0 461.1 L514.0 461.2 L517.0 461.3 L520.0 461.4 L523.0 461.5 L526.0 461.7 L529.0 461.9 L532.0 462.1 L535.0 462.4 L538.0 462.6 L541.0 462.9 L544.0 463.1 L547.0 463.3 L550.0 463.4 L553.0 463.5 L556.0 463.6 L559.0 463.7 L562.0 463.8 L565.0 464.0 L568.0 464.1 L571.0 464.3 L574.0 464.5 L577.0 464.7 L580.0 465.0 L583.0 465.2 L586.0 465.4 L589.0 465.5 L592.0 465.7 L595.0 466.0 L598.0 466.2 L601.0 466.5 L604.0 466.8 L607.0 467.2 L610.0 467.5 L613.0 467.8 L616.0 468.1 L619.0 468.4 L622.0 468.6 L625.0 468.8 L628.0 469.0 L631.0 469.2 L634.0 469.4 L637.0 469.7 L640.0 469.9 L643.0 470.3 L646.0 470.6 L649.0 471.0 L652.0 471.3 L655.0 471.7 L658.0 472.0 L661.0 472.4 L664.0 472.7 L667.0 473.0 L670.0 473.3 L673.0 473.6 L676.0 474.0 L679.0 474.3 L682.0 474.7 L685.0 475.0 L688.0 475.3 L691.0 475.6 L694.0 475.9 L697.0 476.1 L700.0 476.3 L703.0 476.6 L706.0 476.8 L709.0 477.1 L712.0 477.4 L715.0 477.8 L718.0 478.2 L721.0 478.6 L724.0 479.0 L727.0 479.5 L730.0 479.9 L733.0 480.2 L736.0 480.6 L739.0 480.9 L742.0 481.2 L745.0 481.5 L748.0 481.9 L751.0 482.2 L754.0 482.6 L757.0 483.0 L760.0 483.4 L763.0 483.7 L766.0 484.1 L769.0 484.4 L772.0 484.7 L775.0 485.1 L778.0 485.4 L781.0 485.8 L784.0 486.2 L787.0 486.6 L790.0 487.1 L793.0 487.6 L796.0 488.1 L799.0 488.6 L802.0 489.0 L805.0 489.4 L808.0 489.8 L811.0 490.1 L814.0 490.4 L817.0 490.8 L820.0 491.1 L823.0 491.5 L826.0 491.9 L829.0 492.3 L832.0 492.7 L835.0 493.1 L838.0 493.6 L841.0 494.0 L844.0 494.4 L847.0 494.8 L850.0 495.2 L853.0 495.6 L856.0 496.0 L859.0 496.4 L862.0 496.9 L865.0 497.4 L868.0 497.8 L871.0 498.3 L874.0 498.7 L877.0 499.1 L880.0 499.4 L883.0 499.7 L886.0 500.0 L889.0 500.3 L892.0 500.5 L895.0 500.9 L898.0 501.2 L901.0 501.6 L904.0 502.0 L907.0 502.4 L910.0 502.8 L913.0 503.2 L916.0 503.6 L919.0 504.0 L922.0 504.3 L925.0 504.6 L928.0 504.9 L931.0 505.3 L934.0 505.6 L937.0 506.0 L940.0 506.3 L943.0 506.7 L946.0 507.0 L949.0 507.3 L952.0 507.6 L955.0 507.9 L958.0 508.1 L961.0 508.4 L964.0 508.7 L967.0 509.0 L970.0 509.3 L973.0 509.8 L976.0 510.2 L979.0 510.7 L982.0 511.2 L985.0 511.6 L988.0 512.1 L991.0 512.5 L994.0 512.9 L997.0 513.2 L1000.0 513.6 L1003.0 514.0 L1006.0 514.4 L1009.0 514.8 L1012.0 515.3 L1015.0 515.7 L1018.0 516.2 L1021.0 516.7 L1024.0 517.1 L1027.0 517.6 L1030.0 518.0 L1033.0 518.5 L1036.0 518.9 L1039.0 519.4 L1042.0 519.9 L1045.0 520.5 L1048.0 521.1 L1051.0 521.7 L1054.0 522.3 L1057.0 522.8 L1060.0 523.4 L1063.0 523.9 L1066.0 524.3 L1069.0 524.7 L1072.0 525.1 L1075.0 525.5 L1078.0 525.9 L1081.0 526.4 L1084.0 526.8 L1087.0 527.3 L1090.0 527.8 L1093.0 528.3 L1096.0 528.8 L1099.0 529.4 L1102.0 529.9 L1105.0 530.4 L1108.0 530.9 L1111.0 531.4 L1114.0 531.9 L1117.0 532.4 L1120.0 532.9 L1123.0 533.4 L1126.0 533.8 L1129.0 534.2 L1132.0 534.6 L1135.0 534.8 L1138.0 535.0 L1141.0 535.2 L1144.0 535.3 L1147.0 535.4 L1150.0 535.6 L1153.0 535.7 L1156.0 535.9 L1159.0 536.1 L1162.0 536.4 L1165.0 536.7 L1168.0 536.9 L1171.0 537.2 L1174.0 537.4 L1177.0 537.6 L1180.0 537.8 L1183.0 538.0 L1186.0 538.2 L1189.0 538.4 L1192.0 538.7 L1195.0 539.0 L1198.0 539.2 L1201.0 539.5 L1204.0 539.8 L1207.0 540.1 L1210.0 540.3 L1213.0 540.5 L1216.0 540.7 L1219.0 540.9 L1222.0 541.1 L1225.0 541.4 L1228.0 541.6 L1231.0 541.9 L1234.0 542.2 L1237.0 542.5 L1240.0 542.8 L1243.0 543.1 L1246.0 543.3 L1249.0 543.5 L1252.0 543.6 L1255.0 543.7 L1258.0 543.8 L1261.0 543.9 L1263.3 543.8" stroke="#68AD2C"/>
<path d="M142.0 456.6 L145.0 456.6 L148.0 456.5 L151.0 456.5 L154.0 456.5 L157.0 456.5 L160.0 456.4 L163.0 456.4 L166.0 456.4 L169.0 456.4 L172.0 456.3 L175.0 456.3 L178.0 456.3 L181.0 456.2 L184.0 456.2 L187.0 456.2 L190.0 456.2 L193.0 456.1 L196.0 456.1 L199.0 456.1 L202.0 456.0 L205.0 456.0 L208.0 456.0 L211.0 456.0 L214.0 456.0 L217.0 456.0 L220.0 456.0 L223.0 456.0 L226.0 455.9 L229.0 455.9 L232.0 455.8 L235.0 455.8 L238.0 455.7 L241.0 455.7 L244.0 455.6 L247.0 455.6 L250.0 455.6 L253.0 455.5 L256.0 455.5 L259.0 455.4 L262.0 455.3 L265.0 455.3 L268.0 455.2 L271.0 455.2 L274.0 455.2 L277.0 455.2 L280.0 455.2 L283.0 455.2 L286.0 455.2 L289.0 455.1 L292.0 455.0 L295.0 455.0 L298.0 454.9 L301.0 454.8 L304.0 454.8 L307.0 454.7 L310.0 454.7 L313.0 454.6 L316.0 454.6 L319.0 454.5 L322.0 454.4 L325.0 454.3 L328.0 454.3 L331.0 454.3 L334.0 454.3 L337.0 454.4 L340.0 454.4 L343.0 454.4 L346.0 454.4 L349.0 454.4 L352.0 454.3 L355.0 454.2 L358.0 454.0 L361.0 454.0 L364.0 453.9 L367.0 453.9 L370.0 453.9 L373.0 453.8 L376.0 453.8 L379.0 453.7 L382.0 453.6 L385.0 453.5 L388.0 453.4 L391.0 453.4 L394.0 453.5 L397.0 453.5 L400.0 453.6 L403.0 453.6 L406.0 453.6 L409.0 453.5 L412.0 453.4 L415.0 453.2 L418.0 453.1 L421.0 453.0 L424.0 452.9 L427.0 452.8 L430.0 452.8 L433.0 452.7 L436.0 452.7 L439.0 452.6 L442.0 452.4 L445.0 452.3 L448.0 452.2 L451.0 452.2 L454.0 452.2 L457.0 452.3 L460.0 452.3 L463.0 452.4 L466.0 452.4 L469.0 452.3 L472.0 452.2 L475.0 452.1 L478.0 451.9 L481.0 451.8 L484.0 451.8 L487.0 451.8 L490.0 451.8 L493.0 451.8 L496.0 451.7 L499.0 451.7 L502.0 451.6 L505.0 451.6 L508.0 451.6 L511.0 451.6 L514.0 451.7 L517.0 451.8 L520.0 451.9 L523.0 452.1 L526.0 452.2 L529.0 452.2 L532.0 452.2 L535.0 452.2 L538.0 452.1 L541.0 452.1 L544.0 452.1 L547.0 452.2 L550.0 452.2 L553.0 452.3 L556.0 452.4 L559.0 452.4 L562.0 452.4 L565.0 452.4 L568.0 452.5 L571.0 452.5 L574.0 452.6 L577.0 452.8 L580.0 453.0 L583.0 453.1 L586.0 453.3 L589.0 453.3 L592.0 453.3 L595.0 453.3 L598.0 453.3 L601.0 453.2 L604.0 453.2 L607.0 453.3 L610.0 453.3 L613.0 453.4 L616.0 453.5 L619.0 453.5 L622.0 453.5 L625.0 453.5 L628.0 453.5 L631.0 453.5 L634.0 453.6 L637.0 453.7 L640.0 453.9 L643.0 454.1 L646.0 454.2 L649.0 454.3 L652.0 454.3 L655.0 454.3 L658.0 454.2 L661.0 454.2 L664.0 454.2 L667.0 454.2 L670.0 454.2 L673.0 454.3 L676.0 454.4 L679.0 454.4 L682.0 454.4 L685.0 454.4 L688.0 454.4 L691.0 454.4 L694.0 454.5 L697.0 454.6 L700.0 454.8 L703.0 454.9 L706.0 455.1 L709.0 455.2 L712.0 455.2 L715.0 455.2 L718.0 455.1 L721.0 455.1 L724.0 455.1 L727.0 455.1 L730.0 455.2 L733.0 455.3 L736.0 455.3 L739.0 455.4 L742.0 455.4 L745.0 455.4 L748.0 455.4 L751.0 455.5 L754.0 455.5 L757.0 455.7 L760.0 455.8 L763.0 456.0 L766.0 456.1 L769.0 456.3 L772.0 456.3 L775.0 456.3 L778.0 456.3 L781.0 456.2 L784.0 456.2 L787.0 456.2 L790.0 456.2 L793.0 456.3 L796.0 456.4 L799.0 456.4 L802.0 456.4 L805.0 456.4 L808.0 456.4 L811.0 456.4 L814.0 456.4 L817.0 456.4 L820.0 456.6 L823.0 456.7 L826.0 456.8 L829.0 456.9 L832.0 456.9 L835.0 456.8 L838.0 456.8 L841.0 456.7 L844.0 456.6 L847.0 456.5 L850.0 456.5 L853.0 456.5 L856.0 456.6 L859.0 456.6 L862.0 456.6 L865.0 456.5 L868.0 456.5 L871.0 456.4 L874.0 456.4 L877.0 456.5 L880.0 456.6 L883.0 456.7 L886.0 456.8 L889.0 456.9 L892.0 457.0 L895.0 456.9 L898.0 456.9 L901.0 456.8 L904.0 456.8 L907.0 456.8 L910.0 456.8 L913.0 456.8 L916.0 456.9 L919.0 457.0 L922.0 457.0 L925.0 457.0 L928.0 457.0 L931.0 457.0 L934.0 457.1 L937.0 457.2 L940.0 457.3 L943.0 457.5 L946.0 457.7 L949.0 457.8 L952.0 457.9 L955.0 458.0 L958.0 458.0 L961.0 457.9 L964.0 457.9 L967.0 457.9 L970.0 458.0 L973.0 458.0 L976.0 458.1 L979.0 458.2 L982.0 458.2 L985.0 458.3 L988.0 458.3 L991.0 458.3 L994.0 458.3 L997.0 458.4 L1000.0 458.5 L1003.0 458.6 L1006.0 458.7 L1009.0 458.9 L1012.0 458.9 L1015.0 458.9 L1018.0 458.9 L1021.0 458.8 L1024.0 458.7 L1027.0 458.7 L1030.0 458.7 L1033.0 458.7 L1036.0 458.7 L1039.0 458.7 L1042.0 458.7 L1045.0 458.7 L1048.0 458.7 L1051.0 458.6 L1054.0 458.6 L1057.0 458.6 L1060.0 458.7 L1063.0 458.8 L1066.0 458.9 L1069.0 459.0 L1072.0 459.1 L1075.0 459.1 L1078.0 459.1 L1081.0 459.0 L1084.0 458.9 L1087.0 458.9 L1090.0 458.8 L1093.0 458.9 L1096.0 458.9 L1099.0 459.0 L1102.0 459.0 L1105.0 459.1 L1108.0 459.1 L1111.0 459.1 L1114.0 459.1 L1117.0 459.2 L1120.0 459.3 L1123.0 459.4 L1126.0 459.6 L1129.0 459.8 L1132.0 459.9 L1135.0 460.0 L1138.0 460.1 L1141.0 460.1 L1144.0 460.1 L1147.0 460.1 L1150.0 460.1 L1153.0 460.2 L1156.0 460.3 L1159.0 460.4 L1162.0 460.5 L1165.0 460.6 L1168.0 460.7 L1171.0 460.7 L1174.0 460.8 L1177.0 460.9 L1180.0 461.0 L1183.0 461.1 L1186.0 461.3 L1189.0 461.5 L1192.0 461.7 L1195.0 461.8 L1198.0 461.9 L1201.0 461.9 L1204.0 461.8 L1207.0 461.8 L1210.0 461.8 L1213.0 461.9 L1216.0 461.9 L1219.0 462.0 L1222.0 462.1 L1225.0 462.2 L1228.0 462.2 L1231.0 462.2 L1234.0 462.2 L1237.0 462.3 L1240.0 462.3 L1243.0 462.5 L1246.0 462.6 L1249.0 462.8 L1252.0 462.9 L1255.0 463.0 L1257.0 462.8" stroke="#ECAD08"/>
<path d="M142.0 457.0 L145.0 457.0 L148.0 457.0 L151.0 456.9 L154.0 456.9 L157.0 456.9 L160.0 456.9 L163.0 456.9 L166.0 456.8 L169.0 456.8 L172.0 456.8 L175.0 456.8 L178.0 456.7 L181.0 456.7 L184.0 456.7 L187.0 456.7 L190.0 456.7 L193.0 456.7 L196.0 456.7 L199.0 456.6 L202.0 456.6 L205.0 456.6 L208.0 456.5 L211.0 456.5 L214.0 456.5 L217.0 456.5 L220.0 456.4 L223.0 456.4 L226.0 456.4 L229.0 456.4 L232.0 456.4 L235.0 456.4 L238.0 456.4 L241.0 456.4 L244.0 456.4 L247.0 456.4 L250.0 456.4 L253.0 456.4 L256.0 456.5 L259.0 456.5 L262.0 456.5 L265.0 456.5 L268.0 456.5 L271.0 456.4 L274.0 456.3 L277.0 456.3 L280.0 456.2 L283.0 456.1 L286.0 456.1 L289.0 456.0 L292.0 456.0 L295.0 456.0 L298.0 456.0 L301.0 455.9 L304.0 455.9 L307.0 455.9 L310.0 455.8 L313.0 455.8 L316.0 455.7 L319.0 455.7 L322.0 455.7 L325.0 455.7 L328.0 455.7 L331.0 455.7 L334.0 455.7 L337.0 455.7 L340.0 455.7 L343.0 455.6 L346.0 455.5 L349.0 455.4 L352.0 455.3 L355.0 455.3 L358.0 455.2 L361.0 455.2 L364.0 455.3 L367.0 455.3 L370.0 455.4 L373.0 455.4 L376.0 455.5 L379.0 455.5 L382.0 455.5 L385.0 455.5 L388.0 455.4 L391.0 455.4 L394.0 455.4 L397.0 455.4 L400.0 455.4 L403.0 455.4 L406.0 455.4 L409.0 455.4 L412.0 455.3 L415.0 455.2 L418.0 455.1 L421.0 454.9 L424.0 454.8 L427.0 454.6 L430.0 454.5 L433.0 454.5 L436.0 454.5 L439.0 454.5 L442.0 454.5 L445.0 454.6 L448.0 454.6 L451.0 454.6 L454.0 454.5 L457.0 454.5 L460.0 454.5 L463.0 454.4 L466.0 454.4 L469.0 454.4 L472.0 454.4 L475.0 454.4 L478.0 454.5 L481.0 454.5 L484.0 454.5 L487.0 454.5 L490.0 454.4 L493.0 454.4 L496.0 454.3 L499.0 454.3 L502.0 454.3 L505.0 454.3 L508.0 454.4 L511.0 454.5 L514.0 454.7 L517.0 454.8 L520.0 454.9 L523.0 455.0 L526.0 455.0 L529.0 455.0 L532.0 454.9 L535.0 454.9 L538.0 454.9 L541.0 454.8 L544.0 454.8 L547.0 454.8 L550.0 454.8 L553.0 454.8 L556.0 454.8 L559.0 454.7 L562.0 454.7 L565.0 454.6 L568.0 454.5 L571.0 454.4 L574.0 454.4 L577.0 454.4 L580.0 454.5 L583.0 454.6 L586.0 454.7 L589.0 454.8 L592.0 454.9 L595.0 454.9 L598.0 455.0 L601.0 455.0 L604.0 455.0 L607.0 455.0 L610.0 455.0 L613.0 455.0 L616.0 455.0 L619.0 455.1 L622.0 455.2 L625.0 455.3 L628.0 455.5 L631.0 455.6 L634.0 455.6 L637.0 455.7 L640.0 455.8 L643.0 455.9 L646.0 455.9 L649.0 456.1 L652.0 456.2 L655.0 456.4 L658.0 456.6 L661.0 456.8 L664.0 457.0 L667.0 457.1 L670.0 457.2 L673.0 457.2 L676.0 457.2 L679.0 457.2 L682.0 457.2 L685.0 457.2 L688.0 457.2 L691.0 457.2 L694.0 457.2 L697.0 457.3 L700.0 457.4 L703.0 457.4 L706.0 457.4 L709.0 457.5 L712.0 457.5 L715.0 457.5 L718.0 457.5 L721.0 457.6 L724.0 457.7 L727.0 457.8 L730.0 457.9 L733.0 458.1 L736.0 458.2 L739.0 458.3 L742.0 458.4 L745.0 458.5 L748.0 458.5 L751.0 458.5 L754.0 458.5 L757.0 458.5 L760.0 458.5 L763.0 458.6 L766.0 458.7 L769.0 458.8 L772.0 458.9 L775.0 459.0 L778.0 459.2 L781.0 459.3 L784.0 459.3 L787.0 459.4 L790.0 459.5 L793.0 459.5 L796.0 459.6 L799.0 459.7 L802.0 459.8 L805.0 460.0 L808.0 460.1 L811.0 460.2 L814.0 460.2 L817.0 460.3 L820.0 460.2 L823.0 460.2 L826.0 460.1 L829.0 460.1 L832.0 460.1 L835.0 460.1 L838.0 460.2 L841.0 460.2 L844.0 460.4 L847.0 460.5 L850.0 460.6 L853.0 460.8 L856.0 460.9 L859.0 461.0 L862.0 461.0 L865.0 461.1 L868.0 461.2 L871.0 461.4 L874.0 461.5 L877.0 461.7 L880.0 461.9 L883.0 462.0 L886.0 462.2 L889.0 462.3 L892.0 462.3 L895.0 462.4 L898.0 462.4 L901.0 462.5 L904.0 462.5 L907.0 462.6 L910.0 462.8 L913.0 462.9 L916.0 463.1 L919.0 463.4 L922.0 463.6 L925.0 463.7 L928.0 463.9 L931.0 464.0 L934.0 464.1 L937.0 464.2 L940.0 464.3 L943.0 464.3 L946.0 464.4 L949.0 464.6 L952.0 464.7 L955.0 464.8 L958.0 464.9 L961.0 464.9 L964.0 465.0 L967.0 465.0 L970.0 465.0 L973.0 465.0 L976.0 465.0 L979.0 465.1 L982.0 465.2 L985.0 465.3 L988.0 465.5 L991.0 465.7 L994.0 465.9 L997.0 466.1 L1000.0 466.2 L1003.0 466.4 L1006.0 466.5 L1009.0 466.6 L1012.0 466.6 L1015.0 466.7 L1018.0 466.8 L1021.0 467.0 L1024.0 467.1 L1027.0 467.2 L1030.0 467.4 L1033.0 467.5 L1036.0 467.6 L1039.0 467.7 L1042.0 467.7 L1045.0 467.8 L1048.0 467.8 L1051.0 467.9 L1054.0 468.0 L1057.0 468.1 L1060.0 468.3 L1063.0 468.5 L1066.0 468.6 L1069.0 468.8 L1072.0 468.9 L1075.0 469.0 L1078.0 469.0 L1081.0 469.0 L1084.0 469.0 L1087.0 469.0 L1090.0 469.0 L1093.0 469.0 L1096.0 469.0 L1099.0 469.0 L1102.0 469.1 L1105.0 469.1 L1108.0 469.2 L1111.0 469.2 L1114.0 469.2 L1117.0 469.2 L1120.0 469.2 L1123.0 469.2 L1126.0 469.3 L1129.0 469.4 L1132.0 469.5 L1135.0 469.7 L1138.0 469.8 L1141.0 470.0 L1144.0 470.1 L1147.0 470.2 L1150.0 470.3 L1153.0 470.3 L1156.0 470.3 L1159.0 470.3 L1162.0 470.3 L1165.0 470.4 L1168.0 470.4 L1171.0 470.5 L1174.0 470.6 L1177.0 470.7 L1180.0 470.8 L1183.0 470.9 L1186.0 471.0 L1189.0 471.0 L1192.0 471.0 L1195.0 471.1 L1198.0 471.2 L1201.0 471.3 L1204.0 471.4 L1207.0 471.6 L1210.0 471.7 L1213.0 471.9 L1216.0 472.0 L1219.0 472.1 L1222.0 472.1 L1225.0 472.2 L1228.0 472.2 L1231.0 472.2 L1234.0 472.2 L1237.0 472.2 L1240.0 472.3 L1243.0 472.4 L1246.0 472.6 L1249.0 472.7 L1252.0 472.9 L1255.0 473.0 L1258.0 473.2 L1261.0 473.3 L1263.6 473.7" stroke="#ECAD08"/>
<path d="M142.0 454.5 L145.0 454.4 L148.0 454.4 L151.0 454.3 L154.0 454.3 L157.0 454.2 L160.0 454.2 L163.0 454.1 L166.0 454.1 L169.0 454.0 L172.0 454.0 L175.0 453.9 L178.0 453.9 L181.0 453.8 L184.0 453.8 L187.0 453.7 L190.0 453.7 L193.0 453.6 L196.0 453.6 L199.0 453.5 L202.0 453.5 L205.0 453.4 L208.0 453.4 L211.0 453.3 L214.0 453.2 L217.0 453.2 L220.0 453.1 L223.0 453.1 L226.0 453.0 L229.0 453.0 L232.0 452.9 L235.0 452.9 L238.0 452.8 L241.0 452.8 L244.0 452.7 L247.0 452.7 L250.0 452.6 L253.0 452.6 L256.0 452.5 L259.0 452.5 L262.0 452.4 L265.0 452.3 L268.0 452.3 L271.0 452.2 L274.0 452.2 L277.0 452.1 L280.0 452.1 L283.0 452.0 L286.0 452.0 L289.0 451.9 L292.0 451.9 L295.0 451.8 L298.0 451.7 L301.0 451.7 L304.0 451.6 L307.0 451.6 L310.0 451.5 L313.0 451.5 L316.0 451.4 L319.0 451.3 L322.0 451.3 L325.0 451.2 L328.0 451.2 L331.0 451.1 L334.0 451.0 L337.0 451.0 L340.0 450.9 L343.0 450.9 L346.0 450.8 L349.0 450.7 L352.0 450.7 L355.0 450.6 L358.0 450.6 L361.0 450.5 L364.0 450.4 L367.0 450.4 L370.0 450.3 L373.0 450.3 L376.0 450.2 L379.0 450.1 L382.0 450.1 L385.0 450.0 L388.0 450.0 L391.0 449.9 L394.0 449.8 L397.0 449.8 L400.0 449.7 L403.0 449.6 L406.0 449.6 L409.0 449.5 L412.0 449.5 L415.0 449.4 L418.0 449.3 L421.0 449.3 L424.0 449.2 L427.0 449.1 L430.0 449.1 L433.0 449.0 L436.0 449.0 L439.0 448.9 L442.0 448.8 L445.0 448.8 L448.0 448.7 L451.0 448.6 L454.0 448.6 L457.0 448.5 L460.0 448.5 L463.0 448.4 L466.0 448.3 L469.0 448.3 L472.0 448.2 L475.0 448.1 L478.0 448.1 L481.0 448.0 L484.0 447.9 L487.0 447.9 L490.0 447.8 L493.0 447.7 L496.0 447.7 L499.0 447.6 L502.0 447.6 L505.0 447.5 L508.0 447.4 L511.0 447.4 L514.0 447.3 L517.0 447.2 L520.0 447.2 L523.0 447.1 L526.0 447.0 L529.0 447.0 L532.0 446.9 L535.0 446.8 L538.0 446.8 L541.0 446.7 L544.0 446.7 L547.0 446.6 L550.0 446.5 L553.0 446.5 L556.0 446.4 L559.0 446.3 L562.0 446.3 L565.0 446.2 L568.0 446.1 L571.0 446.1 L574.0 446.0 L577.0 445.9 L580.0 445.9 L583.0 445.8 L586.0 445.7 L589.0 445.7 L592.0 445.6 L595.0 445.5 L598.0 445.4 L601.0 445.4 L604.0 445.3 L607.0 445.2 L610.0 445.2 L613.0 445.1 L616.0 445.0 L619.0 445.0 L622.0 444.9 L625.0 444.8 L628.0 444.7 L631.0 444.7 L634.0 444.6 L637.0 444.5 L640.0 444.5 L643.0 444.4 L646.0 444.3 L649.0 444.2 L652.0 444.2 L655.0 444.1 L658.0 444.0 L661.0 444.0 L664.0 443.9 L667.0 443.8 L670.0 443.7 L673.0 443.7 L676.0 443.6 L679.0 443.5 L682.0 443.4 L685.0 443.4 L688.0 443.3 L691.0 443.2 L694.0 443.1 L697.0 443.1 L700.0 443.0 L703.0 442.9 L706.0 442.8 L709.0 442.8 L712.0 442.7 L715.0 442.6 L718.0 442.5 L721.0 442.5 L724.0 442.4 L727.0 442.3 L730.0 442.2 L733.0 442.1 L736.0 442.0 L739.0 442.0 L742.0 441.9 L745.0 441.8 L748.0 441.7 L751.0 441.6 L754.0 441.5 L757.0 441.5 L760.0 441.4 L763.0 441.3 L766.0 441.2 L769.0 441.1 L772.0 441.1 L775.0 441.0 L778.0 440.9 L781.0 440.8 L784.0 440.8 L787.0 440.7 L790.0 440.6 L793.0 440.6 L796.0 440.5 L799.0 440.4 L802.0 440.4 L805.0 440.3 L808.0 440.2 L811.0 440.2 L814.0 440.1 L817.0 440.1 L820.0 440.0 L823.0 439.9 L826.0 439.9 L829.0 439.8 L832.0 439.8 L835.0 439.7 L838.0 439.7 L841.0 439.6 L844.0 439.6 L847.0 439.5 L850.0 439.5 L853.0 439.4 L856.0 439.4 L859.0 439.3 L862.0 439.3 L865.0 439.2 L868.0 439.2 L871.0 439.1 L874.0 439.1 L877.0 439.0 L880.0 439.0 L883.0 438.9 L886.0 438.9 L889.0 438.8 L892.0 438.7 L895.0 438.7 L898.0 438.6 L901.0 438.6 L904.0 438.5 L907.0 438.5 L910.0 438.4 L913.0 438.3 L916.0 438.3 L919.0 438.2 L922.0 438.2 L925.0 438.1 L928.0 438.0 L931.0 438.0 L934.0 437.9 L937.0 437.9 L940.0 437.8 L943.0 437.7 L946.0 437.7 L949.0 437.6 L952.0 437.5 L955.0 437.5 L958.0 437.4 L961.0 437.4 L964.0 437.3 L967.0 437.2 L970.0 437.2 L973.0 437.1 L976.0 437.1 L979.0 437.0 L982.0 436.9 L985.0 436.9 L988.0 436.8 L991.0 436.8 L994.0 436.7 L997.0 436.7 L1000.0 436.6 L1003.0 436.5 L1006.0 436.5 L1009.0 436.4 L1012.0 436.4 L1015.0 436.3 L1018.0 436.3 L1021.0 436.2 L1024.0 436.2 L1027.0 436.1 L1030.0 436.0 L1033.0 436.0 L1036.0 435.9 L1039.0 435.9 L1042.0 435.8 L1045.0 435.8 L1048.0 435.7 L1051.0 435.6 L1054.0 435.6 L1057.0 435.5 L1060.0 435.5 L1063.0 435.4 L1066.0 435.4 L1069.0 435.4 L1072.0 435.3 L1075.0 435.3 L1078.0 435.2 L1081.0 435.2 L1084.0 435.2 L1087.0 435.1 L1090.0 435.1 L1093.0 435.1 L1096.0 435.0 L1099.0 435.0 L1102.0 435.0 L1105.0 435.0 L1108.0 434.9 L1111.0 434.9 L1114.0 434.9 L1117.0 434.9 L1120.0 434.9 L1123.0 434.9 L1126.0 434.8 L1129.0 434.8 L1132.0 434.8 L1135.0 434.8 L1138.0 434.8 L1141.0 434.8 L1144.0 434.8 L1147.0 434.7 L1150.0 434.7 L1153.0 434.7 L1156.0 434.7 L1159.0 434.7 L1162.0 434.7 L1165.0 434.7 L1168.0 434.7 L1171.0 434.6 L1174.0 434.6 L1177.0 434.6 L1180.0 434.6 L1183.0 434.6 L1186.0 434.6 L1189.0 434.6 L1192.0 434.6 L1195.0 434.6 L1198.0 434.6 L1201.0 434.5 L1204.0 434.5 L1207.0 434.5 L1210.0 434.5 L1213.0 434.5 L1216.0 434.5 L1219.0 434.5 L1222.0 434.5 L1225.0 434.5 L1228.0 434.4 L1231.0 434.4 L1234.0 434.4 L1237.0 434.4 L1239.0 434.4" stroke="#111111"/>
</g>
<path d="M142.0 453.0 L146.0 452.9 L150.0 452.7 L154.0 452.6 L158.0 452.5 L162.0 452.3 L166.0 452.2 L170.0 452.1 L174.0 452.0 L178.0 451.8 L182.0 451.7 L186.0 451.6 L190.0 451.4 L194.0 451.3 L198.0 451.2 L202.0 451.0 L206.0 450.9 L210.0 450.8 L214.0 450.6 L218.0 450.5 L222.0 450.3 L226.0 450.2 L230.0 450.0 L234.0 449.9 L238.0 449.7 L242.0 449.6 L246.0 449.4 L250.0 449.3 L254.0 449.1 L258.0 448.9 L262.0 448.8 L266.0 448.6 L270.0 448.5 L274.0 448.3 L278.0 448.1 L282.0 448.0 L286.0 447.8 L290.0 447.7 L294.0 447.5 L298.0 447.4 L302.0 447.2 L306.0 447.1 L310.0 446.9 L314.0 446.8 L318.0 446.7 L322.0 446.6 L326.0 446.4 L330.0 446.3 L334.0 446.2 L338.0 446.0 L342.0 445.9 L346.0 445.8 L350.0 445.7 L354.0 445.6 L358.0 445.4 L362.0 445.3 L366.0 445.2 L370.0 445.0 L374.0 444.9 L378.0 444.8 L382.0 444.6 L386.0 444.5 L390.0 444.4 L394.0 444.2 L398.0 444.1 L402.0 443.9 L406.0 443.8 L410.0 443.6 L414.0 443.4 L418.0 443.3 L422.0 443.1 L426.0 442.9 L430.0 442.7 L434.0 442.5 L438.0 442.3 L442.0 442.1 L446.0 441.9 L450.0 441.7 L454.0 441.5 L458.0 441.3 L462.0 441.1 L466.0 440.9 L470.0 440.7 L474.0 440.4 L478.0 440.2 L482.0 440.0 L486.0 439.7 L490.0 439.5 L494.0 439.3 L498.0 439.0 L502.0 438.8 L506.0 438.6 L510.0 438.3 L514.0 438.1 L518.0 437.8 L522.0 437.6 L526.0 437.3 L530.0 437.1 L534.0 436.8 L538.0 436.5 L542.0 436.2 L546.0 435.9 L550.0 435.7 L554.0 435.4 L558.0 435.1 L562.0 434.8 L566.0 434.5 L570.0 434.2 L574.0 433.9 L578.0 433.6 L582.0 433.3 L586.0 433.0 L590.0 432.7 L594.0 432.4 L598.0 432.1 L602.0 431.9 L606.0 431.6 L610.0 431.3 L614.0 431.1 L618.0 430.8 L622.0 430.5 L626.0 430.3 L630.0 430.0 L634.0 429.7 L638.0 429.5 L642.0 429.2 L646.0 429.0 L650.0 428.7 L654.0 428.5 L658.0 428.2 L662.0 427.9 L666.0 427.7 L670.0 427.4 L674.0 427.2 L678.0 426.9 L682.0 426.6 L686.0 426.4 L690.0 426.1 L694.0 425.8 L698.0 425.5 L702.0 425.3 L706.0 425.0 L710.0 424.7 L714.0 424.4 L718.0 424.1 L722.0 423.8 L726.0 423.5 L730.0 423.2 L734.0 422.9 L738.0 422.6 L742.0 422.3 L746.0 422.0 L750.0 421.7 L754.0 421.4 L758.0 421.1 L762.0 420.8 L766.0 420.5 L770.0 420.2 L774.0 419.9 L778.0 419.6 L782.0 419.3 L786.0 419.0 L790.0 418.7 L794.0 418.4 L798.0 418.1 L802.0 417.9 L806.0 417.6 L810.0 417.3 L814.0 417.0 L818.0 416.8 L822.0 416.5 L826.0 416.2 L830.0 416.0 L834.0 415.7 L838.0 415.5 L842.0 415.2 L846.0 414.9 L850.0 414.7 L854.0 414.4 L858.0 414.2 L862.0 413.9 L866.0 413.6 L870.0 413.4 L874.0 413.1 L878.0 412.9 L882.0 412.6 L886.0 412.3 L890.0 412.1 L894.0 411.8 L898.0 411.5 L902.0 411.3 L906.0 411.0 L910.0 410.7 L914.0 410.5 L918.0 410.2 L922.0 409.9 L926.0 409.7 L930.0 409.4 L934.0 409.1 L938.0 408.8 L942.0 408.6 L946.0 408.3 L950.0 408.0 L954.0 407.8 L958.0 407.5 L962.0 407.2 L966.0 406.9 L970.0 406.6 L974.0 406.4 L978.0 406.1 L982.0 405.8 L986.0 405.5 L990.0 405.2 L994.0 404.9 L998.0 404.6 L1002.0 404.4 L1006.0 404.0 L1010.0 403.7 L1014.0 403.4 L1018.0 403.1 L1022.0 402.8 L1026.0 402.5 L1030.0 402.1 L1034.0 401.8 L1038.0 401.5 L1042.0 401.1 L1046.0 400.8 L1050.0 400.5 L1054.0 400.1 L1058.0 399.8 L1062.0 399.5 L1066.0 399.1 L1070.0 398.8 L1074.0 398.5 L1078.0 398.2 L1082.0 397.9 L1086.0 397.6 L1090.0 397.3 L1094.0 397.0 L1098.0 396.7 L1102.0 396.5 L1106.0 396.2 L1110.0 395.9 L1114.0 395.7 L1118.0 395.4 L1122.0 395.1 L1126.0 394.9 L1130.0 394.6 L1134.0 394.3 L1138.0 394.1 L1142.0 393.9 L1146.0 393.6 L1150.0 393.4 L1154.0 393.2 L1158.0 393.0 L1162.0 392.9 L1166.0 392.7 L1170.0 392.6 L1174.0 392.5 L1178.0 392.4 L1182.0 392.3 L1186.0 392.2 L1190.0 392.1 L1194.0 392.0 L1198.0 391.9 L1202.0 391.9 L1206.0 391.8 L1210.0 391.7 L1214.0 391.7 L1218.0 391.6 L1222.0 391.5 L1226.0 391.4 L1230.0 391.4 L1234.0 391.3 L1238.0 391.2 L1239.3 391.2" stroke="#111" stroke-width="3.2" stroke-dasharray="44.5 27.5" fill="none"/>
<path d="M142.0 456.9 L146.0 456.9 L150.0 456.9 L154.0 456.9 L158.0 456.8 L162.0 456.8 L166.0 456.8 L170.0 456.8 L174.0 456.8 L178.0 456.8 L182.0 456.8 L186.0 456.7 L190.0 456.7 L194.0 456.7 L198.0 456.7 L202.0 456.7 L206.0 456.7 L210.0 456.6 L214.0 456.6 L218.0 456.6 L222.0 456.6 L226.0 456.6 L230.0 456.5 L234.0 456.5 L238.0 456.5 L242.0 456.4 L246.0 456.4 L250.0 456.4 L254.0 456.3 L258.0 456.3 L262.0 456.2 L266.0 456.2 L270.0 456.2 L274.0 456.1 L278.0 456.1 L282.0 456.1 L286.0 456.0 L290.0 456.0 L294.0 456.0 L298.0 456.0 L302.0 456.0 L306.0 456.0 L310.0 456.0 L314.0 456.0 L318.0 456.0 L322.0 456.0 L326.0 456.0 L330.0 456.0 L334.0 456.0 L338.0 456.0 L342.0 456.0 L346.0 456.0 L350.0 456.0 L354.0 456.0 L358.0 456.0 L362.0 456.0 L366.0 456.0 L370.0 456.1 L374.0 456.1 L378.0 456.1 L382.0 456.1 L386.0 456.1 L390.0 456.1 L394.0 456.1 L398.0 456.1 L402.0 456.1 L406.0 456.1 L410.0 456.1 L414.0 456.1 L418.0 456.1 L422.0 456.2 L426.0 456.2 L430.0 456.2 L434.0 456.2 L438.0 456.2 L442.0 456.2 L446.0 456.2 L450.0 456.2 L454.0 456.2 L458.0 456.3 L462.0 456.3 L466.0 456.3 L470.0 456.3 L474.0 456.3 L478.0 456.3 L482.0 456.3 L486.0 456.4 L490.0 456.4 L494.0 456.4 L498.0 456.4 L502.0 456.4 L506.0 456.4 L510.0 456.5 L514.0 456.5 L518.0 456.5 L522.0 456.5 L526.0 456.5 L530.0 456.6 L534.0 456.6 L538.0 456.7 L542.0 456.7 L546.0 456.8 L550.0 456.9 L554.0 456.9 L558.0 457.0 L562.0 457.1 L566.0 457.2 L570.0 457.3 L574.0 457.4 L578.0 457.5 L582.0 457.5 L586.0 457.6 L590.0 457.7 L594.0 457.8 L598.0 457.9 L602.0 457.9 L606.0 458.0 L610.0 458.1 L614.0 458.1 L618.0 458.2 L622.0 458.3 L626.0 458.4 L630.0 458.4 L634.0 458.5 L638.0 458.6 L642.0 458.6 L646.0 458.7 L650.0 458.8 L654.0 458.9 L658.0 458.9 L662.0 459.0 L666.0 459.1 L670.0 459.2 L674.0 459.2 L678.0 459.3 L682.0 459.4 L686.0 459.5 L690.0 459.6 L694.0 459.7 L698.0 459.8 L702.0 459.8 L706.0 459.9 L710.0 460.1 L714.0 460.2 L718.0 460.3 L722.0 460.4 L726.0 460.5 L730.0 460.7 L734.0 460.8 L738.0 460.9 L742.0 461.1 L746.0 461.2 L750.0 461.3 L754.0 461.5 L758.0 461.6 L762.0 461.8 L766.0 461.9 L770.0 462.0 L774.0 462.2 L778.0 462.3 L782.0 462.4 L786.0 462.6 L790.0 462.7 L794.0 462.8 L798.0 462.9 L802.0 463.1 L806.0 463.2 L810.0 463.3 L814.0 463.4 L818.0 463.5 L822.0 463.6 L826.0 463.7 L830.0 463.8 L834.0 463.9 L838.0 464.0 L842.0 464.1 L846.0 464.2 L850.0 464.3 L854.0 464.4 L858.0 464.5 L862.0 464.6 L866.0 464.7 L870.0 464.8 L874.0 464.9 L878.0 465.0 L882.0 465.2 L886.0 465.3 L890.0 465.4 L894.0 465.5 L898.0 465.6 L902.0 465.8 L906.0 465.9 L910.0 466.0 L914.0 466.2 L918.0 466.3 L922.0 466.5 L926.0 466.6 L930.0 466.8 L934.0 466.9 L938.0 467.1 L942.0 467.2 L946.0 467.4 L950.0 467.5 L954.0 467.7 L958.0 467.9 L962.0 468.0 L966.0 468.2 L970.0 468.4 L974.0 468.5 L978.0 468.7 L982.0 468.9 L986.0 469.0 L990.0 469.2 L994.0 469.4 L998.0 469.5 L1002.0 469.7 L1006.0 469.8 L1010.0 470.0 L1014.0 470.2 L1018.0 470.4 L1022.0 470.5 L1026.0 470.7 L1030.0 470.9 L1034.0 471.1 L1038.0 471.3 L1042.0 471.5 L1046.0 471.6 L1050.0 471.8 L1054.0 472.0 L1058.0 472.2 L1062.0 472.4 L1066.0 472.5 L1070.0 472.7 L1074.0 472.9 L1078.0 473.1 L1082.0 473.2 L1086.0 473.4 L1090.0 473.5 L1094.0 473.7 L1098.0 473.8 L1102.0 474.0 L1106.0 474.1 L1110.0 474.2 L1114.0 474.4 L1118.0 474.5 L1122.0 474.6 L1126.0 474.8 L1130.0 474.9 L1134.0 475.0 L1138.0 475.1 L1142.0 475.3 L1146.0 475.4 L1150.0 475.5 L1154.0 475.6 L1158.0 475.7 L1162.0 475.8 L1166.0 475.9 L1170.0 476.0 L1174.0 476.1 L1178.0 476.2 L1182.0 476.3 L1186.0 476.3 L1190.0 476.4 L1194.0 476.5 L1198.0 476.6 L1202.0 476.6 L1206.0 476.7 L1210.0 476.8 L1214.0 476.9 L1218.0 476.9 L1222.0 477.0 L1226.0 477.1 L1230.0 477.1 L1234.0 477.2 L1238.0 477.3 L1239.2 477.3" stroke="#111" stroke-width="3.2" stroke-dasharray="44.5 27.5" fill="none"/>

<g font-size="32.7px"><text transform="translate(130.5 28.6) scale(0.952 1)" text-anchor="end">300</text><text transform="translate(130.5 102.0) scale(0.952 1)" text-anchor="end">250</text><text transform="translate(130.5 175.5) scale(0.952 1)" text-anchor="end">200</text><text transform="translate(130.5 248.9) scale(0.952 1)" text-anchor="end">150</text><text transform="translate(130.5 322.3) scale(0.952 1)" text-anchor="end">100</text><text transform="translate(130.5 395.7) scale(0.952 1)" text-anchor="end">50</text><text transform="translate(130.5 469.1) scale(0.952 1)" text-anchor="end">0</text><text transform="translate(130.5 542.5) scale(0.952 1)" text-anchor="end">50</text><rect x="85.7" y="534.4" width="8.8" height="2.4" fill="#111"/><text transform="translate(130.5 615.9) scale(0.952 1)" text-anchor="end">100</text><rect x="68.1" y="607.8" width="8.8" height="2.4" fill="#111"/><text transform="translate(130.5 689.2) scale(0.952 1)" text-anchor="end">150</text><rect x="68.1" y="681.2" width="8.8" height="2.4" fill="#111"/><text transform="translate(130.5 762.6) scale(0.952 1)" text-anchor="end">200</text><rect x="68.1" y="754.6" width="8.8" height="2.4" fill="#111"/><text transform="translate(130.5 836.1) scale(0.952 1)" text-anchor="end">250</text><rect x="68.1" y="828.0" width="8.8" height="2.4" fill="#111"/><text transform="translate(130.5 909.5) scale(0.952 1)" text-anchor="end">300</text><rect x="68.1" y="901.4" width="8.8" height="2.4" fill="#111"/><text transform="translate(140.6 936.1) scale(0.952 1)" text-anchor="start">0</text><text transform="translate(318.3 936.1) scale(0.952 1)" text-anchor="middle">10</text><text transform="translate(497.8 936.1) scale(0.952 1)" text-anchor="middle">20</text><text transform="translate(677.3 936.1) scale(0.952 1)" text-anchor="middle">30</text><text transform="translate(856.7 936.1) scale(0.952 1)" text-anchor="middle">40</text><text transform="translate(1036.2 936.1) scale(0.952 1)" text-anchor="middle">50</text><text transform="translate(1215.7 936.1) scale(0.952 1)" text-anchor="middle">60</text><text transform="translate(1395.2 936.1) scale(0.952 1)" text-anchor="middle">70</text></g>
<text x="753.8" y="976.2" font-size="35.9px" text-anchor="middle">time [sec]</text>
<text transform="translate(31.5 466.3) rotate(-90)" font-size="36px" text-anchor="middle">rotation [deg]</text>
<text transform="translate(69 462.2) rotate(-90)" font-size="36px" text-anchor="middle">+ left &amp; - right</text>
<rect x="185.1" y="669.5" width="224.4" height="186.9" fill="#fff" stroke="#111" stroke-width="2"/>
<g font-size="25.6px"><text transform="translate(191.5 697.5) scale(0.957 1)">p0 = 4.5638</text><text transform="translate(191.5 727.2) scale(0.957 1)">p1 = 1.2184e-05</text><text transform="translate(191.5 756.9) scale(0.957 1)">p2 = 2.2781e-06</text><text transform="translate(191.5 786.6) scale(0.957 1)">p3 = -7.3372e-10</text><text transform="translate(191.5 816.3) scale(0.957 1)">p4 = 1.0384e-13</text><text transform="translate(191.5 846.0) scale(0.957 1)">p5 = -5.7017e-18</text></g>
</svg>
</body></html>
